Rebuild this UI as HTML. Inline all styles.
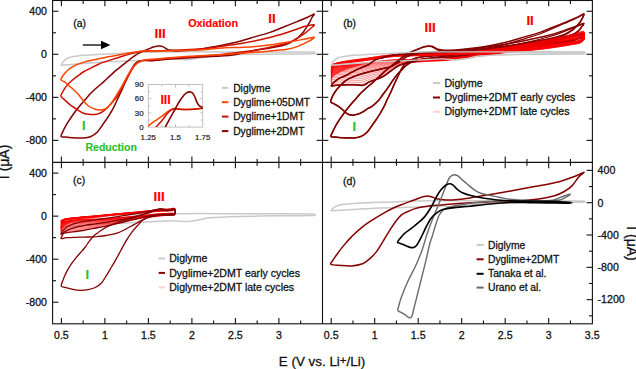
<!DOCTYPE html>
<html><head><meta charset="utf-8"><title>CV figure</title>
<style>html,body{margin:0;padding:0;background:#fff;width:636px;height:369px;overflow:hidden}
body{position:relative;font-family:"Liberation Sans",sans-serif}</style></head>
<body>
<svg width="636" height="369" viewBox="0 0 636 369" style="position:absolute;left:0;top:0">
<rect width="636" height="369" fill="#fff"/>
<path d="M61.3 65.0 C61.3 64.5 62.2 62.9 63.2 61.8 C64.2 60.7 65.4 59.4 67.1 58.5 C68.8 57.6 70.8 57.1 73.6 56.6 C76.4 56.1 80.1 55.7 84.0 55.3 C87.9 54.9 92.7 54.6 97.0 54.4 C101.3 54.2 104.8 54.1 110.0 53.9 C115.2 53.7 122.2 53.3 128.0 53.0 C133.8 52.7 139.7 52.5 145.0 52.3 C150.3 52.1 150.8 52.0 160.0 51.9 C169.2 51.8 186.7 51.8 200.0 51.8 C213.3 51.8 226.7 52.0 240.0 52.0 C253.3 52.0 268.1 52.0 280.0 52.0 C291.9 52.0 305.8 52.0 311.5 52.1 C317.2 52.2 314.3 52.6 314.3 52.9 C314.3 53.2 317.2 53.6 311.5 53.8 C305.8 54.0 291.9 53.9 280.0 54.0 C268.1 54.1 251.6 54.3 240.0 54.6 C228.4 54.9 217.4 55.4 210.3 56.0 C203.2 56.6 201.9 57.7 197.7 58.3 C193.5 58.9 189.4 59.7 185.2 59.8 C181.0 59.9 176.8 58.9 172.6 58.9 C168.4 58.9 165.9 59.2 160.0 59.5 C154.1 59.8 145.4 60.2 137.1 60.6 C128.8 61.0 116.7 61.3 110.0 61.6 C103.3 61.9 101.3 62.1 97.0 62.4 C92.7 62.7 88.3 63.1 84.0 63.4 C79.7 63.7 74.5 64.1 71.0 64.4 C67.5 64.7 64.6 65.0 63.0 65.1 C61.4 65.2 61.3 65.5 61.3 65.0Z" fill="none" stroke="#c9c9c9" stroke-width="1.50" stroke-linejoin="round" stroke-linecap="round"/>
<path d="M61.0 136.5 C60.6 135.6 62.2 133.2 62.9 131.6 C63.6 130.0 64.5 128.2 65.3 126.7 C66.1 125.2 66.8 124.0 67.8 122.4 C68.8 120.8 70.0 119.0 71.4 117.0 C72.8 115.0 74.7 112.4 76.3 110.2 C77.9 108.0 79.6 106.0 81.2 104.1 C82.8 102.2 84.5 100.5 86.0 98.7 C87.5 97.0 88.7 95.5 90.5 93.6 C92.3 91.7 94.9 89.4 97.0 87.5 C99.1 85.6 100.8 84.3 103.0 82.4 C105.2 80.5 107.9 77.8 110.0 75.9 C112.1 74.0 113.6 72.5 115.4 70.9 C117.2 69.4 119.0 68.0 120.8 66.6 C122.6 65.1 124.5 63.7 126.3 62.2 C128.1 60.8 129.9 59.2 131.7 57.9 C133.5 56.5 135.3 55.2 137.1 54.1 C138.9 53.0 140.7 52.2 142.5 51.4 C144.3 50.6 146.2 49.9 148.0 49.2 C149.8 48.5 151.6 47.5 153.4 47.0 C155.2 46.5 157.4 46.0 158.8 45.9 C160.2 45.8 161.0 46.1 162.0 46.4 C163.0 46.7 164.0 47.3 165.0 47.9 C166.0 48.4 166.5 49.2 168.0 49.7 C169.5 50.2 171.2 50.7 174.0 50.8 C176.8 51.0 180.7 50.9 185.0 50.6 C189.3 50.3 195.2 49.9 200.0 49.2 C204.8 48.6 209.1 47.6 214.0 46.7 C218.9 45.8 224.9 44.7 229.2 43.8 C233.5 42.9 235.8 42.4 240.0 41.2 C244.2 40.1 249.5 38.4 254.5 36.9 C259.5 35.4 265.1 34.0 270.0 32.4 C274.9 30.8 279.1 28.8 283.6 27.0 C288.1 25.2 293.7 23.0 297.1 21.6 C300.5 20.2 301.9 19.7 303.9 18.8 C305.9 17.9 307.3 17.3 309.0 16.5 C310.7 15.7 313.7 13.9 314.2 14.1 C314.7 14.3 312.8 16.0 312.0 17.5 C311.2 19.0 310.3 21.1 309.3 22.9 C308.3 24.7 307.0 26.6 305.9 28.3 C304.8 30.0 304.0 31.4 302.5 33.1 C301.0 34.8 299.1 36.9 297.1 38.5 C295.1 40.1 292.6 41.5 290.3 42.6 C288.1 43.7 287.0 44.4 283.6 45.3 C280.2 46.2 274.9 47.1 270.0 48.0 C265.1 48.9 260.7 49.2 254.5 50.4 C248.3 51.5 241.9 53.8 232.8 54.9 C223.7 56.0 210.5 56.4 200.0 57.1 C189.5 57.8 176.7 58.6 170.0 59.1 C163.3 59.6 163.3 59.6 160.0 59.9 C156.7 60.2 152.7 60.7 150.0 60.8 C147.3 60.9 145.7 60.3 144.0 60.4 C142.3 60.4 141.2 60.5 139.8 60.9 C138.4 61.4 136.9 61.7 135.5 63.2 C134.1 64.7 132.5 67.3 131.2 69.7 C129.9 72.1 128.7 75.0 127.5 77.5 C126.3 80.0 125.2 82.4 124.0 85.0 C122.8 87.6 121.7 90.5 120.5 93.0 C119.3 95.5 118.0 98.1 117.0 100.3 C116.0 102.5 115.2 104.3 114.2 106.3 C113.2 108.3 112.0 110.5 110.8 112.5 C109.6 114.5 108.6 116.2 107.3 118.2 C106.0 120.2 104.3 122.3 102.8 124.5 C101.2 126.7 99.2 129.7 98.0 131.2 C96.8 132.7 97.0 132.5 95.8 133.4 C94.6 134.3 92.5 135.8 90.9 136.5 C89.3 137.2 87.8 137.5 86.0 137.7 C84.2 137.9 82.2 137.9 80.0 137.9 C77.8 137.9 75.0 137.8 72.6 137.7 C70.1 137.6 67.2 137.3 65.3 137.1 C63.4 136.9 61.4 137.4 61.0 136.5Z" fill="none" stroke="#850000" stroke-width="1.50" stroke-linejoin="round" stroke-linecap="round"/>
<path d="M60.9 96.2 C60.5 94.6 62.4 92.5 63.2 91.0 C64.0 89.5 64.5 88.5 65.8 86.9 C67.1 85.3 69.0 83.1 71.0 81.3 C73.0 79.5 75.3 77.7 77.5 76.1 C79.7 74.5 81.8 72.8 84.0 71.5 C86.2 70.2 88.3 69.4 90.5 68.3 C92.7 67.2 94.9 66.0 97.0 65.0 C99.1 64.0 100.8 63.2 103.0 62.4 C105.2 61.6 107.0 61.0 110.0 60.1 C113.0 59.2 117.2 57.9 120.8 56.8 C124.4 55.7 128.4 54.5 131.7 53.6 C135.0 52.7 137.3 51.9 140.4 51.5 C143.5 51.1 146.7 51.2 150.0 51.1 C153.3 51.0 151.7 51.1 160.0 50.7 C168.3 50.3 189.7 49.6 200.0 48.9 C210.3 48.2 214.7 47.3 222.0 46.3 C229.3 45.3 236.5 44.3 243.7 43.0 C250.9 41.7 258.2 40.4 265.4 38.6 C272.6 36.9 281.3 34.3 287.1 32.5 C292.9 30.7 296.8 29.1 300.0 28.0 C303.2 26.9 304.2 26.5 306.6 26.0 C309.0 25.5 313.6 24.4 314.2 24.9 C314.8 25.4 311.6 27.6 310.0 29.0 C308.4 30.4 306.8 31.9 304.4 33.6 C302.0 35.3 298.7 37.4 295.8 39.0 C292.9 40.6 292.2 41.5 287.1 43.0 C282.0 44.5 272.6 46.7 265.4 48.2 C258.2 49.7 250.9 50.8 243.7 51.8 C236.5 52.8 229.3 53.6 222.0 54.4 C214.7 55.2 208.7 55.6 200.0 56.3 C191.3 56.9 176.7 57.8 170.0 58.3 C163.3 58.8 163.7 58.9 160.0 59.2 C156.3 59.5 150.8 60.0 148.0 60.2 C145.2 60.4 144.4 60.2 143.0 60.4 C141.6 60.6 140.6 60.9 139.5 61.4 C138.4 61.9 137.5 62.3 136.3 63.5 C135.1 64.7 133.8 66.4 132.5 68.5 C131.2 70.6 129.7 73.5 128.3 76.0 C126.9 78.5 125.5 81.2 124.2 83.6 C122.9 86.0 121.7 88.3 120.5 90.5 C119.3 92.7 118.0 95.2 116.8 97.0 C115.5 98.8 114.2 100.1 113.0 101.5 C111.8 102.9 110.7 104.1 109.6 105.3 C108.5 106.5 107.3 107.8 106.2 108.8 C105.1 109.8 104.2 110.8 102.8 111.6 C101.4 112.4 99.4 113.4 98.0 113.9 C96.6 114.4 96.2 114.4 94.6 114.5 C93.0 114.6 90.5 114.6 88.5 114.3 C86.5 114.0 84.4 113.6 82.4 112.7 C80.4 111.8 78.3 110.3 76.3 109.0 C74.3 107.7 72.0 106.2 70.2 104.8 C68.4 103.4 66.8 101.9 65.3 100.5 C63.8 99.1 61.2 97.8 60.9 96.2Z" fill="none" stroke="#cc1000" stroke-width="1.50" stroke-linejoin="round" stroke-linecap="round"/>
<path d="M60.9 79.6 C60.7 78.5 62.4 76.6 63.2 75.4 C64.0 74.2 64.5 73.5 65.8 72.2 C67.1 70.9 69.0 68.9 71.0 67.6 C73.0 66.3 75.3 65.3 77.5 64.4 C79.7 63.5 81.8 62.8 84.0 62.1 C86.2 61.5 88.3 61.0 90.5 60.5 C92.7 60.0 94.9 59.6 97.0 59.2 C99.1 58.8 100.8 58.3 103.0 57.9 C105.2 57.5 107.0 57.1 110.0 56.6 C113.0 56.1 117.2 55.3 120.8 54.6 C124.4 53.9 128.1 53.1 131.7 52.5 C135.3 51.9 139.8 51.3 142.5 51.0 C145.2 50.7 145.1 50.8 148.0 50.8 C150.9 50.8 151.3 51.2 160.0 51.1 C168.7 51.0 189.7 50.6 200.0 50.1 C210.3 49.6 214.7 48.4 222.0 47.9 C229.3 47.4 236.5 47.7 243.7 47.3 C250.9 46.9 258.2 46.4 265.4 45.6 C272.6 44.8 280.6 43.4 287.1 42.3 C293.6 41.2 299.9 40.0 304.4 39.2 C308.9 38.4 313.5 37.0 314.2 37.3 C314.9 37.6 311.5 39.7 308.8 41.2 C306.1 42.7 301.5 45.0 297.9 46.4 C294.3 47.8 292.5 48.5 287.1 49.3 C281.7 50.1 272.6 50.8 265.4 51.4 C258.2 52.0 250.9 52.5 243.7 53.0 C236.5 53.6 229.3 54.1 222.0 54.6 C214.7 55.1 208.7 55.3 200.0 55.8 C191.3 56.3 176.7 57.2 170.0 57.7 C163.3 58.2 163.7 58.4 160.0 58.7 C156.3 59.0 150.7 59.4 148.0 59.6 C145.3 59.8 145.3 59.7 144.0 60.0 C142.7 60.4 141.6 60.9 140.2 61.6 C138.8 62.3 137.3 63.1 135.8 64.5 C134.3 65.9 132.8 67.6 131.3 69.7 C129.8 71.8 128.3 74.5 126.8 77.1 C125.3 79.7 123.9 82.7 122.4 85.3 C120.9 87.9 119.4 90.3 117.9 92.8 C116.4 95.3 114.9 98.0 113.4 100.2 C111.9 102.4 110.4 104.7 108.9 106.2 C107.4 107.7 106.0 108.6 104.5 109.2 C103.0 109.8 101.7 110.0 100.0 110.0 C98.3 110.0 96.5 109.7 94.6 109.0 C92.7 108.3 90.3 107.3 88.5 106.0 C86.7 104.7 84.9 102.6 83.6 101.1 C82.3 99.6 81.3 98.2 80.5 97.2 C79.7 96.2 80.0 96.2 78.8 94.9 C77.6 93.7 75.3 91.3 73.6 89.7 C71.9 88.1 69.9 86.5 68.4 85.2 C66.9 83.9 65.8 82.8 64.5 81.9 C63.2 81.0 61.1 80.7 60.9 79.6Z" fill="none" stroke="#ff4400" stroke-width="1.50" stroke-linejoin="round" stroke-linecap="round"/>
<g stroke="#b4b4b4" stroke-width="0.8" fill="none">
<rect x="148.3" y="84.6" width="54.4" height="42.5" fill="#fff"/>
<line x1="148.3" y1="91.6" x2="150.3" y2="91.6"/>
<line x1="200.7" y1="91.6" x2="202.7" y2="91.6"/>
<line x1="148.3" y1="98.7" x2="151.3" y2="98.7"/>
<line x1="199.7" y1="98.7" x2="202.7" y2="98.7"/>
<line x1="148.3" y1="105.8" x2="150.3" y2="105.8"/>
<line x1="200.7" y1="105.8" x2="202.7" y2="105.8"/>
<line x1="148.3" y1="112.9" x2="151.3" y2="112.9"/>
<line x1="199.7" y1="112.9" x2="202.7" y2="112.9"/>
<line x1="148.3" y1="120.0" x2="150.3" y2="120.0"/>
<line x1="200.7" y1="120.0" x2="202.7" y2="120.0"/>
<line x1="161.9" y1="84.6" x2="161.9" y2="86.6"/>
<line x1="161.9" y1="127.1" x2="161.9" y2="125.1"/>
<line x1="175.5" y1="84.6" x2="175.5" y2="87.6"/>
<line x1="175.5" y1="127.1" x2="175.5" y2="124.1"/>
<line x1="189.1" y1="84.6" x2="189.1" y2="86.6"/>
<line x1="189.1" y1="127.1" x2="189.1" y2="125.1"/>
</g>
<clipPath id="ci"><rect x="148.3" y="84.6" width="54.4" height="42.5"/></clipPath>
<g clip-path="url(#ci)">
<path d="M146.0 127.5 C146.4 127.2 146.9 126.8 148.3 125.8 C149.7 124.8 152.3 122.8 154.6 121.2 C156.9 119.6 159.8 117.7 162.0 116.1 C164.2 114.5 166.2 112.8 167.8 111.7 C169.4 110.6 170.3 110.0 171.5 109.5 C172.7 109.0 173.0 108.6 175.1 108.6 C177.2 108.6 181.2 109.3 183.9 109.4 C186.6 109.5 189.1 109.4 191.3 109.3 C193.5 109.2 194.9 109.0 197.0 108.7 C199.1 108.5 202.8 108.0 204.0 107.8" fill="none" stroke="#ff4400" stroke-width="1.50" stroke-linejoin="round" stroke-linecap="round"/>
<path d="M154.5 129.5 C154.8 129.1 154.8 128.6 156.1 127.1 C157.3 125.6 160.1 122.8 162.0 120.5 C163.9 118.2 166.1 114.9 167.8 113.1 C169.5 111.2 171.0 110.1 172.2 109.4 C173.4 108.7 173.1 108.8 175.1 108.8 C177.1 108.8 181.2 109.5 183.9 109.6 C186.6 109.7 189.1 109.5 191.3 109.4 C193.5 109.3 194.9 109.1 197.0 108.9 C199.1 108.7 202.8 108.3 204.0 108.2" fill="none" stroke="#cc1000" stroke-width="1.50" stroke-linejoin="round" stroke-linecap="round"/>
<path d="M163.8 129.5 C164.0 129.1 164.3 128.7 165.2 127.1 C166.1 125.5 167.9 122.3 169.3 119.7 C170.7 117.1 172.2 114.4 173.7 111.7 C175.2 109.0 176.6 106.0 178.1 103.6 C179.6 101.1 181.2 98.7 182.5 97.0 C183.8 95.3 184.9 94.0 186.1 93.2 C187.3 92.4 188.7 91.9 189.8 91.9 C190.9 91.9 191.8 92.4 192.7 93.2 C193.5 94.0 194.2 95.4 194.9 97.0 C195.6 98.6 196.4 101.1 197.1 102.6 C197.8 104.1 198.5 105.0 199.3 105.8 C200.1 106.6 201.2 106.9 202.0 107.2 C202.8 107.5 203.7 107.5 204.0 107.6" fill="none" stroke="#850000" stroke-width="1.60" stroke-linejoin="round" stroke-linecap="round"/>
</g>
<g font-family="Liberation Sans, sans-serif" font-size="7.9" fill="#222" stroke="#222" stroke-width="0.2">
<text x="143.6" y="87.3" text-anchor="end">90</text>
<text x="143.6" y="101.4" text-anchor="end">60</text>
<text x="143.6" y="115.6" text-anchor="end">30</text>
<text x="143.6" y="129.8" text-anchor="end">0</text>
<text x="148.3" y="139.7" text-anchor="middle">1.25</text>
<text x="175.5" y="139.7" text-anchor="middle">1.5</text>
<text x="202.7" y="139.7" text-anchor="middle">1.75</text>
</g>
<path d="M331.6 64.9 C333.0 62.7 336.9 64.8 340.0 64.7 C343.1 64.7 346.3 64.7 350.0 64.6 C353.7 64.5 361.0 63.7 362.0 64.0 C363.0 64.3 358.3 65.7 356.0 66.5 C353.7 67.3 350.7 68.0 348.0 69.0 C345.3 70.0 342.3 71.3 340.0 72.5 C337.7 73.7 335.4 75.1 334.0 76.0 C332.6 76.9 332.0 79.8 331.6 78.0 C331.2 76.2 330.2 67.1 331.6 64.9Z" fill="#ff0000" fill-opacity="0.7" stroke="none"/>
<path d="M331.4 65.0 C330.9 64.8 331.7 64.9 332.3 64.6 C332.9 64.4 332.7 64.2 334.8 63.6 C336.9 63.0 339.8 62.1 345.0 61.2 C350.2 60.3 358.5 59.2 366.0 58.2 C373.5 57.2 383.0 55.5 390.0 54.9 C397.0 54.2 401.3 54.4 408.0 54.3 C414.7 54.1 423.0 54.2 430.0 54.0 C437.0 53.8 443.3 53.6 450.0 53.2 C456.7 52.8 461.7 52.6 470.0 51.8 C478.3 51.0 490.0 49.6 500.0 48.2 C510.0 46.8 522.5 44.5 530.0 43.2 C537.5 41.9 540.0 41.2 545.0 40.2 C550.0 39.2 555.5 38.2 560.0 37.2 C564.5 36.2 568.0 35.4 572.0 34.4 C576.0 33.4 582.6 30.6 584.0 31.5 C585.4 32.4 582.5 38.0 580.5 39.6 C578.5 41.2 575.4 40.8 572.0 41.4 C568.6 42.0 564.5 42.6 560.0 43.2 C555.5 43.8 550.0 44.3 545.0 45.0 C540.0 45.7 537.5 46.3 530.0 47.2 C522.5 48.1 510.0 49.2 500.0 50.6 C490.0 52.0 479.2 54.5 470.0 55.8 C460.8 57.1 451.7 57.8 445.0 58.4 C438.3 59.0 436.2 59.1 430.0 59.3 C423.8 59.5 413.0 59.5 408.0 59.5 C403.0 59.5 402.2 59.6 400.0 59.6 C397.8 59.6 396.7 59.7 395.0 59.8 C393.3 59.9 391.7 60.0 390.0 60.1 C388.3 60.2 386.7 60.4 385.0 60.5 C383.3 60.6 381.7 60.8 380.0 61.0 C378.3 61.2 377.0 61.3 375.0 61.6 C373.0 61.9 370.2 62.3 368.0 62.6 C365.8 62.9 364.0 63.2 362.0 63.5 C360.0 63.8 358.8 64.0 356.0 64.2 C353.2 64.5 348.5 64.8 345.0 65.0 C341.5 65.2 337.3 65.6 335.0 65.6 C332.7 65.6 331.8 65.2 331.4 65.0Z" fill="none" stroke="#ff0000" stroke-width="1.00" stroke-linejoin="round" stroke-linecap="round" stroke-opacity="0.42"/>
<path d="M331.4 65.1 C330.9 64.9 331.7 64.9 332.3 64.7 C332.9 64.4 332.7 64.2 334.8 63.6 C336.9 63.1 339.8 62.2 345.0 61.3 C350.2 60.4 358.5 59.4 366.0 58.3 C373.5 57.3 383.0 55.7 390.0 55.0 C397.0 54.4 401.3 54.5 408.0 54.4 C414.7 54.2 423.0 54.3 430.0 54.1 C437.0 53.9 443.3 53.6 450.0 53.3 C456.7 52.9 461.7 52.7 470.0 51.9 C478.3 51.1 490.0 49.8 500.0 48.4 C510.0 46.9 522.5 44.7 530.0 43.4 C537.5 42.1 540.0 41.4 545.0 40.4 C550.0 39.4 555.5 38.4 560.0 37.5 C564.5 36.5 568.0 35.6 572.0 34.7 C576.0 33.8 582.6 31.0 584.0 31.9 C585.4 32.7 582.5 38.2 580.5 39.8 C578.5 41.4 575.4 41.0 572.0 41.6 C568.6 42.2 564.5 42.8 560.0 43.4 C555.5 44.0 550.0 44.5 545.0 45.2 C540.0 45.9 537.5 46.4 530.0 47.4 C522.5 48.3 510.0 49.3 500.0 50.7 C490.0 52.2 479.2 54.6 470.0 55.9 C460.8 57.2 451.7 57.9 445.0 58.5 C438.3 59.1 436.2 59.1 430.0 59.3 C423.8 59.5 413.0 59.5 408.0 59.5 C403.0 59.6 402.2 59.6 400.0 59.6 C397.8 59.7 396.7 59.7 395.0 59.8 C393.3 59.9 391.7 60.0 390.0 60.1 C388.3 60.3 386.7 60.4 385.0 60.5 C383.3 60.7 381.7 60.9 380.0 61.0 C378.3 61.2 377.0 61.4 375.0 61.6 C373.0 61.9 370.2 62.3 368.0 62.7 C365.8 63.0 364.0 63.3 362.0 63.6 C360.0 63.8 358.8 64.0 356.0 64.3 C353.2 64.5 348.5 64.8 345.0 65.1 C341.5 65.3 337.3 65.6 335.0 65.7 C332.7 65.7 331.8 65.3 331.4 65.1Z" fill="none" stroke="#ff0000" stroke-width="1.00" stroke-linejoin="round" stroke-linecap="round" stroke-opacity="0.42"/>
<path d="M331.4 65.3 C330.9 65.2 331.7 65.0 332.3 64.8 C332.9 64.5 332.7 64.2 334.8 63.7 C336.9 63.1 339.8 62.3 345.0 61.4 C350.2 60.5 358.5 59.5 366.0 58.5 C373.5 57.4 383.0 55.8 390.0 55.1 C397.0 54.5 401.3 54.6 408.0 54.5 C414.7 54.3 423.0 54.4 430.0 54.2 C437.0 54.0 443.3 53.7 450.0 53.4 C456.7 53.0 461.7 52.9 470.0 52.1 C478.3 51.2 490.0 49.9 500.0 48.5 C510.0 47.1 522.5 45.0 530.0 43.6 C537.5 42.3 540.0 41.6 545.0 40.7 C550.0 39.7 555.5 38.7 560.0 37.7 C564.5 36.8 568.0 35.9 572.0 35.0 C576.0 34.1 582.6 31.4 584.0 32.2 C585.4 33.1 582.5 38.4 580.5 39.9 C578.5 41.5 575.4 41.1 572.0 41.7 C568.6 42.3 564.5 42.9 560.0 43.6 C555.5 44.2 550.0 44.7 545.0 45.4 C540.0 46.1 537.5 46.6 530.0 47.5 C522.5 48.4 510.0 49.5 500.0 50.9 C490.0 52.3 479.2 54.7 470.0 56.0 C460.8 57.3 451.7 58.1 445.0 58.6 C438.3 59.2 436.2 59.2 430.0 59.3 C423.8 59.5 413.0 59.5 408.0 59.5 C403.0 59.6 402.2 59.6 400.0 59.7 C397.8 59.7 396.7 59.8 395.0 59.9 C393.3 60.0 391.7 60.1 390.0 60.2 C388.3 60.4 386.7 60.5 385.0 60.7 C383.3 60.8 381.7 61.0 380.0 61.2 C378.3 61.4 377.0 61.5 375.0 61.8 C373.0 62.1 370.2 62.5 368.0 62.8 C365.8 63.1 364.0 63.5 362.0 63.7 C360.0 64.0 358.8 64.2 356.0 64.4 C353.2 64.7 348.5 65.0 345.0 65.2 C341.5 65.5 337.3 65.8 335.0 65.8 C332.7 65.8 331.8 65.5 331.4 65.3Z" fill="none" stroke="#ff0000" stroke-width="1.00" stroke-linejoin="round" stroke-linecap="round" stroke-opacity="0.42"/>
<path d="M331.4 65.7 C330.9 65.5 331.7 65.2 332.3 64.9 C332.9 64.6 332.7 64.3 334.8 63.7 C336.9 63.2 339.8 62.4 345.0 61.5 C350.2 60.7 358.5 59.6 366.0 58.6 C373.5 57.5 383.0 55.9 390.0 55.2 C397.0 54.6 401.3 54.7 408.0 54.6 C414.7 54.4 423.0 54.4 430.0 54.3 C437.0 54.1 443.3 53.8 450.0 53.5 C456.7 53.1 461.7 53.0 470.0 52.2 C478.3 51.4 490.0 50.1 500.0 48.7 C510.0 47.3 522.5 45.2 530.0 43.9 C537.5 42.6 540.0 41.9 545.0 40.9 C550.0 39.9 555.5 38.9 560.0 38.0 C564.5 37.1 568.0 36.2 572.0 35.3 C576.0 34.4 582.6 31.8 584.0 32.6 C585.4 33.4 582.5 38.6 580.5 40.1 C578.5 41.7 575.4 41.3 572.0 41.9 C568.6 42.5 564.5 43.1 560.0 43.7 C555.5 44.4 550.0 44.9 545.0 45.6 C540.0 46.3 537.5 46.8 530.0 47.7 C522.5 48.6 510.0 49.6 500.0 51.0 C490.0 52.4 479.2 54.8 470.0 56.1 C460.8 57.3 451.7 58.2 445.0 58.7 C438.3 59.3 436.2 59.2 430.0 59.3 C423.8 59.5 413.0 59.5 408.0 59.6 C403.0 59.7 402.2 59.7 400.0 59.7 C397.8 59.8 396.7 59.9 395.0 60.0 C393.3 60.1 391.7 60.3 390.0 60.4 C388.3 60.5 386.7 60.7 385.0 60.9 C383.3 61.0 381.7 61.2 380.0 61.4 C378.3 61.6 377.0 61.8 375.0 62.0 C373.0 62.3 370.2 62.8 368.0 63.1 C365.8 63.4 364.0 63.8 362.0 64.0 C360.0 64.3 358.8 64.5 356.0 64.7 C353.2 65.0 348.5 65.3 345.0 65.5 C341.5 65.7 337.3 66.1 335.0 66.1 C332.7 66.1 331.8 65.9 331.4 65.7Z" fill="none" stroke="#ff0000" stroke-width="1.00" stroke-linejoin="round" stroke-linecap="round" stroke-opacity="0.42"/>
<path d="M331.4 66.2 C330.9 65.9 331.7 65.5 332.3 65.1 C332.9 64.7 332.7 64.3 334.8 63.8 C336.9 63.2 339.8 62.5 345.0 61.6 C350.2 60.8 358.5 59.8 366.0 58.7 C373.5 57.7 383.0 56.0 390.0 55.3 C397.0 54.7 401.3 54.8 408.0 54.7 C414.7 54.5 423.0 54.5 430.0 54.3 C437.0 54.2 443.3 53.9 450.0 53.5 C456.7 53.2 461.7 53.1 470.0 52.3 C478.3 51.5 490.0 50.2 500.0 48.8 C510.0 47.5 522.5 45.4 530.0 44.1 C537.5 42.8 540.0 42.1 545.0 41.1 C550.0 40.2 555.5 39.2 560.0 38.3 C564.5 37.3 568.0 36.5 572.0 35.6 C576.0 34.7 582.6 32.2 584.0 33.0 C585.4 33.8 582.5 38.8 580.5 40.3 C578.5 41.8 575.4 41.5 572.0 42.1 C568.6 42.7 564.5 43.3 560.0 43.9 C555.5 44.5 550.0 45.1 545.0 45.8 C540.0 46.5 537.5 47.0 530.0 47.9 C522.5 48.8 510.0 49.8 500.0 51.1 C490.0 52.5 479.2 54.9 470.0 56.1 C460.8 57.4 451.7 58.3 445.0 58.8 C438.3 59.4 436.2 59.2 430.0 59.4 C423.8 59.5 413.0 59.6 408.0 59.7 C403.0 59.7 402.2 59.8 400.0 59.9 C397.8 59.9 396.7 60.1 395.0 60.2 C393.3 60.3 391.7 60.5 390.0 60.6 C388.3 60.8 386.7 61.0 385.0 61.1 C383.3 61.3 381.7 61.5 380.0 61.7 C378.3 61.9 377.0 62.1 375.0 62.4 C373.0 62.7 370.2 63.1 368.0 63.5 C365.8 63.8 364.0 64.2 362.0 64.4 C360.0 64.7 358.8 64.9 356.0 65.1 C353.2 65.4 348.5 65.7 345.0 65.9 C341.5 66.1 337.3 66.4 335.0 66.5 C332.7 66.5 331.8 66.4 331.4 66.2Z" fill="none" stroke="#ff0000" stroke-width="1.00" stroke-linejoin="round" stroke-linecap="round" stroke-opacity="0.42"/>
<path d="M331.4 66.7 C330.9 66.4 331.7 65.8 332.3 65.3 C332.9 64.8 332.7 64.4 334.8 63.8 C336.9 63.2 339.8 62.6 345.0 61.7 C350.2 60.9 358.5 59.9 366.0 58.8 C373.5 57.8 383.0 56.1 390.0 55.5 C397.0 54.8 401.3 54.9 408.0 54.7 C414.7 54.6 423.0 54.6 430.0 54.4 C437.0 54.2 443.3 54.0 450.0 53.6 C456.7 53.3 461.7 53.2 470.0 52.4 C478.3 51.7 490.0 50.3 500.0 49.0 C510.0 47.6 522.5 45.6 530.0 44.3 C537.5 43.0 540.0 42.3 545.0 41.4 C550.0 40.4 555.5 39.4 560.0 38.5 C564.5 37.6 568.0 36.8 572.0 35.9 C576.0 35.1 582.6 32.6 584.0 33.4 C585.4 34.1 582.5 39.0 580.5 40.4 C578.5 41.9 575.4 41.6 572.0 42.2 C568.6 42.9 564.5 43.5 560.0 44.1 C555.5 44.7 550.0 45.3 545.0 46.0 C540.0 46.7 537.5 47.2 530.0 48.0 C522.5 48.9 510.0 49.9 500.0 51.3 C490.0 52.6 479.2 54.9 470.0 56.2 C460.8 57.5 451.7 58.4 445.0 58.9 C438.3 59.5 436.2 59.3 430.0 59.4 C423.8 59.6 413.0 59.6 408.0 59.7 C403.0 59.8 402.2 59.9 400.0 60.0 C397.8 60.1 396.7 60.2 395.0 60.4 C393.3 60.6 391.7 60.7 390.0 60.9 C388.3 61.1 386.7 61.3 385.0 61.5 C383.3 61.7 381.7 61.9 380.0 62.1 C378.3 62.4 377.0 62.5 375.0 62.8 C373.0 63.1 370.2 63.6 368.0 63.9 C365.8 64.3 364.0 64.7 362.0 65.0 C360.0 65.2 358.8 65.4 356.0 65.6 C353.2 65.9 348.5 66.2 345.0 66.4 C341.5 66.6 337.3 66.9 335.0 66.9 C332.7 67.0 331.8 67.0 331.4 66.7Z" fill="none" stroke="#ff0000" stroke-width="1.00" stroke-linejoin="round" stroke-linecap="round" stroke-opacity="0.42"/>
<path d="M331.4 67.4 C330.9 67.1 331.7 66.2 332.3 65.6 C332.9 65.0 332.7 64.5 334.8 63.9 C336.9 63.2 339.8 62.6 345.0 61.8 C350.2 61.0 358.5 60.0 366.0 59.0 C373.5 57.9 383.0 56.2 390.0 55.6 C397.0 54.9 401.3 55.0 408.0 54.8 C414.7 54.7 423.0 54.7 430.0 54.5 C437.0 54.3 443.3 54.0 450.0 53.7 C456.7 53.4 461.7 53.3 470.0 52.6 C478.3 51.8 490.0 50.5 500.0 49.1 C510.0 47.8 522.5 45.8 530.0 44.5 C537.5 43.3 540.0 42.5 545.0 41.6 C550.0 40.6 555.5 39.7 560.0 38.8 C564.5 37.9 568.0 37.1 572.0 36.2 C576.0 35.4 582.6 33.0 584.0 33.7 C585.4 34.5 582.5 39.2 580.5 40.6 C578.5 42.1 575.4 41.8 572.0 42.4 C568.6 43.0 564.5 43.6 560.0 44.3 C555.5 44.9 550.0 45.5 545.0 46.2 C540.0 46.9 537.5 47.3 530.0 48.2 C522.5 49.1 510.0 50.1 500.0 51.4 C490.0 52.8 479.2 55.0 470.0 56.3 C460.8 57.6 451.7 58.5 445.0 59.0 C438.3 59.6 436.2 59.4 430.0 59.5 C423.8 59.6 413.0 59.7 408.0 59.8 C403.0 60.0 402.2 60.1 400.0 60.2 C397.8 60.3 396.7 60.5 395.0 60.7 C393.3 60.9 391.7 61.1 390.0 61.3 C388.3 61.5 386.7 61.7 385.0 61.9 C383.3 62.2 381.7 62.4 380.0 62.6 C378.3 62.9 377.0 63.1 375.0 63.4 C373.0 63.7 370.2 64.2 368.0 64.5 C365.8 64.9 364.0 65.3 362.0 65.6 C360.0 65.9 358.8 66.0 356.0 66.3 C353.2 66.5 348.5 66.8 345.0 67.0 C341.5 67.2 337.3 67.5 335.0 67.5 C332.7 67.6 331.8 67.7 331.4 67.4Z" fill="none" stroke="#ff0000" stroke-width="1.00" stroke-linejoin="round" stroke-linecap="round" stroke-opacity="0.42"/>
<path d="M331.4 68.1 C330.9 67.8 331.7 66.6 332.3 65.9 C332.9 65.2 332.7 64.6 334.8 63.9 C336.9 63.2 339.8 62.7 345.0 61.9 C350.2 61.1 358.5 60.1 366.0 59.1 C373.5 58.0 383.0 56.4 390.0 55.7 C397.0 55.0 401.3 55.1 408.0 54.9 C414.7 54.7 423.0 54.8 430.0 54.6 C437.0 54.4 443.3 54.1 450.0 53.8 C456.7 53.5 461.7 53.4 470.0 52.7 C478.3 51.9 490.0 50.6 500.0 49.3 C510.0 48.0 522.5 46.0 530.0 44.7 C537.5 43.5 540.0 42.8 545.0 41.8 C550.0 40.9 555.5 39.9 560.0 39.0 C564.5 38.2 568.0 37.4 572.0 36.5 C576.0 35.7 582.6 33.4 584.0 34.1 C585.4 34.8 582.5 39.4 580.5 40.8 C578.5 42.2 575.4 42.0 572.0 42.6 C568.6 43.2 564.5 43.8 560.0 44.5 C555.5 45.1 550.0 45.7 545.0 46.4 C540.0 47.1 537.5 47.5 530.0 48.4 C522.5 49.2 510.0 50.2 500.0 51.6 C490.0 52.9 479.2 55.1 470.0 56.4 C460.8 57.7 451.7 58.6 445.0 59.1 C438.3 59.7 436.2 59.4 430.0 59.6 C423.8 59.7 413.0 59.8 408.0 60.0 C403.0 60.1 402.2 60.2 400.0 60.4 C397.8 60.6 396.7 60.8 395.0 61.0 C393.3 61.2 391.7 61.5 390.0 61.7 C388.3 62.0 386.7 62.2 385.0 62.5 C383.3 62.7 381.7 63.0 380.0 63.2 C378.3 63.5 377.0 63.7 375.0 64.0 C373.0 64.4 370.2 64.8 368.0 65.2 C365.8 65.6 364.0 66.1 362.0 66.4 C360.0 66.6 358.8 66.8 356.0 67.0 C353.2 67.2 348.5 67.5 345.0 67.7 C341.5 67.9 337.3 68.2 335.0 68.2 C332.7 68.3 331.8 68.5 331.4 68.1Z" fill="none" stroke="#ff0000" stroke-width="1.00" stroke-linejoin="round" stroke-linecap="round" stroke-opacity="0.42"/>
<path d="M331.4 69.0 C330.9 68.5 331.7 67.1 332.3 66.2 C332.9 65.4 332.7 64.6 334.8 63.9 C336.9 63.2 339.8 62.8 345.0 62.0 C350.2 61.3 358.5 60.3 366.0 59.2 C373.5 58.2 383.0 56.5 390.0 55.8 C397.0 55.1 401.3 55.2 408.0 55.0 C414.7 54.8 423.0 54.9 430.0 54.7 C437.0 54.5 443.3 54.2 450.0 53.9 C456.7 53.6 461.7 53.5 470.0 52.8 C478.3 52.1 490.0 50.8 500.0 49.5 C510.0 48.2 522.5 46.2 530.0 45.0 C537.5 43.7 540.0 43.0 545.0 42.1 C550.0 41.1 555.5 40.2 560.0 39.3 C564.5 38.4 568.0 37.6 572.0 36.8 C576.0 36.0 582.6 33.8 584.0 34.5 C585.4 35.2 582.5 39.6 580.5 40.9 C578.5 42.3 575.4 42.1 572.0 42.7 C568.6 43.4 564.5 44.0 560.0 44.6 C555.5 45.3 550.0 45.9 545.0 46.6 C540.0 47.3 537.5 47.7 530.0 48.5 C522.5 49.4 510.0 50.4 500.0 51.7 C490.0 53.0 479.2 55.2 470.0 56.5 C460.8 57.7 451.7 58.7 445.0 59.2 C438.3 59.8 436.2 59.5 430.0 59.6 C423.8 59.8 413.0 60.0 408.0 60.1 C403.0 60.3 402.2 60.4 400.0 60.6 C397.8 60.8 396.7 61.1 395.0 61.3 C393.3 61.6 391.7 61.9 390.0 62.2 C388.3 62.5 386.7 62.8 385.0 63.1 C383.3 63.4 381.7 63.6 380.0 63.9 C378.3 64.2 377.0 64.4 375.0 64.8 C373.0 65.1 370.2 65.6 368.0 66.0 C365.8 66.4 364.0 66.9 362.0 67.2 C360.0 67.5 358.8 67.6 356.0 67.9 C353.2 68.1 348.5 68.3 345.0 68.5 C341.5 68.7 337.3 69.0 335.0 69.0 C332.7 69.1 331.8 69.5 331.4 69.0Z" fill="none" stroke="#ff0000" stroke-width="1.00" stroke-linejoin="round" stroke-linecap="round" stroke-opacity="0.42"/>
<path d="M331.4 70.0 C330.9 69.4 331.7 67.6 332.3 66.6 C332.9 65.6 332.7 64.7 334.8 64.0 C336.9 63.2 339.8 62.9 345.0 62.1 C350.2 61.4 358.5 60.4 366.0 59.3 C373.5 58.3 383.0 56.6 390.0 55.9 C397.0 55.2 401.3 55.3 408.0 55.1 C414.7 54.9 423.0 54.9 430.0 54.8 C437.0 54.6 443.3 54.3 450.0 54.0 C456.7 53.7 461.7 53.7 470.0 52.9 C478.3 52.2 490.0 50.9 500.0 49.6 C510.0 48.3 522.5 46.4 530.0 45.2 C537.5 44.0 540.0 43.2 545.0 42.3 C550.0 41.3 555.5 40.4 560.0 39.6 C564.5 38.7 568.0 37.9 572.0 37.1 C576.0 36.4 582.6 34.2 584.0 34.9 C585.4 35.5 582.5 39.8 580.5 41.1 C578.5 42.5 575.4 42.3 572.0 42.9 C568.6 43.5 564.5 44.2 560.0 44.8 C555.5 45.5 550.0 46.1 545.0 46.8 C540.0 47.5 537.5 47.9 530.0 48.7 C522.5 49.6 510.0 50.5 500.0 51.8 C490.0 53.1 479.2 55.3 470.0 56.6 C460.8 57.8 451.7 58.8 445.0 59.3 C438.3 59.9 436.2 59.6 430.0 59.7 C423.8 59.9 413.0 60.1 408.0 60.3 C403.0 60.5 402.2 60.7 400.0 60.9 C397.8 61.2 396.7 61.4 395.0 61.8 C393.3 62.1 391.7 62.4 390.0 62.8 C388.3 63.1 386.7 63.4 385.0 63.8 C383.3 64.1 381.7 64.4 380.0 64.7 C378.3 65.0 377.0 65.2 375.0 65.6 C373.0 66.0 370.2 66.5 368.0 67.0 C365.8 67.4 364.0 67.9 362.0 68.2 C360.0 68.5 358.8 68.6 356.0 68.8 C353.2 69.0 348.5 69.3 345.0 69.4 C341.5 69.6 337.3 69.9 335.0 70.0 C332.7 70.0 331.8 70.5 331.4 70.0Z" fill="none" stroke="#ff0000" stroke-width="1.00" stroke-linejoin="round" stroke-linecap="round" stroke-opacity="0.42"/>
<path d="M331.4 71.0 C330.9 70.3 331.7 68.2 332.3 67.0 C332.9 65.9 332.7 64.8 334.8 64.0 C336.9 63.2 339.8 63.0 345.0 62.3 C350.2 61.5 358.5 60.5 366.0 59.5 C373.5 58.4 383.0 56.7 390.0 56.0 C397.0 55.3 401.3 55.4 408.0 55.2 C414.7 55.0 423.0 55.0 430.0 54.8 C437.0 54.7 443.3 54.3 450.0 54.0 C456.7 53.7 461.7 53.8 470.0 53.1 C478.3 52.4 490.0 51.1 500.0 49.8 C510.0 48.5 522.5 46.6 530.0 45.4 C537.5 44.2 540.0 43.4 545.0 42.5 C550.0 41.6 555.5 40.7 560.0 39.8 C564.5 39.0 568.0 38.2 572.0 37.5 C576.0 36.7 582.6 34.6 584.0 35.2 C585.4 35.9 582.5 40.0 580.5 41.3 C578.5 42.6 575.4 42.5 572.0 43.1 C568.6 43.7 564.5 44.3 560.0 45.0 C555.5 45.6 550.0 46.4 545.0 47.0 C540.0 47.6 537.5 48.1 530.0 48.9 C522.5 49.7 510.0 50.7 500.0 52.0 C490.0 53.3 479.2 55.4 470.0 56.6 C460.8 57.9 451.7 58.9 445.0 59.5 C438.3 60.0 436.2 59.7 430.0 59.8 C423.8 60.0 413.0 60.2 408.0 60.5 C403.0 60.7 402.2 60.9 400.0 61.2 C397.8 61.5 396.7 61.8 395.0 62.2 C393.3 62.6 391.7 63.0 390.0 63.4 C388.3 63.8 386.7 64.2 385.0 64.5 C383.3 64.9 381.7 65.2 380.0 65.6 C378.3 65.9 377.0 66.2 375.0 66.6 C373.0 67.0 370.2 67.5 368.0 68.0 C365.8 68.4 364.0 69.0 362.0 69.3 C360.0 69.6 358.8 69.7 356.0 69.9 C353.2 70.1 348.5 70.3 345.0 70.5 C341.5 70.7 337.3 70.9 335.0 71.0 C332.7 71.1 331.8 71.6 331.4 71.0Z" fill="none" stroke="#ff0000" stroke-width="1.00" stroke-linejoin="round" stroke-linecap="round" stroke-opacity="0.42"/>
<path d="M331.4 72.1 C330.9 71.3 331.7 68.8 332.3 67.5 C332.9 66.1 332.7 64.9 334.8 64.1 C336.9 63.2 339.8 63.1 345.0 62.4 C350.2 61.6 358.5 60.6 366.0 59.6 C373.5 58.5 383.0 56.8 390.0 56.1 C397.0 55.4 401.3 55.5 408.0 55.3 C414.7 55.1 423.0 55.1 430.0 54.9 C437.0 54.7 443.3 54.4 450.0 54.1 C456.7 53.8 461.7 53.9 470.0 53.2 C478.3 52.5 490.0 51.2 500.0 49.9 C510.0 48.7 522.5 46.8 530.0 45.6 C537.5 44.4 540.0 43.7 545.0 42.7 C550.0 41.8 555.5 40.9 560.0 40.1 C564.5 39.3 568.0 38.5 572.0 37.8 C576.0 37.0 582.6 35.0 584.0 35.6 C585.4 36.2 582.5 40.2 580.5 41.5 C578.5 42.7 575.4 42.6 572.0 43.3 C568.6 43.9 564.5 44.5 560.0 45.2 C555.5 45.8 550.0 46.6 545.0 47.2 C540.0 47.8 537.5 48.2 530.0 49.1 C522.5 49.9 510.0 50.8 500.0 52.1 C490.0 53.4 479.2 55.5 470.0 56.7 C460.8 58.0 451.7 59.0 445.0 59.6 C438.3 60.1 436.2 59.8 430.0 59.9 C423.8 60.1 413.0 60.4 408.0 60.7 C403.0 60.9 402.2 61.2 400.0 61.6 C397.8 61.9 396.7 62.3 395.0 62.7 C393.3 63.1 391.7 63.6 390.0 64.1 C388.3 64.5 386.7 65.0 385.0 65.4 C383.3 65.8 381.7 66.2 380.0 66.5 C378.3 66.9 377.0 67.2 375.0 67.6 C373.0 68.0 370.2 68.6 368.0 69.1 C365.8 69.6 364.0 70.2 362.0 70.5 C360.0 70.9 358.8 70.9 356.0 71.1 C353.2 71.3 348.5 71.5 345.0 71.6 C341.5 71.8 337.3 72.0 335.0 72.1 C332.7 72.2 331.8 72.9 331.4 72.1Z" fill="none" stroke="#ff0000" stroke-width="1.00" stroke-linejoin="round" stroke-linecap="round" stroke-opacity="0.42"/>
<path d="M331.4 73.3 C330.9 72.4 331.7 69.5 332.3 68.0 C332.9 66.4 332.7 65.0 334.8 64.1 C336.9 63.2 339.8 63.2 345.0 62.5 C350.2 61.7 358.5 60.8 366.0 59.7 C373.5 58.7 383.0 56.9 390.0 56.2 C397.0 55.5 401.3 55.6 408.0 55.4 C414.7 55.2 423.0 55.2 430.0 55.0 C437.0 54.8 443.3 54.5 450.0 54.2 C456.7 53.9 461.7 54.0 470.0 53.3 C478.3 52.6 490.0 51.3 500.0 50.1 C510.0 48.9 522.5 47.0 530.0 45.9 C537.5 44.7 540.0 43.9 545.0 43.0 C550.0 42.1 555.5 41.2 560.0 40.4 C564.5 39.5 568.0 38.8 572.0 38.1 C576.0 37.3 582.6 35.4 584.0 36.0 C585.4 36.6 582.5 40.4 580.5 41.6 C578.5 42.9 575.4 42.8 572.0 43.4 C568.6 44.0 564.5 44.7 560.0 45.3 C555.5 46.0 550.0 46.8 545.0 47.4 C540.0 48.0 537.5 48.4 530.0 49.2 C522.5 50.0 510.0 51.0 500.0 52.2 C490.0 53.5 479.2 55.6 470.0 56.8 C460.8 58.0 451.7 59.1 445.0 59.7 C438.3 60.2 436.2 59.9 430.0 60.1 C423.8 60.3 413.0 60.6 408.0 60.9 C403.0 61.2 402.2 61.6 400.0 62.0 C397.8 62.3 396.7 62.8 395.0 63.3 C393.3 63.8 391.7 64.3 390.0 64.8 C388.3 65.3 386.7 65.8 385.0 66.3 C383.3 66.7 381.7 67.2 380.0 67.6 C378.3 68.0 377.0 68.3 375.0 68.7 C373.0 69.2 370.2 69.8 368.0 70.3 C365.8 70.9 364.0 71.5 362.0 71.9 C360.0 72.2 358.8 72.2 356.0 72.4 C353.2 72.6 348.5 72.7 345.0 72.9 C341.5 73.1 337.3 73.3 335.0 73.3 C332.7 73.4 331.8 74.2 331.4 73.3Z" fill="none" stroke="#ff0000" stroke-width="1.00" stroke-linejoin="round" stroke-linecap="round" stroke-opacity="0.42"/>
<path d="M331.4 74.6 C330.9 73.6 331.7 70.2 332.3 68.5 C332.9 66.7 332.7 65.1 334.8 64.1 C336.9 63.2 339.8 63.3 345.0 62.6 C350.2 61.9 358.5 60.9 366.0 59.8 C373.5 58.8 383.0 57.1 390.0 56.3 C397.0 55.6 401.3 55.7 408.0 55.5 C414.7 55.3 423.0 55.3 430.0 55.1 C437.0 54.9 443.3 54.6 450.0 54.3 C456.7 54.0 461.7 54.1 470.0 53.4 C478.3 52.8 490.0 51.5 500.0 50.3 C510.0 49.0 522.5 47.2 530.0 46.1 C537.5 44.9 540.0 44.1 545.0 43.2 C550.0 42.3 555.5 41.4 560.0 40.6 C564.5 39.8 568.0 39.1 572.0 38.4 C576.0 37.7 582.6 35.8 584.0 36.4 C585.4 36.9 582.5 40.6 580.5 41.8 C578.5 43.0 575.4 43.0 572.0 43.6 C568.6 44.2 564.5 44.9 560.0 45.5 C555.5 46.2 550.0 47.0 545.0 47.6 C540.0 48.2 537.5 48.6 530.0 49.4 C522.5 50.2 510.0 51.1 500.0 52.4 C490.0 53.6 479.2 55.7 470.0 56.9 C460.8 58.1 451.7 59.2 445.0 59.8 C438.3 60.3 436.2 60.0 430.0 60.2 C423.8 60.4 413.0 60.8 408.0 61.1 C403.0 61.5 402.2 61.9 400.0 62.4 C397.8 62.8 396.7 63.3 395.0 63.9 C393.3 64.4 391.7 65.1 390.0 65.7 C388.3 66.2 386.7 66.8 385.0 67.3 C383.3 67.8 381.7 68.3 380.0 68.7 C378.3 69.2 377.0 69.5 375.0 70.0 C373.0 70.5 370.2 71.1 368.0 71.7 C365.8 72.2 364.0 73.0 362.0 73.3 C360.0 73.7 358.8 73.7 356.0 73.8 C353.2 74.0 348.5 74.1 345.0 74.3 C341.5 74.4 337.3 74.6 335.0 74.7 C332.7 74.7 331.8 75.6 331.4 74.6Z" fill="none" stroke="#ff0000" stroke-width="1.00" stroke-linejoin="round" stroke-linecap="round" stroke-opacity="0.42"/>
<path d="M331.4 76.0 C330.9 74.8 331.7 71.0 332.3 69.0 C332.9 67.1 332.7 65.2 334.8 64.2 C336.9 63.1 339.8 63.4 345.0 62.7 C350.2 62.0 358.5 61.0 366.0 60.0 C373.5 58.9 383.0 57.2 390.0 56.4 C397.0 55.7 401.3 55.8 408.0 55.6 C414.7 55.3 423.0 55.4 430.0 55.2 C437.0 55.0 443.3 54.6 450.0 54.4 C456.7 54.1 461.7 54.2 470.0 53.6 C478.3 52.9 490.0 51.6 500.0 50.4 C510.0 49.2 522.5 47.5 530.0 46.3 C537.5 45.1 540.0 44.3 545.0 43.4 C550.0 42.5 555.5 41.7 560.0 40.9 C564.5 40.1 568.0 39.4 572.0 38.7 C576.0 38.0 582.6 36.2 584.0 36.7 C585.4 37.3 582.5 40.8 580.5 42.0 C578.5 43.1 575.4 43.1 572.0 43.8 C568.6 44.4 564.5 45.0 560.0 45.7 C555.5 46.4 550.0 47.2 545.0 47.8 C540.0 48.4 537.5 48.8 530.0 49.6 C522.5 50.3 510.0 51.3 500.0 52.5 C490.0 53.8 479.2 55.8 470.0 57.0 C460.8 58.2 451.7 59.3 445.0 59.9 C438.3 60.4 436.2 60.1 430.0 60.3 C423.8 60.6 413.0 61.0 408.0 61.4 C403.0 61.8 402.2 62.3 400.0 62.8 C397.8 63.3 396.7 63.9 395.0 64.5 C393.3 65.1 391.7 65.9 390.0 66.6 C388.3 67.2 386.7 67.8 385.0 68.4 C383.3 68.9 381.7 69.5 380.0 70.0 C378.3 70.4 377.0 70.8 375.0 71.3 C373.0 71.8 370.2 72.5 368.0 73.1 C365.8 73.7 364.0 74.5 362.0 74.9 C360.0 75.3 358.8 75.2 356.0 75.4 C353.2 75.5 348.5 75.6 345.0 75.8 C341.5 75.9 337.3 76.1 335.0 76.1 C332.7 76.2 331.8 77.1 331.4 76.0Z" fill="none" stroke="#ff0000" stroke-width="1.00" stroke-linejoin="round" stroke-linecap="round" stroke-opacity="0.42"/>
<path d="M331.4 77.4 C330.9 76.1 331.7 71.8 332.3 69.6 C332.9 67.4 332.7 65.4 334.8 64.2 C336.9 63.1 339.8 63.5 345.0 62.8 C350.2 62.1 358.5 61.1 366.0 60.1 C373.5 59.1 383.0 57.3 390.0 56.6 C397.0 55.8 401.3 55.9 408.0 55.6 C414.7 55.4 423.0 55.5 430.0 55.3 C437.0 55.1 443.3 54.7 450.0 54.5 C456.7 54.2 461.7 54.3 470.0 53.7 C478.3 53.0 490.0 51.8 500.0 50.6 C510.0 49.4 522.5 47.7 530.0 46.5 C537.5 45.4 540.0 44.6 545.0 43.7 C550.0 42.8 555.5 41.9 560.0 41.1 C564.5 40.4 568.0 39.7 572.0 39.0 C576.0 38.3 582.6 36.6 584.0 37.1 C585.4 37.6 582.5 41.0 580.5 42.1 C578.5 43.3 575.4 43.3 572.0 43.9 C568.6 44.6 564.5 45.2 560.0 45.9 C555.5 46.6 550.0 47.4 545.0 48.0 C540.0 48.6 537.5 49.0 530.0 49.7 C522.5 50.5 510.0 51.4 500.0 52.7 C490.0 53.9 479.2 55.8 470.0 57.1 C460.8 58.3 451.7 59.4 445.0 60.0 C438.3 60.5 436.2 60.2 430.0 60.5 C423.8 60.8 413.0 61.2 408.0 61.7 C403.0 62.1 402.2 62.7 400.0 63.3 C397.8 63.9 396.7 64.5 395.0 65.2 C393.3 65.9 391.7 66.8 390.0 67.5 C388.3 68.2 386.7 68.9 385.0 69.5 C383.3 70.2 381.7 70.7 380.0 71.3 C378.3 71.8 377.0 72.2 375.0 72.8 C373.0 73.3 370.2 74.1 368.0 74.7 C365.8 75.3 364.0 76.2 362.0 76.6 C360.0 77.0 358.8 76.9 356.0 77.0 C353.2 77.2 348.5 77.2 345.0 77.3 C341.5 77.4 337.3 77.7 335.0 77.7 C332.7 77.7 331.8 78.8 331.4 77.4Z" fill="none" stroke="#ff0000" stroke-width="1.00" stroke-linejoin="round" stroke-linecap="round" stroke-opacity="0.42"/>
<path d="M331.4 78.9 C330.9 77.4 331.7 72.7 332.3 70.2 C332.9 67.8 332.7 65.5 334.8 64.3 C336.9 63.1 339.8 63.6 345.0 62.9 C350.2 62.2 358.5 61.3 366.0 60.2 C373.5 59.2 383.0 57.4 390.0 56.7 C397.0 55.9 401.3 56.0 408.0 55.7 C414.7 55.5 423.0 55.5 430.0 55.3 C437.0 55.2 443.3 54.8 450.0 54.5 C456.7 54.3 461.7 54.5 470.0 53.8 C478.3 53.2 490.0 51.9 500.0 50.7 C510.0 49.5 522.5 47.9 530.0 46.7 C537.5 45.6 540.0 44.8 545.0 43.9 C550.0 43.0 555.5 42.2 560.0 41.4 C564.5 40.6 568.0 39.9 572.0 39.3 C576.0 38.6 582.6 37.0 584.0 37.5 C585.4 38.0 582.5 41.2 580.5 42.3 C578.5 43.4 575.4 43.5 572.0 44.1 C568.6 44.7 564.5 45.4 560.0 46.1 C555.5 46.7 550.0 47.6 545.0 48.2 C540.0 48.8 537.5 49.1 530.0 49.9 C522.5 50.7 510.0 51.6 500.0 52.8 C490.0 54.0 479.2 55.9 470.0 57.1 C460.8 58.4 451.7 59.5 445.0 60.1 C438.3 60.7 436.2 60.3 430.0 60.6 C423.8 61.0 413.0 61.5 408.0 62.0 C403.0 62.5 402.2 63.1 400.0 63.8 C397.8 64.4 396.7 65.2 395.0 66.0 C393.3 66.8 391.7 67.7 390.0 68.5 C388.3 69.3 386.7 70.1 385.0 70.8 C383.3 71.5 381.7 72.1 380.0 72.7 C378.3 73.3 377.0 73.7 375.0 74.3 C373.0 74.9 370.2 75.7 368.0 76.4 C365.8 77.0 364.0 78.0 362.0 78.4 C360.0 78.8 358.8 78.7 356.0 78.8 C353.2 78.9 348.5 78.9 345.0 79.0 C341.5 79.1 337.3 79.4 335.0 79.4 C332.7 79.3 331.8 80.5 331.4 78.9Z" fill="none" stroke="#ff0000" stroke-width="1.00" stroke-linejoin="round" stroke-linecap="round" stroke-opacity="0.42"/>
<path d="M331.4 80.6 C330.9 78.8 331.7 73.6 332.3 70.9 C332.9 68.2 332.7 65.6 334.8 64.3 C336.9 63.0 339.8 63.7 345.0 63.0 C350.2 62.3 358.5 61.4 366.0 60.3 C373.5 59.3 383.0 57.5 390.0 56.8 C397.0 56.0 401.3 56.0 408.0 55.8 C414.7 55.6 423.0 55.6 430.0 55.4 C437.0 55.2 443.3 54.9 450.0 54.6 C456.7 54.4 461.7 54.6 470.0 53.9 C478.3 53.3 490.0 52.0 500.0 50.9 C510.0 49.7 522.5 48.1 530.0 47.0 C537.5 45.8 540.0 45.0 545.0 44.1 C550.0 43.3 555.5 42.4 560.0 41.7 C564.5 40.9 568.0 40.2 572.0 39.6 C576.0 39.0 582.6 37.4 584.0 37.9 C585.4 38.3 582.5 41.4 580.5 42.5 C578.5 43.5 575.4 43.6 572.0 44.3 C568.6 44.9 564.5 45.6 560.0 46.2 C555.5 46.9 550.0 47.8 545.0 48.4 C540.0 49.0 537.5 49.3 530.0 50.1 C522.5 50.8 510.0 51.7 500.0 52.9 C490.0 54.1 479.2 56.0 470.0 57.2 C460.8 58.4 451.7 59.6 445.0 60.2 C438.3 60.8 436.2 60.5 430.0 60.8 C423.8 61.2 413.0 61.7 408.0 62.3 C403.0 62.9 402.2 63.6 400.0 64.3 C397.8 65.1 396.7 65.9 395.0 66.8 C393.3 67.6 391.7 68.7 390.0 69.6 C388.3 70.5 386.7 71.3 385.0 72.1 C383.3 72.9 381.7 73.6 380.0 74.2 C378.3 74.8 377.0 75.3 375.0 75.9 C373.0 76.6 370.2 77.4 368.0 78.1 C365.8 78.9 364.0 79.9 362.0 80.3 C360.0 80.7 358.8 80.6 356.0 80.7 C353.2 80.8 348.5 80.8 345.0 80.9 C341.5 80.9 337.3 81.2 335.0 81.1 C332.7 81.1 331.8 82.3 331.4 80.6Z" fill="none" stroke="#ff0000" stroke-width="1.00" stroke-linejoin="round" stroke-linecap="round" stroke-opacity="0.42"/>
<path d="M331.4 82.2 C330.9 80.3 331.7 74.5 332.3 71.5 C332.9 68.6 332.7 65.8 334.8 64.4 C336.9 63.0 339.8 63.7 345.0 63.1 C350.2 62.4 358.5 61.5 366.0 60.5 C373.5 59.4 383.0 57.7 390.0 56.9 C397.0 56.1 401.3 56.1 408.0 55.9 C414.7 55.7 423.0 55.7 430.0 55.5 C437.0 55.3 443.3 55.0 450.0 54.7 C456.7 54.5 461.7 54.7 470.0 54.1 C478.3 53.5 490.0 52.2 500.0 51.0 C510.0 49.9 522.5 48.3 530.0 47.2 C537.5 46.1 540.0 45.2 545.0 44.4 C550.0 43.5 555.5 42.7 560.0 41.9 C564.5 41.2 568.0 40.5 572.0 39.9 C576.0 39.3 582.6 37.8 584.0 38.2 C585.4 38.7 582.5 41.6 580.5 42.6 C578.5 43.7 575.4 43.8 572.0 44.4 C568.6 45.1 564.5 45.7 560.0 46.4 C555.5 47.1 550.0 48.0 545.0 48.6 C540.0 49.2 537.5 49.5 530.0 50.2 C522.5 51.0 510.0 51.9 500.0 53.1 C490.0 54.2 479.2 56.1 470.0 57.3 C460.8 58.5 451.7 59.7 445.0 60.3 C438.3 60.9 436.2 60.6 430.0 61.0 C423.8 61.4 413.0 62.0 408.0 62.6 C403.0 63.3 402.2 64.1 400.0 64.9 C397.8 65.7 396.7 66.6 395.0 67.6 C393.3 68.6 391.7 69.8 390.0 70.8 C388.3 71.8 386.7 72.7 385.0 73.5 C383.3 74.4 381.7 75.1 380.0 75.8 C378.3 76.5 377.0 77.0 375.0 77.7 C373.0 78.4 370.2 79.2 368.0 80.0 C365.8 80.8 364.0 81.9 362.0 82.3 C360.0 82.8 358.8 82.6 356.0 82.7 C353.2 82.8 348.5 82.7 345.0 82.8 C341.5 82.8 337.3 83.1 335.0 83.0 C332.7 82.9 331.8 84.2 331.4 82.2Z" fill="none" stroke="#ff0000" stroke-width="1.00" stroke-linejoin="round" stroke-linecap="round" stroke-opacity="0.42"/>
<path d="M331.4 84.0 C330.9 81.9 331.7 75.5 332.3 72.2 C332.9 69.0 332.7 65.9 334.8 64.4 C336.9 62.9 339.8 63.8 345.0 63.2 C350.2 62.6 358.5 61.6 366.0 60.6 C373.5 59.6 383.0 57.8 390.0 57.0 C397.0 56.2 401.3 56.2 408.0 56.0 C414.7 55.8 423.0 55.8 430.0 55.6 C437.0 55.4 443.3 55.0 450.0 54.8 C456.7 54.6 461.7 54.8 470.0 54.2 C478.3 53.6 490.0 52.3 500.0 51.2 C510.0 50.1 522.5 48.5 530.0 47.4 C537.5 46.3 540.0 45.5 545.0 44.6 C550.0 43.7 555.5 42.9 560.0 42.2 C564.5 41.5 568.0 40.8 572.0 40.2 C576.0 39.6 582.6 38.2 584.0 38.6 C585.4 39.0 582.5 41.8 580.5 42.8 C578.5 43.8 575.4 44.0 572.0 44.6 C568.6 45.2 564.5 45.9 560.0 46.6 C555.5 47.3 550.0 48.2 545.0 48.8 C540.0 49.4 537.5 49.7 530.0 50.4 C522.5 51.1 510.0 52.0 500.0 53.2 C490.0 54.4 479.2 56.2 470.0 57.4 C460.8 58.6 451.7 59.8 445.0 60.4 C438.3 61.0 436.2 60.8 430.0 61.2 C423.8 61.6 413.0 62.3 408.0 63.0 C403.0 63.7 402.2 64.6 400.0 65.5 C397.8 66.4 396.7 67.4 395.0 68.5 C393.3 69.6 391.7 70.9 390.0 72.0 C388.3 73.1 386.7 74.1 385.0 75.0 C383.3 75.9 381.7 76.8 380.0 77.5 C378.3 78.2 377.0 78.8 375.0 79.5 C373.0 80.2 370.2 81.2 368.0 82.0 C365.8 82.8 364.0 84.0 362.0 84.5 C360.0 85.0 358.8 84.8 356.0 84.8 C353.2 84.8 348.5 84.8 345.0 84.8 C341.5 84.8 337.3 85.1 335.0 85.0 C332.7 84.9 331.8 86.1 331.4 84.0Z" fill="none" stroke="#ff0000" stroke-width="1.00" stroke-linejoin="round" stroke-linecap="round" stroke-opacity="0.42"/>
<path d="M331.2 65.0 C331.2 64.5 332.1 62.9 333.1 61.8 C334.1 60.7 335.3 59.4 337.0 58.5 C338.7 57.6 340.7 57.1 343.5 56.6 C346.3 56.1 350.0 55.7 353.9 55.3 C357.8 54.9 362.6 54.6 366.9 54.4 C371.2 54.2 374.7 54.1 379.9 53.9 C385.1 53.7 392.1 53.3 397.9 53.0 C403.7 52.7 409.6 52.5 414.9 52.3 C420.2 52.1 420.7 52.0 429.9 51.9 C439.1 51.8 456.6 51.8 469.9 51.8 C483.2 51.8 496.6 52.0 509.9 52.0 C523.2 52.0 538.0 52.0 549.9 52.0 C561.8 52.0 575.7 52.0 581.4 52.1 C587.1 52.2 584.2 52.6 584.2 52.9 C584.2 53.2 587.1 53.6 581.4 53.8 C575.7 54.0 561.8 53.9 549.9 54.0 C538.0 54.1 521.5 54.3 509.9 54.6 C498.3 54.9 487.2 55.4 480.2 56.0 C473.1 56.6 471.8 57.7 467.6 58.3 C463.4 58.9 459.3 59.7 455.1 59.8 C450.9 59.9 446.7 58.9 442.5 58.9 C438.3 58.9 435.8 59.2 429.9 59.5 C424.0 59.8 415.3 60.2 407.0 60.6 C398.7 61.0 386.6 61.3 379.9 61.6 C373.2 61.9 371.2 62.1 366.9 62.4 C362.6 62.7 358.2 63.1 353.9 63.4 C349.6 63.7 344.4 64.1 340.9 64.4 C337.4 64.7 334.5 65.0 332.9 65.1 C331.3 65.2 331.2 65.5 331.2 65.0Z" fill="none" stroke="#c9c9c9" stroke-width="1.50" stroke-linejoin="round" stroke-linecap="round"/>
<path d="M331.2 86.0 C331.0 85.6 332.5 83.8 333.5 82.8 C334.5 81.8 336.0 80.6 337.1 79.8 C338.2 79.0 338.8 78.5 340.0 77.9 C341.2 77.3 342.6 77.0 344.3 76.2 C346.0 75.4 348.4 74.1 350.4 73.0 C352.4 71.9 354.5 70.8 356.5 69.8 C358.5 68.8 360.6 68.0 362.6 67.1 C364.6 66.2 366.7 65.8 368.7 64.6 C370.7 63.4 372.9 61.2 374.8 60.2 C376.7 59.2 377.5 59.0 380.0 58.3 C382.5 57.6 386.6 56.4 389.8 55.8 C393.1 55.1 395.3 54.7 399.5 54.4 C403.7 54.1 409.9 53.9 415.0 53.8 C420.1 53.7 425.0 53.9 430.0 53.9 C435.0 53.9 438.3 54.0 445.0 53.7 C451.7 53.5 462.5 52.9 470.0 52.3 C477.5 51.7 483.3 50.9 490.0 50.2 C496.7 49.4 503.3 48.6 510.0 47.7 C516.7 46.7 523.7 45.5 530.0 44.4 C536.3 43.3 542.7 42.1 548.0 41.1 C553.3 40.1 558.0 39.3 562.0 38.5 C566.0 37.8 568.3 37.4 571.9 36.6 C575.5 35.8 582.3 33.6 583.8 33.7 C585.3 33.8 582.5 36.1 581.0 37.2 C579.5 38.2 578.5 39.0 575.0 40.0 C571.5 40.9 564.5 42.3 560.0 43.1 C555.5 43.9 553.0 44.2 548.0 45.0 C543.0 45.8 536.3 46.9 530.0 47.9 C523.7 49.0 516.7 50.1 510.0 51.2 C503.3 52.2 496.7 53.3 490.0 54.2 C483.3 55.0 476.7 55.7 470.0 56.4 C463.3 57.0 456.7 57.6 450.0 58.1 C443.3 58.7 436.7 59.0 430.0 59.7 C423.3 60.4 415.0 61.6 410.0 62.5 C405.0 63.4 402.6 64.0 400.0 65.0 C397.4 66.0 396.8 66.7 394.2 68.5 C391.6 70.3 386.9 74.0 384.5 75.6 C382.1 77.2 381.3 77.3 379.7 78.0 C378.1 78.7 376.2 79.4 374.8 79.9 C373.4 80.4 372.2 80.6 371.1 81.1 C370.0 81.5 368.9 82.1 368.0 82.6 C367.1 83.1 366.6 83.8 365.6 84.3 C364.6 84.8 363.7 85.3 362.2 85.4 C360.7 85.5 359.4 84.9 356.5 84.8 C353.6 84.7 348.7 84.7 345.1 84.8 C341.5 84.9 337.1 85.2 334.8 85.4 C332.5 85.6 331.4 86.4 331.2 86.0Z" fill="none" stroke="#850000" stroke-width="1.30" stroke-linejoin="round" stroke-linecap="round"/>
<path d="M330.8 101.9 C330.3 100.8 331.5 98.7 332.0 97.4 C332.5 96.1 333.0 95.2 333.7 94.0 C334.4 92.8 335.1 91.8 336.0 90.5 C336.9 89.2 338.3 87.7 339.4 86.5 C340.5 85.3 341.7 84.1 342.8 83.1 C343.9 82.1 344.7 81.3 346.2 80.3 C347.7 79.3 348.9 78.5 352.0 77.3 C355.1 76.0 360.3 74.1 365.0 72.8 C369.7 71.5 375.8 70.2 380.0 69.2 C384.2 68.2 387.3 67.9 390.0 67.0 C392.7 66.1 394.1 64.9 396.0 63.8 C397.9 62.7 399.6 61.6 401.5 60.4 C403.4 59.2 405.2 57.4 407.3 56.4 C409.4 55.4 411.2 54.8 414.2 54.2 C417.1 53.6 419.9 53.3 425.0 53.1 C430.1 52.9 437.5 53.1 445.0 52.8 C452.5 52.5 462.5 52.0 470.0 51.3 C477.5 50.7 483.3 49.8 490.0 48.8 C496.7 47.9 503.3 47.1 510.0 45.9 C516.7 44.7 523.7 43.1 530.0 41.6 C536.3 40.1 543.0 38.5 548.0 37.0 C553.0 35.6 555.9 34.6 559.9 33.1 C563.9 31.7 568.7 29.6 571.9 28.4 C575.1 27.1 577.0 26.3 579.0 25.5 C581.0 24.7 583.4 23.2 583.8 23.5 C584.2 23.8 582.4 25.9 581.4 27.2 C580.4 28.6 579.4 30.3 577.8 31.6 C576.2 33.0 574.9 34.1 571.9 35.5 C568.9 36.8 563.9 38.4 559.9 39.6 C555.9 40.8 553.0 41.4 548.0 42.4 C543.0 43.5 536.3 44.9 530.0 46.1 C523.7 47.4 516.7 48.8 510.0 49.9 C503.3 51.0 496.7 52.0 490.0 52.8 C483.3 53.7 476.7 54.4 470.0 55.0 C463.3 55.7 456.7 56.3 450.0 56.9 C443.3 57.5 435.8 58.0 430.0 58.5 C424.2 59.1 418.5 59.7 415.0 60.5 C411.5 61.3 410.7 62.5 409.0 63.5 C407.3 64.5 406.1 65.5 405.0 66.5 C403.9 67.5 403.6 68.0 402.3 69.3 C401.1 70.6 399.1 72.3 397.5 74.2 C395.9 76.1 394.2 78.4 392.6 80.7 C391.0 83.0 389.3 85.7 387.7 88.0 C386.1 90.3 384.5 92.3 382.9 94.5 C381.3 96.7 379.9 99.0 378.0 101.0 C376.1 103.0 373.2 105.5 371.5 106.7 C369.8 107.9 369.4 107.6 368.0 108.4 C366.6 109.2 364.8 110.7 363.3 111.6 C361.8 112.5 360.3 113.3 358.8 113.9 C357.3 114.5 355.5 114.8 354.2 115.0 C352.9 115.2 351.9 115.2 350.8 115.0 C349.7 114.8 348.5 114.6 347.4 113.9 C346.3 113.2 345.3 112.1 344.0 111.0 C342.7 109.9 340.9 108.2 339.4 107.1 C337.9 106.0 336.2 105.1 334.8 104.2 C333.4 103.3 331.3 103.0 330.8 101.9Z" fill="none" stroke="#850000" stroke-width="1.30" stroke-linejoin="round" stroke-linecap="round"/>
<path d="M330.9 136.5 C330.5 135.6 332.1 133.2 332.8 131.6 C333.5 130.0 334.4 128.2 335.2 126.7 C336.0 125.2 336.7 124.0 337.7 122.4 C338.7 120.8 339.9 119.0 341.3 117.0 C342.7 115.0 344.6 112.4 346.2 110.2 C347.8 108.0 349.5 106.0 351.1 104.1 C352.7 102.2 354.3 100.5 355.9 98.7 C357.4 97.0 358.6 95.5 360.4 93.6 C362.2 91.7 364.8 89.4 366.9 87.5 C369.0 85.6 370.7 84.3 372.9 82.4 C375.1 80.5 377.8 77.8 379.9 75.9 C382.0 74.0 383.5 72.5 385.3 70.9 C387.1 69.4 388.9 68.0 390.7 66.6 C392.5 65.1 394.4 63.7 396.2 62.2 C398.0 60.8 399.8 59.2 401.6 57.9 C403.4 56.5 405.2 55.2 407.0 54.1 C408.8 53.0 410.6 52.2 412.4 51.4 C414.2 50.6 416.1 49.9 417.9 49.2 C419.7 48.5 421.5 47.6 423.3 47.2 C425.1 46.7 427.3 46.4 428.7 46.3 C430.1 46.2 430.9 46.5 431.9 46.8 C432.9 47.2 433.9 47.7 434.9 48.3 C435.9 48.8 436.4 49.6 437.9 50.1 C439.4 50.6 441.1 51.0 443.9 51.2 C446.7 51.4 450.6 51.5 454.9 51.3 C459.2 51.2 465.1 50.7 469.9 50.3 C474.7 49.8 479.0 49.4 483.9 48.6 C488.8 47.9 494.8 46.7 499.1 45.8 C503.4 44.9 505.7 44.4 509.9 43.2 C514.1 42.0 519.4 40.3 524.4 38.8 C529.4 37.2 535.0 35.7 539.9 34.0 C544.8 32.2 549.0 30.1 553.5 28.2 C558.0 26.3 563.6 23.8 567.0 22.3 C570.4 20.9 571.8 20.2 573.8 19.3 C575.8 18.3 577.2 17.6 578.9 16.7 C580.6 15.9 583.7 13.5 584.1 14.1 C584.5 14.6 582.2 18.4 581.4 20.0 C580.5 21.6 580.0 22.5 579.0 23.7 C578.0 25.0 576.6 26.3 575.4 27.5 C574.2 28.6 573.5 29.5 571.9 30.6 C570.3 31.8 567.9 33.4 565.9 34.5 C563.9 35.5 562.9 36.0 559.9 37.0 C556.9 38.0 553.0 39.2 548.0 40.4 C543.0 41.6 536.3 43.0 530.0 44.3 C523.7 45.5 516.7 46.8 510.0 48.0 C503.3 49.2 496.7 50.5 490.0 51.5 C483.3 52.4 476.7 53.0 470.0 53.6 C463.3 54.2 456.7 54.6 450.0 55.0 C443.3 55.4 435.3 55.8 430.0 56.3 C424.7 56.7 421.4 56.9 418.0 57.6 C414.6 58.3 411.8 59.7 409.7 60.6 C407.6 61.5 406.8 61.7 405.4 63.2 C404.0 64.7 402.4 67.3 401.1 69.7 C399.8 72.1 398.6 75.0 397.4 77.5 C396.2 80.0 395.1 82.4 393.9 85.0 C392.7 87.6 391.6 90.5 390.4 93.0 C389.2 95.5 387.9 98.1 386.9 100.3 C385.8 102.5 385.1 104.3 384.1 106.3 C383.1 108.3 381.8 110.5 380.7 112.5 C379.6 114.5 378.5 116.2 377.2 118.2 C375.9 120.2 374.2 122.3 372.7 124.5 C371.1 126.7 369.1 129.7 367.9 131.2 C366.7 132.7 366.9 132.5 365.7 133.4 C364.5 134.3 362.4 135.8 360.8 136.5 C359.2 137.2 357.7 137.5 355.9 137.7 C354.1 137.9 352.1 137.9 349.9 137.9 C347.7 137.9 344.9 137.8 342.5 137.7 C340.1 137.6 337.1 137.3 335.2 137.1 C333.3 136.9 331.3 137.4 330.9 136.5Z" fill="none" stroke="#850000" stroke-width="1.30" stroke-linejoin="round" stroke-linecap="round"/>
<path d="M331.2 86.0 C331.0 85.6 332.5 83.8 333.5 82.8 C334.5 81.8 336.0 80.6 337.1 79.8 C338.2 79.0 338.8 78.5 340.0 77.9 C341.2 77.3 342.6 77.0 344.3 76.2 C346.0 75.4 348.4 74.1 350.4 73.0 C352.4 71.9 354.5 70.8 356.5 69.8 C358.5 68.8 360.6 68.0 362.6 67.1 C364.6 66.2 366.7 65.8 368.7 64.6 C370.7 63.4 372.9 61.2 374.8 60.2 C376.7 59.2 377.5 59.0 380.0 58.3 C382.5 57.6 386.6 56.4 389.8 55.8 C393.1 55.1 395.3 54.7 399.5 54.4 C403.7 54.1 409.9 54.0 415.0 53.8 C420.1 53.6 425.0 53.6 430.0 53.4 C435.0 53.2 438.3 53.1 445.0 52.6 C451.7 52.1 462.5 51.2 470.0 50.4 C477.5 49.6 483.3 48.8 490.0 48.0 C496.7 47.2 503.3 46.4 510.0 45.5 C516.7 44.6 523.7 43.5 530.0 42.5 C536.3 41.5 542.7 40.4 548.0 39.6 C553.3 38.8 558.0 38.1 562.0 37.5 C566.0 36.9 568.3 36.6 571.9 36.0 C575.5 35.4 582.3 33.5 583.8 33.7 C585.3 33.9 582.5 36.0 581.0 37.0 C579.5 38.0 578.5 38.7 575.0 39.5 C571.5 40.3 564.5 41.3 560.0 42.0 C555.5 42.7 553.0 42.8 548.0 43.5 C543.0 44.2 536.3 45.1 530.0 46.0 C523.7 46.9 516.7 48.0 510.0 49.0 C503.3 50.0 496.7 51.1 490.0 52.0 C483.3 52.9 476.7 53.7 470.0 54.5 C463.3 55.3 456.7 56.0 450.0 56.8 C443.3 57.6 436.7 58.2 430.0 59.2 C423.3 60.2 415.0 61.5 410.0 62.5 C405.0 63.5 402.6 64.0 400.0 65.0 C397.4 66.0 396.8 66.7 394.2 68.5 C391.6 70.3 386.9 74.0 384.5 75.6 C382.1 77.2 381.3 77.3 379.7 78.0 C378.1 78.7 376.2 79.4 374.8 79.9 C373.4 80.4 372.2 80.6 371.1 81.1 C370.0 81.5 368.9 82.1 368.0 82.6 C367.1 83.1 366.6 83.8 365.6 84.3 C364.6 84.8 363.7 85.3 362.2 85.4 C360.7 85.5 359.4 84.9 356.5 84.8 C353.6 84.7 348.7 84.7 345.1 84.8 C341.5 84.9 337.1 85.2 334.8 85.4 C332.5 85.6 331.4 86.4 331.2 86.0Z" fill="none" stroke="#850000" stroke-width="1.50" stroke-linejoin="round" stroke-linecap="round"/>
<path d="M330.8 101.9 C330.3 100.8 331.5 98.7 332.0 97.4 C332.5 96.1 333.0 95.2 333.7 94.0 C334.4 92.8 335.1 91.8 336.0 90.5 C336.9 89.2 338.3 87.7 339.4 86.5 C340.5 85.3 341.7 84.1 342.8 83.1 C343.9 82.1 344.7 81.3 346.2 80.3 C347.7 79.3 348.9 78.5 352.0 77.3 C355.1 76.0 360.3 74.1 365.0 72.8 C369.7 71.5 375.8 70.2 380.0 69.2 C384.2 68.2 387.3 67.9 390.0 67.0 C392.7 66.1 394.1 64.9 396.0 63.8 C397.9 62.7 399.6 61.6 401.5 60.4 C403.4 59.2 405.2 57.4 407.3 56.4 C409.4 55.4 411.2 54.8 414.2 54.2 C417.1 53.6 419.9 53.2 425.0 52.8 C430.1 52.4 437.5 52.2 445.0 51.6 C452.5 51.0 462.5 50.1 470.0 49.3 C477.5 48.4 483.3 47.5 490.0 46.5 C496.7 45.5 503.3 44.7 510.0 43.5 C516.7 42.3 523.7 40.9 530.0 39.5 C536.3 38.1 543.0 36.7 548.0 35.4 C553.0 34.1 555.9 33.2 559.9 31.9 C563.9 30.6 568.7 28.8 571.9 27.7 C575.1 26.6 577.0 25.9 579.0 25.2 C581.0 24.5 583.4 23.2 583.8 23.5 C584.2 23.8 582.4 25.8 581.4 27.1 C580.4 28.4 579.4 30.0 577.8 31.3 C576.2 32.6 574.9 33.6 571.9 34.8 C568.9 36.0 563.9 37.4 559.9 38.4 C555.9 39.4 553.0 39.9 548.0 40.8 C543.0 41.7 536.3 42.9 530.0 44.0 C523.7 45.1 516.7 46.4 510.0 47.5 C503.3 48.6 496.7 49.6 490.0 50.5 C483.3 51.4 476.7 52.2 470.0 53.0 C463.3 53.8 456.7 54.7 450.0 55.5 C443.3 56.3 435.8 57.2 430.0 58.0 C424.2 58.8 418.5 59.6 415.0 60.5 C411.5 61.4 410.7 62.5 409.0 63.5 C407.3 64.5 406.1 65.5 405.0 66.5 C403.9 67.5 403.6 68.0 402.3 69.3 C401.1 70.6 399.1 72.3 397.5 74.2 C395.9 76.1 394.2 78.4 392.6 80.7 C391.0 83.0 389.3 85.7 387.7 88.0 C386.1 90.3 384.5 92.3 382.9 94.5 C381.3 96.7 379.9 99.0 378.0 101.0 C376.1 103.0 373.2 105.5 371.5 106.7 C369.8 107.9 369.4 107.6 368.0 108.4 C366.6 109.2 364.8 110.7 363.3 111.6 C361.8 112.5 360.3 113.3 358.8 113.9 C357.3 114.5 355.5 114.8 354.2 115.0 C352.9 115.2 351.9 115.2 350.8 115.0 C349.7 114.8 348.5 114.6 347.4 113.9 C346.3 113.2 345.3 112.1 344.0 111.0 C342.7 109.9 340.9 108.2 339.4 107.1 C337.9 106.0 336.2 105.1 334.8 104.2 C333.4 103.3 331.3 103.0 330.8 101.9Z" fill="none" stroke="#850000" stroke-width="1.50" stroke-linejoin="round" stroke-linecap="round"/>
<path d="M330.9 136.5 C330.5 135.6 332.1 133.2 332.8 131.6 C333.5 130.0 334.4 128.2 335.2 126.7 C336.0 125.2 336.7 124.0 337.7 122.4 C338.7 120.8 339.9 119.0 341.3 117.0 C342.7 115.0 344.6 112.4 346.2 110.2 C347.8 108.0 349.5 106.0 351.1 104.1 C352.7 102.2 354.3 100.5 355.9 98.7 C357.4 97.0 358.6 95.5 360.4 93.6 C362.2 91.7 364.8 89.4 366.9 87.5 C369.0 85.6 370.7 84.3 372.9 82.4 C375.1 80.5 377.8 77.8 379.9 75.9 C382.0 74.0 383.5 72.5 385.3 70.9 C387.1 69.4 388.9 68.0 390.7 66.6 C392.5 65.1 394.4 63.7 396.2 62.2 C398.0 60.8 399.8 59.2 401.6 57.9 C403.4 56.5 405.2 55.2 407.0 54.1 C408.8 53.0 410.6 52.2 412.4 51.4 C414.2 50.6 416.1 49.9 417.9 49.2 C419.7 48.5 421.5 47.5 423.3 47.0 C425.1 46.5 427.3 46.0 428.7 45.9 C430.1 45.8 430.9 46.0 431.9 46.3 C432.9 46.6 433.9 47.1 434.9 47.6 C435.9 48.1 436.4 48.9 437.9 49.3 C439.4 49.7 441.1 50.1 443.9 50.2 C446.7 50.3 450.6 50.3 454.9 50.0 C459.2 49.7 465.1 49.1 469.9 48.6 C474.7 48.1 479.0 47.5 483.9 46.7 C488.8 45.9 494.8 44.7 499.1 43.8 C503.4 42.9 505.7 42.4 509.9 41.2 C514.1 40.1 519.4 38.4 524.4 36.9 C529.4 35.4 535.0 34.0 539.9 32.4 C544.8 30.8 549.0 28.8 553.5 27.0 C558.0 25.2 563.6 23.0 567.0 21.6 C570.4 20.2 571.8 19.7 573.8 18.8 C575.8 17.9 577.2 17.3 578.9 16.5 C580.6 15.7 583.7 13.5 584.1 14.1 C584.5 14.7 582.2 18.3 581.4 19.9 C580.5 21.5 580.0 22.3 579.0 23.5 C578.0 24.7 576.6 26.0 575.4 27.1 C574.2 28.2 573.5 29.0 571.9 30.1 C570.3 31.2 567.9 32.7 565.9 33.7 C563.9 34.7 562.9 35.1 559.9 36.0 C556.9 36.9 553.0 37.9 548.0 39.0 C543.0 40.1 536.3 41.3 530.0 42.5 C523.7 43.7 516.7 44.8 510.0 46.0 C503.3 47.2 496.7 48.5 490.0 49.5 C483.3 50.5 476.7 51.2 470.0 51.9 C463.3 52.6 456.7 53.1 450.0 53.8 C443.3 54.4 435.3 55.2 430.0 55.8 C424.7 56.4 421.4 56.8 418.0 57.6 C414.6 58.4 411.8 59.7 409.7 60.6 C407.6 61.5 406.8 61.7 405.4 63.2 C404.0 64.7 402.4 67.3 401.1 69.7 C399.8 72.1 398.6 75.0 397.4 77.5 C396.2 80.0 395.1 82.4 393.9 85.0 C392.7 87.6 391.6 90.5 390.4 93.0 C389.2 95.5 387.9 98.1 386.9 100.3 C385.8 102.5 385.1 104.3 384.1 106.3 C383.1 108.3 381.8 110.5 380.7 112.5 C379.6 114.5 378.5 116.2 377.2 118.2 C375.9 120.2 374.2 122.3 372.7 124.5 C371.1 126.7 369.1 129.7 367.9 131.2 C366.7 132.7 366.9 132.5 365.7 133.4 C364.5 134.3 362.4 135.8 360.8 136.5 C359.2 137.2 357.7 137.5 355.9 137.7 C354.1 137.9 352.1 137.9 349.9 137.9 C347.7 137.9 344.9 137.8 342.5 137.7 C340.1 137.6 337.1 137.3 335.2 137.1 C333.3 136.9 331.3 137.4 330.9 136.5Z" fill="none" stroke="#850000" stroke-width="1.50" stroke-linejoin="round" stroke-linecap="round"/>
<clipPath id="cb"><rect x="418" y="0" width="175" height="162"/></clipPath>
<g clip-path="url(#cb)">
<path d="M331.4 65.0 C330.9 64.8 331.7 64.9 332.3 64.6 C332.9 64.4 332.7 64.2 334.8 63.6 C336.9 63.0 339.8 62.1 345.0 61.2 C350.2 60.3 358.5 59.2 366.0 58.2 C373.5 57.2 383.0 55.5 390.0 54.9 C397.0 54.2 401.3 54.4 408.0 54.3 C414.7 54.1 423.0 54.2 430.0 54.0 C437.0 53.8 443.3 53.6 450.0 53.2 C456.7 52.8 461.7 52.6 470.0 51.8 C478.3 51.0 490.0 49.6 500.0 48.2 C510.0 46.8 522.5 44.5 530.0 43.2 C537.5 41.9 540.0 41.2 545.0 40.2 C550.0 39.2 555.5 38.2 560.0 37.2 C564.5 36.2 568.0 35.4 572.0 34.4 C576.0 33.4 582.6 30.6 584.0 31.5 C585.4 32.4 582.5 38.0 580.5 39.6 C578.5 41.2 575.4 40.8 572.0 41.4 C568.6 42.0 564.5 42.6 560.0 43.2 C555.5 43.8 550.0 44.3 545.0 45.0 C540.0 45.7 537.5 46.3 530.0 47.2 C522.5 48.1 510.0 49.2 500.0 50.6 C490.0 52.0 479.2 54.5 470.0 55.8 C460.8 57.1 451.7 57.8 445.0 58.4 C438.3 59.0 436.2 59.1 430.0 59.3 C423.8 59.5 413.0 59.5 408.0 59.5 C403.0 59.5 402.2 59.6 400.0 59.6 C397.8 59.6 396.7 59.7 395.0 59.8 C393.3 59.9 391.7 60.0 390.0 60.1 C388.3 60.2 386.7 60.4 385.0 60.5 C383.3 60.6 381.7 60.8 380.0 61.0 C378.3 61.2 377.0 61.3 375.0 61.6 C373.0 61.9 370.2 62.3 368.0 62.6 C365.8 62.9 364.0 63.2 362.0 63.5 C360.0 63.8 358.8 64.0 356.0 64.2 C353.2 64.5 348.5 64.8 345.0 65.0 C341.5 65.2 337.3 65.6 335.0 65.6 C332.7 65.6 331.8 65.2 331.4 65.0Z" fill="none" stroke="#ff0000" stroke-width="1.00" stroke-linejoin="round" stroke-linecap="round" stroke-opacity="0.34"/>
<path d="M331.4 65.1 C330.9 64.9 331.7 64.9 332.3 64.7 C332.9 64.4 332.7 64.2 334.8 63.6 C336.9 63.1 339.8 62.2 345.0 61.3 C350.2 60.4 358.5 59.4 366.0 58.3 C373.5 57.3 383.0 55.7 390.0 55.0 C397.0 54.4 401.3 54.5 408.0 54.4 C414.7 54.2 423.0 54.3 430.0 54.1 C437.0 53.9 443.3 53.6 450.0 53.3 C456.7 52.9 461.7 52.7 470.0 51.9 C478.3 51.1 490.0 49.8 500.0 48.4 C510.0 46.9 522.5 44.7 530.0 43.4 C537.5 42.1 540.0 41.4 545.0 40.4 C550.0 39.4 555.5 38.4 560.0 37.5 C564.5 36.5 568.0 35.6 572.0 34.7 C576.0 33.8 582.6 31.0 584.0 31.9 C585.4 32.7 582.5 38.2 580.5 39.8 C578.5 41.4 575.4 41.0 572.0 41.6 C568.6 42.2 564.5 42.8 560.0 43.4 C555.5 44.0 550.0 44.5 545.0 45.2 C540.0 45.9 537.5 46.4 530.0 47.4 C522.5 48.3 510.0 49.3 500.0 50.7 C490.0 52.2 479.2 54.6 470.0 55.9 C460.8 57.2 451.7 57.9 445.0 58.5 C438.3 59.1 436.2 59.1 430.0 59.3 C423.8 59.5 413.0 59.5 408.0 59.5 C403.0 59.6 402.2 59.6 400.0 59.6 C397.8 59.7 396.7 59.7 395.0 59.8 C393.3 59.9 391.7 60.0 390.0 60.1 C388.3 60.3 386.7 60.4 385.0 60.5 C383.3 60.7 381.7 60.9 380.0 61.0 C378.3 61.2 377.0 61.4 375.0 61.6 C373.0 61.9 370.2 62.3 368.0 62.7 C365.8 63.0 364.0 63.3 362.0 63.6 C360.0 63.8 358.8 64.0 356.0 64.3 C353.2 64.5 348.5 64.8 345.0 65.1 C341.5 65.3 337.3 65.6 335.0 65.7 C332.7 65.7 331.8 65.3 331.4 65.1Z" fill="none" stroke="#ff0000" stroke-width="1.00" stroke-linejoin="round" stroke-linecap="round" stroke-opacity="0.34"/>
<path d="M331.4 65.3 C330.9 65.2 331.7 65.0 332.3 64.8 C332.9 64.5 332.7 64.2 334.8 63.7 C336.9 63.1 339.8 62.3 345.0 61.4 C350.2 60.5 358.5 59.5 366.0 58.5 C373.5 57.4 383.0 55.8 390.0 55.1 C397.0 54.5 401.3 54.6 408.0 54.5 C414.7 54.3 423.0 54.4 430.0 54.2 C437.0 54.0 443.3 53.7 450.0 53.4 C456.7 53.0 461.7 52.9 470.0 52.1 C478.3 51.2 490.0 49.9 500.0 48.5 C510.0 47.1 522.5 45.0 530.0 43.6 C537.5 42.3 540.0 41.6 545.0 40.7 C550.0 39.7 555.5 38.7 560.0 37.7 C564.5 36.8 568.0 35.9 572.0 35.0 C576.0 34.1 582.6 31.4 584.0 32.2 C585.4 33.1 582.5 38.4 580.5 39.9 C578.5 41.5 575.4 41.1 572.0 41.7 C568.6 42.3 564.5 42.9 560.0 43.6 C555.5 44.2 550.0 44.7 545.0 45.4 C540.0 46.1 537.5 46.6 530.0 47.5 C522.5 48.4 510.0 49.5 500.0 50.9 C490.0 52.3 479.2 54.7 470.0 56.0 C460.8 57.3 451.7 58.1 445.0 58.6 C438.3 59.2 436.2 59.2 430.0 59.3 C423.8 59.5 413.0 59.5 408.0 59.5 C403.0 59.6 402.2 59.6 400.0 59.7 C397.8 59.7 396.7 59.8 395.0 59.9 C393.3 60.0 391.7 60.1 390.0 60.2 C388.3 60.4 386.7 60.5 385.0 60.7 C383.3 60.8 381.7 61.0 380.0 61.2 C378.3 61.4 377.0 61.5 375.0 61.8 C373.0 62.1 370.2 62.5 368.0 62.8 C365.8 63.1 364.0 63.5 362.0 63.7 C360.0 64.0 358.8 64.2 356.0 64.4 C353.2 64.7 348.5 65.0 345.0 65.2 C341.5 65.5 337.3 65.8 335.0 65.8 C332.7 65.8 331.8 65.5 331.4 65.3Z" fill="none" stroke="#ff0000" stroke-width="1.00" stroke-linejoin="round" stroke-linecap="round" stroke-opacity="0.34"/>
<path d="M331.4 65.7 C330.9 65.5 331.7 65.2 332.3 64.9 C332.9 64.6 332.7 64.3 334.8 63.7 C336.9 63.2 339.8 62.4 345.0 61.5 C350.2 60.7 358.5 59.6 366.0 58.6 C373.5 57.5 383.0 55.9 390.0 55.2 C397.0 54.6 401.3 54.7 408.0 54.6 C414.7 54.4 423.0 54.4 430.0 54.3 C437.0 54.1 443.3 53.8 450.0 53.5 C456.7 53.1 461.7 53.0 470.0 52.2 C478.3 51.4 490.0 50.1 500.0 48.7 C510.0 47.3 522.5 45.2 530.0 43.9 C537.5 42.6 540.0 41.9 545.0 40.9 C550.0 39.9 555.5 38.9 560.0 38.0 C564.5 37.1 568.0 36.2 572.0 35.3 C576.0 34.4 582.6 31.8 584.0 32.6 C585.4 33.4 582.5 38.6 580.5 40.1 C578.5 41.7 575.4 41.3 572.0 41.9 C568.6 42.5 564.5 43.1 560.0 43.7 C555.5 44.4 550.0 44.9 545.0 45.6 C540.0 46.3 537.5 46.8 530.0 47.7 C522.5 48.6 510.0 49.6 500.0 51.0 C490.0 52.4 479.2 54.8 470.0 56.1 C460.8 57.3 451.7 58.2 445.0 58.7 C438.3 59.3 436.2 59.2 430.0 59.3 C423.8 59.5 413.0 59.5 408.0 59.6 C403.0 59.7 402.2 59.7 400.0 59.7 C397.8 59.8 396.7 59.9 395.0 60.0 C393.3 60.1 391.7 60.3 390.0 60.4 C388.3 60.5 386.7 60.7 385.0 60.9 C383.3 61.0 381.7 61.2 380.0 61.4 C378.3 61.6 377.0 61.8 375.0 62.0 C373.0 62.3 370.2 62.8 368.0 63.1 C365.8 63.4 364.0 63.8 362.0 64.0 C360.0 64.3 358.8 64.5 356.0 64.7 C353.2 65.0 348.5 65.3 345.0 65.5 C341.5 65.7 337.3 66.1 335.0 66.1 C332.7 66.1 331.8 65.9 331.4 65.7Z" fill="none" stroke="#ff0000" stroke-width="1.00" stroke-linejoin="round" stroke-linecap="round" stroke-opacity="0.34"/>
<path d="M331.4 66.2 C330.9 65.9 331.7 65.5 332.3 65.1 C332.9 64.7 332.7 64.3 334.8 63.8 C336.9 63.2 339.8 62.5 345.0 61.6 C350.2 60.8 358.5 59.8 366.0 58.7 C373.5 57.7 383.0 56.0 390.0 55.3 C397.0 54.7 401.3 54.8 408.0 54.7 C414.7 54.5 423.0 54.5 430.0 54.3 C437.0 54.2 443.3 53.9 450.0 53.5 C456.7 53.2 461.7 53.1 470.0 52.3 C478.3 51.5 490.0 50.2 500.0 48.8 C510.0 47.5 522.5 45.4 530.0 44.1 C537.5 42.8 540.0 42.1 545.0 41.1 C550.0 40.2 555.5 39.2 560.0 38.3 C564.5 37.3 568.0 36.5 572.0 35.6 C576.0 34.7 582.6 32.2 584.0 33.0 C585.4 33.8 582.5 38.8 580.5 40.3 C578.5 41.8 575.4 41.5 572.0 42.1 C568.6 42.7 564.5 43.3 560.0 43.9 C555.5 44.5 550.0 45.1 545.0 45.8 C540.0 46.5 537.5 47.0 530.0 47.9 C522.5 48.8 510.0 49.8 500.0 51.1 C490.0 52.5 479.2 54.9 470.0 56.1 C460.8 57.4 451.7 58.3 445.0 58.8 C438.3 59.4 436.2 59.2 430.0 59.4 C423.8 59.5 413.0 59.6 408.0 59.7 C403.0 59.7 402.2 59.8 400.0 59.9 C397.8 59.9 396.7 60.1 395.0 60.2 C393.3 60.3 391.7 60.5 390.0 60.6 C388.3 60.8 386.7 61.0 385.0 61.1 C383.3 61.3 381.7 61.5 380.0 61.7 C378.3 61.9 377.0 62.1 375.0 62.4 C373.0 62.7 370.2 63.1 368.0 63.5 C365.8 63.8 364.0 64.2 362.0 64.4 C360.0 64.7 358.8 64.9 356.0 65.1 C353.2 65.4 348.5 65.7 345.0 65.9 C341.5 66.1 337.3 66.4 335.0 66.5 C332.7 66.5 331.8 66.4 331.4 66.2Z" fill="none" stroke="#ff0000" stroke-width="1.00" stroke-linejoin="round" stroke-linecap="round" stroke-opacity="0.34"/>
<path d="M331.4 66.7 C330.9 66.4 331.7 65.8 332.3 65.3 C332.9 64.8 332.7 64.4 334.8 63.8 C336.9 63.2 339.8 62.6 345.0 61.7 C350.2 60.9 358.5 59.9 366.0 58.8 C373.5 57.8 383.0 56.1 390.0 55.5 C397.0 54.8 401.3 54.9 408.0 54.7 C414.7 54.6 423.0 54.6 430.0 54.4 C437.0 54.2 443.3 54.0 450.0 53.6 C456.7 53.3 461.7 53.2 470.0 52.4 C478.3 51.7 490.0 50.3 500.0 49.0 C510.0 47.6 522.5 45.6 530.0 44.3 C537.5 43.0 540.0 42.3 545.0 41.4 C550.0 40.4 555.5 39.4 560.0 38.5 C564.5 37.6 568.0 36.8 572.0 35.9 C576.0 35.1 582.6 32.6 584.0 33.4 C585.4 34.1 582.5 39.0 580.5 40.4 C578.5 41.9 575.4 41.6 572.0 42.2 C568.6 42.9 564.5 43.5 560.0 44.1 C555.5 44.7 550.0 45.3 545.0 46.0 C540.0 46.7 537.5 47.2 530.0 48.0 C522.5 48.9 510.0 49.9 500.0 51.3 C490.0 52.6 479.2 54.9 470.0 56.2 C460.8 57.5 451.7 58.4 445.0 58.9 C438.3 59.5 436.2 59.3 430.0 59.4 C423.8 59.6 413.0 59.6 408.0 59.7 C403.0 59.8 402.2 59.9 400.0 60.0 C397.8 60.1 396.7 60.2 395.0 60.4 C393.3 60.6 391.7 60.7 390.0 60.9 C388.3 61.1 386.7 61.3 385.0 61.5 C383.3 61.7 381.7 61.9 380.0 62.1 C378.3 62.4 377.0 62.5 375.0 62.8 C373.0 63.1 370.2 63.6 368.0 63.9 C365.8 64.3 364.0 64.7 362.0 65.0 C360.0 65.2 358.8 65.4 356.0 65.6 C353.2 65.9 348.5 66.2 345.0 66.4 C341.5 66.6 337.3 66.9 335.0 66.9 C332.7 67.0 331.8 67.0 331.4 66.7Z" fill="none" stroke="#ff0000" stroke-width="1.00" stroke-linejoin="round" stroke-linecap="round" stroke-opacity="0.34"/>
<path d="M331.4 67.4 C330.9 67.1 331.7 66.2 332.3 65.6 C332.9 65.0 332.7 64.5 334.8 63.9 C336.9 63.2 339.8 62.6 345.0 61.8 C350.2 61.0 358.5 60.0 366.0 59.0 C373.5 57.9 383.0 56.2 390.0 55.6 C397.0 54.9 401.3 55.0 408.0 54.8 C414.7 54.7 423.0 54.7 430.0 54.5 C437.0 54.3 443.3 54.0 450.0 53.7 C456.7 53.4 461.7 53.3 470.0 52.6 C478.3 51.8 490.0 50.5 500.0 49.1 C510.0 47.8 522.5 45.8 530.0 44.5 C537.5 43.3 540.0 42.5 545.0 41.6 C550.0 40.6 555.5 39.7 560.0 38.8 C564.5 37.9 568.0 37.1 572.0 36.2 C576.0 35.4 582.6 33.0 584.0 33.7 C585.4 34.5 582.5 39.2 580.5 40.6 C578.5 42.1 575.4 41.8 572.0 42.4 C568.6 43.0 564.5 43.6 560.0 44.3 C555.5 44.9 550.0 45.5 545.0 46.2 C540.0 46.9 537.5 47.3 530.0 48.2 C522.5 49.1 510.0 50.1 500.0 51.4 C490.0 52.8 479.2 55.0 470.0 56.3 C460.8 57.6 451.7 58.5 445.0 59.0 C438.3 59.6 436.2 59.4 430.0 59.5 C423.8 59.6 413.0 59.7 408.0 59.8 C403.0 60.0 402.2 60.1 400.0 60.2 C397.8 60.3 396.7 60.5 395.0 60.7 C393.3 60.9 391.7 61.1 390.0 61.3 C388.3 61.5 386.7 61.7 385.0 61.9 C383.3 62.2 381.7 62.4 380.0 62.6 C378.3 62.9 377.0 63.1 375.0 63.4 C373.0 63.7 370.2 64.2 368.0 64.5 C365.8 64.9 364.0 65.3 362.0 65.6 C360.0 65.9 358.8 66.0 356.0 66.3 C353.2 66.5 348.5 66.8 345.0 67.0 C341.5 67.2 337.3 67.5 335.0 67.5 C332.7 67.6 331.8 67.7 331.4 67.4Z" fill="none" stroke="#ff0000" stroke-width="1.00" stroke-linejoin="round" stroke-linecap="round" stroke-opacity="0.34"/>
<path d="M331.4 68.1 C330.9 67.8 331.7 66.6 332.3 65.9 C332.9 65.2 332.7 64.6 334.8 63.9 C336.9 63.2 339.8 62.7 345.0 61.9 C350.2 61.1 358.5 60.1 366.0 59.1 C373.5 58.0 383.0 56.4 390.0 55.7 C397.0 55.0 401.3 55.1 408.0 54.9 C414.7 54.7 423.0 54.8 430.0 54.6 C437.0 54.4 443.3 54.1 450.0 53.8 C456.7 53.5 461.7 53.4 470.0 52.7 C478.3 51.9 490.0 50.6 500.0 49.3 C510.0 48.0 522.5 46.0 530.0 44.7 C537.5 43.5 540.0 42.8 545.0 41.8 C550.0 40.9 555.5 39.9 560.0 39.0 C564.5 38.2 568.0 37.4 572.0 36.5 C576.0 35.7 582.6 33.4 584.0 34.1 C585.4 34.8 582.5 39.4 580.5 40.8 C578.5 42.2 575.4 42.0 572.0 42.6 C568.6 43.2 564.5 43.8 560.0 44.5 C555.5 45.1 550.0 45.7 545.0 46.4 C540.0 47.1 537.5 47.5 530.0 48.4 C522.5 49.2 510.0 50.2 500.0 51.6 C490.0 52.9 479.2 55.1 470.0 56.4 C460.8 57.7 451.7 58.6 445.0 59.1 C438.3 59.7 436.2 59.4 430.0 59.6 C423.8 59.7 413.0 59.8 408.0 60.0 C403.0 60.1 402.2 60.2 400.0 60.4 C397.8 60.6 396.7 60.8 395.0 61.0 C393.3 61.2 391.7 61.5 390.0 61.7 C388.3 62.0 386.7 62.2 385.0 62.5 C383.3 62.7 381.7 63.0 380.0 63.2 C378.3 63.5 377.0 63.7 375.0 64.0 C373.0 64.4 370.2 64.8 368.0 65.2 C365.8 65.6 364.0 66.1 362.0 66.4 C360.0 66.6 358.8 66.8 356.0 67.0 C353.2 67.2 348.5 67.5 345.0 67.7 C341.5 67.9 337.3 68.2 335.0 68.2 C332.7 68.3 331.8 68.5 331.4 68.1Z" fill="none" stroke="#ff0000" stroke-width="1.00" stroke-linejoin="round" stroke-linecap="round" stroke-opacity="0.34"/>
<path d="M331.4 69.0 C330.9 68.5 331.7 67.1 332.3 66.2 C332.9 65.4 332.7 64.6 334.8 63.9 C336.9 63.2 339.8 62.8 345.0 62.0 C350.2 61.3 358.5 60.3 366.0 59.2 C373.5 58.2 383.0 56.5 390.0 55.8 C397.0 55.1 401.3 55.2 408.0 55.0 C414.7 54.8 423.0 54.9 430.0 54.7 C437.0 54.5 443.3 54.2 450.0 53.9 C456.7 53.6 461.7 53.5 470.0 52.8 C478.3 52.1 490.0 50.8 500.0 49.5 C510.0 48.2 522.5 46.2 530.0 45.0 C537.5 43.7 540.0 43.0 545.0 42.1 C550.0 41.1 555.5 40.2 560.0 39.3 C564.5 38.4 568.0 37.6 572.0 36.8 C576.0 36.0 582.6 33.8 584.0 34.5 C585.4 35.2 582.5 39.6 580.5 40.9 C578.5 42.3 575.4 42.1 572.0 42.7 C568.6 43.4 564.5 44.0 560.0 44.6 C555.5 45.3 550.0 45.9 545.0 46.6 C540.0 47.3 537.5 47.7 530.0 48.5 C522.5 49.4 510.0 50.4 500.0 51.7 C490.0 53.0 479.2 55.2 470.0 56.5 C460.8 57.7 451.7 58.7 445.0 59.2 C438.3 59.8 436.2 59.5 430.0 59.6 C423.8 59.8 413.0 60.0 408.0 60.1 C403.0 60.3 402.2 60.4 400.0 60.6 C397.8 60.8 396.7 61.1 395.0 61.3 C393.3 61.6 391.7 61.9 390.0 62.2 C388.3 62.5 386.7 62.8 385.0 63.1 C383.3 63.4 381.7 63.6 380.0 63.9 C378.3 64.2 377.0 64.4 375.0 64.8 C373.0 65.1 370.2 65.6 368.0 66.0 C365.8 66.4 364.0 66.9 362.0 67.2 C360.0 67.5 358.8 67.6 356.0 67.9 C353.2 68.1 348.5 68.3 345.0 68.5 C341.5 68.7 337.3 69.0 335.0 69.0 C332.7 69.1 331.8 69.5 331.4 69.0Z" fill="none" stroke="#ff0000" stroke-width="1.00" stroke-linejoin="round" stroke-linecap="round" stroke-opacity="0.34"/>
<path d="M331.4 70.0 C330.9 69.4 331.7 67.6 332.3 66.6 C332.9 65.6 332.7 64.7 334.8 64.0 C336.9 63.2 339.8 62.9 345.0 62.1 C350.2 61.4 358.5 60.4 366.0 59.3 C373.5 58.3 383.0 56.6 390.0 55.9 C397.0 55.2 401.3 55.3 408.0 55.1 C414.7 54.9 423.0 54.9 430.0 54.8 C437.0 54.6 443.3 54.3 450.0 54.0 C456.7 53.7 461.7 53.7 470.0 52.9 C478.3 52.2 490.0 50.9 500.0 49.6 C510.0 48.3 522.5 46.4 530.0 45.2 C537.5 44.0 540.0 43.2 545.0 42.3 C550.0 41.3 555.5 40.4 560.0 39.6 C564.5 38.7 568.0 37.9 572.0 37.1 C576.0 36.4 582.6 34.2 584.0 34.9 C585.4 35.5 582.5 39.8 580.5 41.1 C578.5 42.5 575.4 42.3 572.0 42.9 C568.6 43.5 564.5 44.2 560.0 44.8 C555.5 45.5 550.0 46.1 545.0 46.8 C540.0 47.5 537.5 47.9 530.0 48.7 C522.5 49.6 510.0 50.5 500.0 51.8 C490.0 53.1 479.2 55.3 470.0 56.6 C460.8 57.8 451.7 58.8 445.0 59.3 C438.3 59.9 436.2 59.6 430.0 59.7 C423.8 59.9 413.0 60.1 408.0 60.3 C403.0 60.5 402.2 60.7 400.0 60.9 C397.8 61.2 396.7 61.4 395.0 61.8 C393.3 62.1 391.7 62.4 390.0 62.8 C388.3 63.1 386.7 63.4 385.0 63.8 C383.3 64.1 381.7 64.4 380.0 64.7 C378.3 65.0 377.0 65.2 375.0 65.6 C373.0 66.0 370.2 66.5 368.0 67.0 C365.8 67.4 364.0 67.9 362.0 68.2 C360.0 68.5 358.8 68.6 356.0 68.8 C353.2 69.0 348.5 69.3 345.0 69.4 C341.5 69.6 337.3 69.9 335.0 70.0 C332.7 70.0 331.8 70.5 331.4 70.0Z" fill="none" stroke="#ff0000" stroke-width="1.00" stroke-linejoin="round" stroke-linecap="round" stroke-opacity="0.34"/>
<path d="M331.4 71.0 C330.9 70.3 331.7 68.2 332.3 67.0 C332.9 65.9 332.7 64.8 334.8 64.0 C336.9 63.2 339.8 63.0 345.0 62.3 C350.2 61.5 358.5 60.5 366.0 59.5 C373.5 58.4 383.0 56.7 390.0 56.0 C397.0 55.3 401.3 55.4 408.0 55.2 C414.7 55.0 423.0 55.0 430.0 54.8 C437.0 54.7 443.3 54.3 450.0 54.0 C456.7 53.7 461.7 53.8 470.0 53.1 C478.3 52.4 490.0 51.1 500.0 49.8 C510.0 48.5 522.5 46.6 530.0 45.4 C537.5 44.2 540.0 43.4 545.0 42.5 C550.0 41.6 555.5 40.7 560.0 39.8 C564.5 39.0 568.0 38.2 572.0 37.5 C576.0 36.7 582.6 34.6 584.0 35.2 C585.4 35.9 582.5 40.0 580.5 41.3 C578.5 42.6 575.4 42.5 572.0 43.1 C568.6 43.7 564.5 44.3 560.0 45.0 C555.5 45.6 550.0 46.4 545.0 47.0 C540.0 47.6 537.5 48.1 530.0 48.9 C522.5 49.7 510.0 50.7 500.0 52.0 C490.0 53.3 479.2 55.4 470.0 56.6 C460.8 57.9 451.7 58.9 445.0 59.5 C438.3 60.0 436.2 59.7 430.0 59.8 C423.8 60.0 413.0 60.2 408.0 60.5 C403.0 60.7 402.2 60.9 400.0 61.2 C397.8 61.5 396.7 61.8 395.0 62.2 C393.3 62.6 391.7 63.0 390.0 63.4 C388.3 63.8 386.7 64.2 385.0 64.5 C383.3 64.9 381.7 65.2 380.0 65.6 C378.3 65.9 377.0 66.2 375.0 66.6 C373.0 67.0 370.2 67.5 368.0 68.0 C365.8 68.4 364.0 69.0 362.0 69.3 C360.0 69.6 358.8 69.7 356.0 69.9 C353.2 70.1 348.5 70.3 345.0 70.5 C341.5 70.7 337.3 70.9 335.0 71.0 C332.7 71.1 331.8 71.6 331.4 71.0Z" fill="none" stroke="#ff0000" stroke-width="1.00" stroke-linejoin="round" stroke-linecap="round" stroke-opacity="0.34"/>
<path d="M331.4 72.1 C330.9 71.3 331.7 68.8 332.3 67.5 C332.9 66.1 332.7 64.9 334.8 64.1 C336.9 63.2 339.8 63.1 345.0 62.4 C350.2 61.6 358.5 60.6 366.0 59.6 C373.5 58.5 383.0 56.8 390.0 56.1 C397.0 55.4 401.3 55.5 408.0 55.3 C414.7 55.1 423.0 55.1 430.0 54.9 C437.0 54.7 443.3 54.4 450.0 54.1 C456.7 53.8 461.7 53.9 470.0 53.2 C478.3 52.5 490.0 51.2 500.0 49.9 C510.0 48.7 522.5 46.8 530.0 45.6 C537.5 44.4 540.0 43.7 545.0 42.7 C550.0 41.8 555.5 40.9 560.0 40.1 C564.5 39.3 568.0 38.5 572.0 37.8 C576.0 37.0 582.6 35.0 584.0 35.6 C585.4 36.2 582.5 40.2 580.5 41.5 C578.5 42.7 575.4 42.6 572.0 43.3 C568.6 43.9 564.5 44.5 560.0 45.2 C555.5 45.8 550.0 46.6 545.0 47.2 C540.0 47.8 537.5 48.2 530.0 49.1 C522.5 49.9 510.0 50.8 500.0 52.1 C490.0 53.4 479.2 55.5 470.0 56.7 C460.8 58.0 451.7 59.0 445.0 59.6 C438.3 60.1 436.2 59.8 430.0 59.9 C423.8 60.1 413.0 60.4 408.0 60.7 C403.0 60.9 402.2 61.2 400.0 61.6 C397.8 61.9 396.7 62.3 395.0 62.7 C393.3 63.1 391.7 63.6 390.0 64.1 C388.3 64.5 386.7 65.0 385.0 65.4 C383.3 65.8 381.7 66.2 380.0 66.5 C378.3 66.9 377.0 67.2 375.0 67.6 C373.0 68.0 370.2 68.6 368.0 69.1 C365.8 69.6 364.0 70.2 362.0 70.5 C360.0 70.9 358.8 70.9 356.0 71.1 C353.2 71.3 348.5 71.5 345.0 71.6 C341.5 71.8 337.3 72.0 335.0 72.1 C332.7 72.2 331.8 72.9 331.4 72.1Z" fill="none" stroke="#ff0000" stroke-width="1.00" stroke-linejoin="round" stroke-linecap="round" stroke-opacity="0.34"/>
<path d="M331.4 73.3 C330.9 72.4 331.7 69.5 332.3 68.0 C332.9 66.4 332.7 65.0 334.8 64.1 C336.9 63.2 339.8 63.2 345.0 62.5 C350.2 61.7 358.5 60.8 366.0 59.7 C373.5 58.7 383.0 56.9 390.0 56.2 C397.0 55.5 401.3 55.6 408.0 55.4 C414.7 55.2 423.0 55.2 430.0 55.0 C437.0 54.8 443.3 54.5 450.0 54.2 C456.7 53.9 461.7 54.0 470.0 53.3 C478.3 52.6 490.0 51.3 500.0 50.1 C510.0 48.9 522.5 47.0 530.0 45.9 C537.5 44.7 540.0 43.9 545.0 43.0 C550.0 42.1 555.5 41.2 560.0 40.4 C564.5 39.5 568.0 38.8 572.0 38.1 C576.0 37.3 582.6 35.4 584.0 36.0 C585.4 36.6 582.5 40.4 580.5 41.6 C578.5 42.9 575.4 42.8 572.0 43.4 C568.6 44.0 564.5 44.7 560.0 45.3 C555.5 46.0 550.0 46.8 545.0 47.4 C540.0 48.0 537.5 48.4 530.0 49.2 C522.5 50.0 510.0 51.0 500.0 52.2 C490.0 53.5 479.2 55.6 470.0 56.8 C460.8 58.0 451.7 59.1 445.0 59.7 C438.3 60.2 436.2 59.9 430.0 60.1 C423.8 60.3 413.0 60.6 408.0 60.9 C403.0 61.2 402.2 61.6 400.0 62.0 C397.8 62.3 396.7 62.8 395.0 63.3 C393.3 63.8 391.7 64.3 390.0 64.8 C388.3 65.3 386.7 65.8 385.0 66.3 C383.3 66.7 381.7 67.2 380.0 67.6 C378.3 68.0 377.0 68.3 375.0 68.7 C373.0 69.2 370.2 69.8 368.0 70.3 C365.8 70.9 364.0 71.5 362.0 71.9 C360.0 72.2 358.8 72.2 356.0 72.4 C353.2 72.6 348.5 72.7 345.0 72.9 C341.5 73.1 337.3 73.3 335.0 73.3 C332.7 73.4 331.8 74.2 331.4 73.3Z" fill="none" stroke="#ff0000" stroke-width="1.00" stroke-linejoin="round" stroke-linecap="round" stroke-opacity="0.34"/>
<path d="M331.4 74.6 C330.9 73.6 331.7 70.2 332.3 68.5 C332.9 66.7 332.7 65.1 334.8 64.1 C336.9 63.2 339.8 63.3 345.0 62.6 C350.2 61.9 358.5 60.9 366.0 59.8 C373.5 58.8 383.0 57.1 390.0 56.3 C397.0 55.6 401.3 55.7 408.0 55.5 C414.7 55.3 423.0 55.3 430.0 55.1 C437.0 54.9 443.3 54.6 450.0 54.3 C456.7 54.0 461.7 54.1 470.0 53.4 C478.3 52.8 490.0 51.5 500.0 50.3 C510.0 49.0 522.5 47.2 530.0 46.1 C537.5 44.9 540.0 44.1 545.0 43.2 C550.0 42.3 555.5 41.4 560.0 40.6 C564.5 39.8 568.0 39.1 572.0 38.4 C576.0 37.7 582.6 35.8 584.0 36.4 C585.4 36.9 582.5 40.6 580.5 41.8 C578.5 43.0 575.4 43.0 572.0 43.6 C568.6 44.2 564.5 44.9 560.0 45.5 C555.5 46.2 550.0 47.0 545.0 47.6 C540.0 48.2 537.5 48.6 530.0 49.4 C522.5 50.2 510.0 51.1 500.0 52.4 C490.0 53.6 479.2 55.7 470.0 56.9 C460.8 58.1 451.7 59.2 445.0 59.8 C438.3 60.3 436.2 60.0 430.0 60.2 C423.8 60.4 413.0 60.8 408.0 61.1 C403.0 61.5 402.2 61.9 400.0 62.4 C397.8 62.8 396.7 63.3 395.0 63.9 C393.3 64.4 391.7 65.1 390.0 65.7 C388.3 66.2 386.7 66.8 385.0 67.3 C383.3 67.8 381.7 68.3 380.0 68.7 C378.3 69.2 377.0 69.5 375.0 70.0 C373.0 70.5 370.2 71.1 368.0 71.7 C365.8 72.2 364.0 73.0 362.0 73.3 C360.0 73.7 358.8 73.7 356.0 73.8 C353.2 74.0 348.5 74.1 345.0 74.3 C341.5 74.4 337.3 74.6 335.0 74.7 C332.7 74.7 331.8 75.6 331.4 74.6Z" fill="none" stroke="#ff0000" stroke-width="1.00" stroke-linejoin="round" stroke-linecap="round" stroke-opacity="0.34"/>
<path d="M331.4 76.0 C330.9 74.8 331.7 71.0 332.3 69.0 C332.9 67.1 332.7 65.2 334.8 64.2 C336.9 63.1 339.8 63.4 345.0 62.7 C350.2 62.0 358.5 61.0 366.0 60.0 C373.5 58.9 383.0 57.2 390.0 56.4 C397.0 55.7 401.3 55.8 408.0 55.6 C414.7 55.3 423.0 55.4 430.0 55.2 C437.0 55.0 443.3 54.6 450.0 54.4 C456.7 54.1 461.7 54.2 470.0 53.6 C478.3 52.9 490.0 51.6 500.0 50.4 C510.0 49.2 522.5 47.5 530.0 46.3 C537.5 45.1 540.0 44.3 545.0 43.4 C550.0 42.5 555.5 41.7 560.0 40.9 C564.5 40.1 568.0 39.4 572.0 38.7 C576.0 38.0 582.6 36.2 584.0 36.7 C585.4 37.3 582.5 40.8 580.5 42.0 C578.5 43.1 575.4 43.1 572.0 43.8 C568.6 44.4 564.5 45.0 560.0 45.7 C555.5 46.4 550.0 47.2 545.0 47.8 C540.0 48.4 537.5 48.8 530.0 49.6 C522.5 50.3 510.0 51.3 500.0 52.5 C490.0 53.8 479.2 55.8 470.0 57.0 C460.8 58.2 451.7 59.3 445.0 59.9 C438.3 60.4 436.2 60.1 430.0 60.3 C423.8 60.6 413.0 61.0 408.0 61.4 C403.0 61.8 402.2 62.3 400.0 62.8 C397.8 63.3 396.7 63.9 395.0 64.5 C393.3 65.1 391.7 65.9 390.0 66.6 C388.3 67.2 386.7 67.8 385.0 68.4 C383.3 68.9 381.7 69.5 380.0 70.0 C378.3 70.4 377.0 70.8 375.0 71.3 C373.0 71.8 370.2 72.5 368.0 73.1 C365.8 73.7 364.0 74.5 362.0 74.9 C360.0 75.3 358.8 75.2 356.0 75.4 C353.2 75.5 348.5 75.6 345.0 75.8 C341.5 75.9 337.3 76.1 335.0 76.1 C332.7 76.2 331.8 77.1 331.4 76.0Z" fill="none" stroke="#ff0000" stroke-width="1.00" stroke-linejoin="round" stroke-linecap="round" stroke-opacity="0.34"/>
<path d="M331.4 77.4 C330.9 76.1 331.7 71.8 332.3 69.6 C332.9 67.4 332.7 65.4 334.8 64.2 C336.9 63.1 339.8 63.5 345.0 62.8 C350.2 62.1 358.5 61.1 366.0 60.1 C373.5 59.1 383.0 57.3 390.0 56.6 C397.0 55.8 401.3 55.9 408.0 55.6 C414.7 55.4 423.0 55.5 430.0 55.3 C437.0 55.1 443.3 54.7 450.0 54.5 C456.7 54.2 461.7 54.3 470.0 53.7 C478.3 53.0 490.0 51.8 500.0 50.6 C510.0 49.4 522.5 47.7 530.0 46.5 C537.5 45.4 540.0 44.6 545.0 43.7 C550.0 42.8 555.5 41.9 560.0 41.1 C564.5 40.4 568.0 39.7 572.0 39.0 C576.0 38.3 582.6 36.6 584.0 37.1 C585.4 37.6 582.5 41.0 580.5 42.1 C578.5 43.3 575.4 43.3 572.0 43.9 C568.6 44.6 564.5 45.2 560.0 45.9 C555.5 46.6 550.0 47.4 545.0 48.0 C540.0 48.6 537.5 49.0 530.0 49.7 C522.5 50.5 510.0 51.4 500.0 52.7 C490.0 53.9 479.2 55.8 470.0 57.1 C460.8 58.3 451.7 59.4 445.0 60.0 C438.3 60.5 436.2 60.2 430.0 60.5 C423.8 60.8 413.0 61.2 408.0 61.7 C403.0 62.1 402.2 62.7 400.0 63.3 C397.8 63.9 396.7 64.5 395.0 65.2 C393.3 65.9 391.7 66.8 390.0 67.5 C388.3 68.2 386.7 68.9 385.0 69.5 C383.3 70.2 381.7 70.7 380.0 71.3 C378.3 71.8 377.0 72.2 375.0 72.8 C373.0 73.3 370.2 74.1 368.0 74.7 C365.8 75.3 364.0 76.2 362.0 76.6 C360.0 77.0 358.8 76.9 356.0 77.0 C353.2 77.2 348.5 77.2 345.0 77.3 C341.5 77.4 337.3 77.7 335.0 77.7 C332.7 77.7 331.8 78.8 331.4 77.4Z" fill="none" stroke="#ff0000" stroke-width="1.00" stroke-linejoin="round" stroke-linecap="round" stroke-opacity="0.34"/>
<path d="M331.4 78.9 C330.9 77.4 331.7 72.7 332.3 70.2 C332.9 67.8 332.7 65.5 334.8 64.3 C336.9 63.1 339.8 63.6 345.0 62.9 C350.2 62.2 358.5 61.3 366.0 60.2 C373.5 59.2 383.0 57.4 390.0 56.7 C397.0 55.9 401.3 56.0 408.0 55.7 C414.7 55.5 423.0 55.5 430.0 55.3 C437.0 55.2 443.3 54.8 450.0 54.5 C456.7 54.3 461.7 54.5 470.0 53.8 C478.3 53.2 490.0 51.9 500.0 50.7 C510.0 49.5 522.5 47.9 530.0 46.7 C537.5 45.6 540.0 44.8 545.0 43.9 C550.0 43.0 555.5 42.2 560.0 41.4 C564.5 40.6 568.0 39.9 572.0 39.3 C576.0 38.6 582.6 37.0 584.0 37.5 C585.4 38.0 582.5 41.2 580.5 42.3 C578.5 43.4 575.4 43.5 572.0 44.1 C568.6 44.7 564.5 45.4 560.0 46.1 C555.5 46.7 550.0 47.6 545.0 48.2 C540.0 48.8 537.5 49.1 530.0 49.9 C522.5 50.7 510.0 51.6 500.0 52.8 C490.0 54.0 479.2 55.9 470.0 57.1 C460.8 58.4 451.7 59.5 445.0 60.1 C438.3 60.7 436.2 60.3 430.0 60.6 C423.8 61.0 413.0 61.5 408.0 62.0 C403.0 62.5 402.2 63.1 400.0 63.8 C397.8 64.4 396.7 65.2 395.0 66.0 C393.3 66.8 391.7 67.7 390.0 68.5 C388.3 69.3 386.7 70.1 385.0 70.8 C383.3 71.5 381.7 72.1 380.0 72.7 C378.3 73.3 377.0 73.7 375.0 74.3 C373.0 74.9 370.2 75.7 368.0 76.4 C365.8 77.0 364.0 78.0 362.0 78.4 C360.0 78.8 358.8 78.7 356.0 78.8 C353.2 78.9 348.5 78.9 345.0 79.0 C341.5 79.1 337.3 79.4 335.0 79.4 C332.7 79.3 331.8 80.5 331.4 78.9Z" fill="none" stroke="#ff0000" stroke-width="1.00" stroke-linejoin="round" stroke-linecap="round" stroke-opacity="0.34"/>
<path d="M331.4 80.6 C330.9 78.8 331.7 73.6 332.3 70.9 C332.9 68.2 332.7 65.6 334.8 64.3 C336.9 63.0 339.8 63.7 345.0 63.0 C350.2 62.3 358.5 61.4 366.0 60.3 C373.5 59.3 383.0 57.5 390.0 56.8 C397.0 56.0 401.3 56.0 408.0 55.8 C414.7 55.6 423.0 55.6 430.0 55.4 C437.0 55.2 443.3 54.9 450.0 54.6 C456.7 54.4 461.7 54.6 470.0 53.9 C478.3 53.3 490.0 52.0 500.0 50.9 C510.0 49.7 522.5 48.1 530.0 47.0 C537.5 45.8 540.0 45.0 545.0 44.1 C550.0 43.3 555.5 42.4 560.0 41.7 C564.5 40.9 568.0 40.2 572.0 39.6 C576.0 39.0 582.6 37.4 584.0 37.9 C585.4 38.3 582.5 41.4 580.5 42.5 C578.5 43.5 575.4 43.6 572.0 44.3 C568.6 44.9 564.5 45.6 560.0 46.2 C555.5 46.9 550.0 47.8 545.0 48.4 C540.0 49.0 537.5 49.3 530.0 50.1 C522.5 50.8 510.0 51.7 500.0 52.9 C490.0 54.1 479.2 56.0 470.0 57.2 C460.8 58.4 451.7 59.6 445.0 60.2 C438.3 60.8 436.2 60.5 430.0 60.8 C423.8 61.2 413.0 61.7 408.0 62.3 C403.0 62.9 402.2 63.6 400.0 64.3 C397.8 65.1 396.7 65.9 395.0 66.8 C393.3 67.6 391.7 68.7 390.0 69.6 C388.3 70.5 386.7 71.3 385.0 72.1 C383.3 72.9 381.7 73.6 380.0 74.2 C378.3 74.8 377.0 75.3 375.0 75.9 C373.0 76.6 370.2 77.4 368.0 78.1 C365.8 78.9 364.0 79.9 362.0 80.3 C360.0 80.7 358.8 80.6 356.0 80.7 C353.2 80.8 348.5 80.8 345.0 80.9 C341.5 80.9 337.3 81.2 335.0 81.1 C332.7 81.1 331.8 82.3 331.4 80.6Z" fill="none" stroke="#ff0000" stroke-width="1.00" stroke-linejoin="round" stroke-linecap="round" stroke-opacity="0.34"/>
<path d="M331.4 82.2 C330.9 80.3 331.7 74.5 332.3 71.5 C332.9 68.6 332.7 65.8 334.8 64.4 C336.9 63.0 339.8 63.7 345.0 63.1 C350.2 62.4 358.5 61.5 366.0 60.5 C373.5 59.4 383.0 57.7 390.0 56.9 C397.0 56.1 401.3 56.1 408.0 55.9 C414.7 55.7 423.0 55.7 430.0 55.5 C437.0 55.3 443.3 55.0 450.0 54.7 C456.7 54.5 461.7 54.7 470.0 54.1 C478.3 53.5 490.0 52.2 500.0 51.0 C510.0 49.9 522.5 48.3 530.0 47.2 C537.5 46.1 540.0 45.2 545.0 44.4 C550.0 43.5 555.5 42.7 560.0 41.9 C564.5 41.2 568.0 40.5 572.0 39.9 C576.0 39.3 582.6 37.8 584.0 38.2 C585.4 38.7 582.5 41.6 580.5 42.6 C578.5 43.7 575.4 43.8 572.0 44.4 C568.6 45.1 564.5 45.7 560.0 46.4 C555.5 47.1 550.0 48.0 545.0 48.6 C540.0 49.2 537.5 49.5 530.0 50.2 C522.5 51.0 510.0 51.9 500.0 53.1 C490.0 54.2 479.2 56.1 470.0 57.3 C460.8 58.5 451.7 59.7 445.0 60.3 C438.3 60.9 436.2 60.6 430.0 61.0 C423.8 61.4 413.0 62.0 408.0 62.6 C403.0 63.3 402.2 64.1 400.0 64.9 C397.8 65.7 396.7 66.6 395.0 67.6 C393.3 68.6 391.7 69.8 390.0 70.8 C388.3 71.8 386.7 72.7 385.0 73.5 C383.3 74.4 381.7 75.1 380.0 75.8 C378.3 76.5 377.0 77.0 375.0 77.7 C373.0 78.4 370.2 79.2 368.0 80.0 C365.8 80.8 364.0 81.9 362.0 82.3 C360.0 82.8 358.8 82.6 356.0 82.7 C353.2 82.8 348.5 82.7 345.0 82.8 C341.5 82.8 337.3 83.1 335.0 83.0 C332.7 82.9 331.8 84.2 331.4 82.2Z" fill="none" stroke="#ff0000" stroke-width="1.00" stroke-linejoin="round" stroke-linecap="round" stroke-opacity="0.34"/>
<path d="M331.4 84.0 C330.9 81.9 331.7 75.5 332.3 72.2 C332.9 69.0 332.7 65.9 334.8 64.4 C336.9 62.9 339.8 63.8 345.0 63.2 C350.2 62.6 358.5 61.6 366.0 60.6 C373.5 59.6 383.0 57.8 390.0 57.0 C397.0 56.2 401.3 56.2 408.0 56.0 C414.7 55.8 423.0 55.8 430.0 55.6 C437.0 55.4 443.3 55.0 450.0 54.8 C456.7 54.6 461.7 54.8 470.0 54.2 C478.3 53.6 490.0 52.3 500.0 51.2 C510.0 50.1 522.5 48.5 530.0 47.4 C537.5 46.3 540.0 45.5 545.0 44.6 C550.0 43.7 555.5 42.9 560.0 42.2 C564.5 41.5 568.0 40.8 572.0 40.2 C576.0 39.6 582.6 38.2 584.0 38.6 C585.4 39.0 582.5 41.8 580.5 42.8 C578.5 43.8 575.4 44.0 572.0 44.6 C568.6 45.2 564.5 45.9 560.0 46.6 C555.5 47.3 550.0 48.2 545.0 48.8 C540.0 49.4 537.5 49.7 530.0 50.4 C522.5 51.1 510.0 52.0 500.0 53.2 C490.0 54.4 479.2 56.2 470.0 57.4 C460.8 58.6 451.7 59.8 445.0 60.4 C438.3 61.0 436.2 60.8 430.0 61.2 C423.8 61.6 413.0 62.3 408.0 63.0 C403.0 63.7 402.2 64.6 400.0 65.5 C397.8 66.4 396.7 67.4 395.0 68.5 C393.3 69.6 391.7 70.9 390.0 72.0 C388.3 73.1 386.7 74.1 385.0 75.0 C383.3 75.9 381.7 76.8 380.0 77.5 C378.3 78.2 377.0 78.8 375.0 79.5 C373.0 80.2 370.2 81.2 368.0 82.0 C365.8 82.8 364.0 84.0 362.0 84.5 C360.0 85.0 358.8 84.8 356.0 84.8 C353.2 84.8 348.5 84.8 345.0 84.8 C341.5 84.8 337.3 85.1 335.0 85.0 C332.7 84.9 331.8 86.1 331.4 84.0Z" fill="none" stroke="#ff0000" stroke-width="1.00" stroke-linejoin="round" stroke-linecap="round" stroke-opacity="0.34"/>
</g>
<clipPath id="cg"><rect x="400" y="0" width="193" height="162"/></clipPath>
<g clip-path="url(#cg)">
<path d="M331.2 65.0 C331.2 64.5 332.1 62.9 333.1 61.8 C334.1 60.7 335.3 59.4 337.0 58.5 C338.7 57.6 340.7 57.1 343.5 56.6 C346.3 56.1 350.0 55.7 353.9 55.3 C357.8 54.9 362.6 54.6 366.9 54.4 C371.2 54.2 374.7 54.1 379.9 53.9 C385.1 53.7 392.1 53.3 397.9 53.0 C403.7 52.7 409.6 52.5 414.9 52.3 C420.2 52.1 420.7 52.0 429.9 51.9 C439.1 51.8 456.6 51.8 469.9 51.8 C483.2 51.8 496.6 52.0 509.9 52.0 C523.2 52.0 538.0 52.0 549.9 52.0 C561.8 52.0 575.7 52.0 581.4 52.1 C587.1 52.2 584.2 52.6 584.2 52.9 C584.2 53.2 587.1 53.6 581.4 53.8 C575.7 54.0 561.8 53.9 549.9 54.0 C538.0 54.1 521.5 54.3 509.9 54.6 C498.3 54.9 487.2 55.4 480.2 56.0 C473.1 56.6 471.8 57.7 467.6 58.3 C463.4 58.9 459.3 59.7 455.1 59.8 C450.9 59.9 446.7 58.9 442.5 58.9 C438.3 58.9 435.8 59.2 429.9 59.5 C424.0 59.8 415.3 60.2 407.0 60.6 C398.7 61.0 386.6 61.3 379.9 61.6 C373.2 61.9 371.2 62.1 366.9 62.4 C362.6 62.7 358.2 63.1 353.9 63.4 C349.6 63.7 344.4 64.1 340.9 64.4 C337.4 64.7 334.5 65.0 332.9 65.1 C331.3 65.2 331.2 65.5 331.2 65.0Z" fill="none" stroke="#c9c9c9" stroke-width="1.30" stroke-linejoin="round" stroke-linecap="round"/>
</g>
<path d="M61.3 226.8 C61.3 226.3 62.2 224.7 63.2 223.6 C64.2 222.6 65.4 221.2 67.1 220.3 C68.8 219.5 70.8 219.0 73.6 218.4 C76.4 217.9 80.1 217.5 84.0 217.1 C87.9 216.8 92.7 216.5 97.0 216.2 C101.3 216.0 104.8 216.0 110.0 215.8 C115.2 215.5 122.2 215.1 128.0 214.8 C133.8 214.6 139.7 214.3 145.0 214.1 C150.3 214.0 150.8 213.8 160.0 213.8 C169.2 213.7 186.7 213.6 200.0 213.6 C213.3 213.7 226.7 213.8 240.0 213.8 C253.3 213.9 268.1 213.8 280.0 213.8 C291.9 213.9 305.8 213.8 311.5 213.9 C317.2 214.1 314.3 214.5 314.3 214.8 C314.3 215.0 317.2 215.5 311.5 215.6 C305.8 215.8 291.9 215.7 280.0 215.8 C268.1 216.0 251.6 216.1 240.0 216.4 C228.4 216.8 217.4 217.2 210.3 217.8 C203.2 218.5 201.9 219.5 197.7 220.1 C193.5 220.8 189.4 221.5 185.2 221.6 C181.0 221.7 176.8 220.8 172.6 220.8 C168.4 220.7 165.9 221.1 160.0 221.3 C154.1 221.6 145.4 222.1 137.1 222.4 C128.8 222.8 116.7 223.1 110.0 223.4 C103.3 223.8 101.3 223.9 97.0 224.2 C92.7 224.6 88.3 224.9 84.0 225.2 C79.7 225.6 74.5 226.0 71.0 226.2 C67.5 226.5 64.6 226.8 63.0 226.9 C61.4 227.0 61.3 227.4 61.3 226.8Z" fill="none" stroke="#c9c9c9" stroke-width="1.50" stroke-linejoin="round" stroke-linecap="round"/>
<path d="M61.5 220.8 C62.6 218.9 64.9 219.3 68.0 218.8 C71.1 218.3 75.5 218.0 80.0 217.6 C84.5 217.2 90.0 216.9 95.0 216.6 C100.0 216.3 109.2 215.6 110.0 215.8 C110.8 216.0 103.7 217.0 100.0 217.6 C96.3 218.2 91.7 218.7 88.0 219.2 C84.3 219.7 81.0 220.2 78.0 220.8 C75.0 221.4 72.2 222.1 70.0 223.0 C67.8 223.9 65.9 225.2 64.5 226.5 C63.1 227.8 62.0 231.4 61.5 230.5 C61.0 229.6 60.4 222.8 61.5 220.8Z" fill="#ff0000" fill-opacity="0.7" stroke="none"/>
<path d="M61.2 220.8 C60.8 220.5 61.5 220.5 62.0 220.2 C62.5 220.0 63.2 219.6 64.3 219.3 C65.4 219.0 66.2 218.8 68.8 218.4 C71.4 218.1 76.1 217.5 79.7 217.2 C83.3 216.8 86.9 216.6 90.5 216.3 C94.1 216.0 96.7 215.8 101.3 215.3 C105.9 214.9 111.5 214.2 118.0 213.6 C124.5 213.0 133.0 212.3 140.0 211.6 C147.0 210.9 155.0 210.1 160.0 209.6 C165.0 209.1 167.6 209.0 170.0 208.8 C172.4 208.6 173.8 207.7 174.6 208.4 C175.4 209.1 175.0 212.4 174.6 213.2 C174.2 214.0 173.4 213.2 172.0 213.3 C170.6 213.4 168.8 213.4 166.0 213.6 C163.2 213.8 159.3 214.0 155.0 214.4 C150.7 214.8 145.0 215.4 140.0 215.9 C135.0 216.4 130.0 216.8 125.0 217.2 C120.0 217.6 115.0 218.1 110.0 218.4 C105.0 218.7 100.0 219.0 95.0 219.2 C90.0 219.4 83.8 219.6 80.0 219.8 C76.2 220.0 74.0 220.2 72.0 220.4 C70.0 220.6 69.2 220.8 68.0 221.0 C66.8 221.2 65.6 221.8 64.5 221.8 C63.4 221.8 61.6 221.1 61.2 220.8Z" fill="none" stroke="#ff0000" stroke-width="1.10" stroke-linejoin="round" stroke-linecap="round" stroke-opacity="0.42"/>
<path d="M61.2 220.9 C60.8 220.6 61.5 220.5 62.0 220.2 C62.5 220.0 63.2 219.6 64.3 219.3 C65.4 219.0 66.2 218.8 68.8 218.4 C71.4 218.1 76.1 217.6 79.7 217.2 C83.3 216.9 86.9 216.7 90.5 216.3 C94.1 216.0 96.7 215.8 101.3 215.3 C105.9 214.9 111.5 214.3 118.0 213.7 C124.5 213.0 133.0 212.3 140.0 211.7 C147.0 211.0 155.0 210.1 160.0 209.7 C165.0 209.2 167.6 209.1 170.0 208.9 C172.4 208.7 173.8 207.8 174.6 208.5 C175.4 209.2 175.0 212.4 174.6 213.2 C174.2 214.0 173.4 213.2 172.0 213.3 C170.6 213.4 168.8 213.4 166.0 213.6 C163.2 213.8 159.3 214.0 155.0 214.4 C150.7 214.8 145.0 215.4 140.0 215.9 C135.0 216.4 130.0 216.8 125.0 217.2 C120.0 217.6 115.0 218.1 110.0 218.4 C105.0 218.8 100.0 219.0 95.0 219.2 C90.0 219.5 83.8 219.6 80.0 219.8 C76.2 220.0 74.0 220.2 72.0 220.4 C70.0 220.6 69.2 220.8 68.0 221.0 C66.8 221.3 65.6 221.9 64.5 221.8 C63.4 221.8 61.6 221.1 61.2 220.9Z" fill="none" stroke="#ff0000" stroke-width="1.10" stroke-linejoin="round" stroke-linecap="round" stroke-opacity="0.42"/>
<path d="M61.2 221.0 C60.8 220.8 61.5 220.6 62.0 220.3 C62.5 220.0 63.2 219.7 64.3 219.4 C65.4 219.0 66.2 218.8 68.8 218.5 C71.4 218.1 76.1 217.6 79.7 217.3 C83.3 216.9 86.9 216.7 90.5 216.4 C94.1 216.1 96.7 215.8 101.3 215.4 C105.9 214.9 111.5 214.3 118.0 213.7 C124.5 213.1 133.0 212.4 140.0 211.7 C147.0 211.1 155.0 210.2 160.0 209.8 C165.0 209.3 167.6 209.2 170.0 209.0 C172.4 208.8 173.8 208.0 174.6 208.7 C175.4 209.4 175.0 212.4 174.6 213.2 C174.2 214.0 173.4 213.3 172.0 213.3 C170.6 213.4 168.8 213.4 166.0 213.6 C163.2 213.8 159.3 214.0 155.0 214.4 C150.7 214.8 145.0 215.5 140.0 215.9 C135.0 216.4 130.0 216.8 125.0 217.2 C120.0 217.7 115.0 218.1 110.0 218.5 C105.0 218.8 100.0 219.1 95.0 219.3 C90.0 219.5 83.8 219.7 80.0 219.9 C76.2 220.1 74.0 220.3 72.0 220.5 C70.0 220.7 69.2 220.9 68.0 221.1 C66.8 221.4 65.6 221.9 64.5 221.9 C63.4 221.9 61.6 221.3 61.2 221.0Z" fill="none" stroke="#ff0000" stroke-width="1.10" stroke-linejoin="round" stroke-linecap="round" stroke-opacity="0.42"/>
<path d="M61.2 221.3 C60.8 221.0 61.5 220.7 62.0 220.4 C62.5 220.1 63.2 219.7 64.3 219.4 C65.4 219.1 66.2 218.8 68.8 218.5 C71.4 218.2 76.1 217.7 79.7 217.3 C83.3 217.0 86.9 216.8 90.5 216.4 C94.1 216.1 96.7 215.9 101.3 215.4 C105.9 215.0 111.5 214.4 118.0 213.8 C124.5 213.2 133.0 212.5 140.0 211.8 C147.0 211.2 155.0 210.3 160.0 209.9 C165.0 209.4 167.6 209.3 170.0 209.1 C172.4 208.9 173.8 208.1 174.6 208.8 C175.4 209.5 175.0 212.5 174.6 213.2 C174.2 214.0 173.4 213.3 172.0 213.3 C170.6 213.4 168.8 213.5 166.0 213.6 C163.2 213.8 159.3 214.1 155.0 214.5 C150.7 214.8 145.0 215.5 140.0 216.0 C135.0 216.4 130.0 216.9 125.0 217.3 C120.0 217.7 115.0 218.2 110.0 218.5 C105.0 218.9 100.0 219.2 95.0 219.4 C90.0 219.7 83.8 219.8 80.0 220.0 C76.2 220.3 74.0 220.5 72.0 220.7 C70.0 220.9 69.2 221.0 68.0 221.3 C66.8 221.5 65.6 222.1 64.5 222.1 C63.4 222.1 61.6 221.5 61.2 221.3Z" fill="none" stroke="#ff0000" stroke-width="1.10" stroke-linejoin="round" stroke-linecap="round" stroke-opacity="0.42"/>
<path d="M61.2 221.6 C60.8 221.3 61.5 220.9 62.0 220.5 C62.5 220.2 63.2 219.7 64.3 219.4 C65.4 219.1 66.2 218.9 68.8 218.5 C71.4 218.2 76.1 217.7 79.7 217.4 C83.3 217.0 86.9 216.8 90.5 216.5 C94.1 216.2 96.7 215.9 101.3 215.5 C105.9 215.0 111.5 214.4 118.0 213.8 C124.5 213.2 133.0 212.5 140.0 211.9 C147.0 211.2 155.0 210.4 160.0 209.9 C165.0 209.5 167.6 209.4 170.0 209.2 C172.4 209.0 173.8 208.2 174.6 208.9 C175.4 209.6 175.0 212.5 174.6 213.3 C174.2 214.0 173.4 213.3 172.0 213.4 C170.6 213.4 168.8 213.5 166.0 213.7 C163.2 213.9 159.3 214.1 155.0 214.5 C150.7 214.9 145.0 215.5 140.0 216.0 C135.0 216.5 130.0 217.0 125.0 217.4 C120.0 217.8 115.0 218.3 110.0 218.7 C105.0 219.0 100.0 219.3 95.0 219.6 C90.0 219.8 83.8 220.0 80.0 220.2 C76.2 220.5 74.0 220.7 72.0 220.9 C70.0 221.1 69.2 221.2 68.0 221.5 C66.8 221.7 65.6 222.3 64.5 222.3 C63.4 222.3 61.6 221.9 61.2 221.6Z" fill="none" stroke="#ff0000" stroke-width="1.10" stroke-linejoin="round" stroke-linecap="round" stroke-opacity="0.42"/>
<path d="M61.2 222.0 C60.8 221.7 61.5 221.1 62.0 220.7 C62.5 220.2 63.2 219.8 64.3 219.4 C65.4 219.1 66.2 218.9 68.8 218.6 C71.4 218.2 76.1 217.7 79.7 217.4 C83.3 217.1 86.9 216.8 90.5 216.5 C94.1 216.2 96.7 216.0 101.3 215.5 C105.9 215.1 111.5 214.5 118.0 213.9 C124.5 213.3 133.0 212.6 140.0 212.0 C147.0 211.3 155.0 210.5 160.0 210.0 C165.0 209.6 167.6 209.5 170.0 209.3 C172.4 209.2 173.8 208.4 174.6 209.0 C175.4 209.7 175.0 212.6 174.6 213.3 C174.2 214.1 173.4 213.4 172.0 213.4 C170.6 213.5 168.8 213.5 166.0 213.7 C163.2 213.9 159.3 214.2 155.0 214.6 C150.7 214.9 145.0 215.6 140.0 216.1 C135.0 216.6 130.0 217.0 125.0 217.5 C120.0 218.0 115.0 218.4 110.0 218.8 C105.0 219.2 100.0 219.5 95.0 219.8 C90.0 220.0 83.8 220.3 80.0 220.5 C76.2 220.7 74.0 220.9 72.0 221.1 C70.0 221.3 69.2 221.5 68.0 221.7 C66.8 222.0 65.6 222.5 64.5 222.5 C63.4 222.6 61.6 222.3 61.2 222.0Z" fill="none" stroke="#ff0000" stroke-width="1.10" stroke-linejoin="round" stroke-linecap="round" stroke-opacity="0.42"/>
<path d="M61.2 222.4 C60.8 222.1 61.5 221.3 62.0 220.9 C62.5 220.4 63.2 219.8 64.3 219.5 C65.4 219.1 66.2 218.9 68.8 218.6 C71.4 218.3 76.1 217.8 79.7 217.5 C83.3 217.1 86.9 216.9 90.5 216.6 C94.1 216.3 96.7 216.0 101.3 215.6 C105.9 215.1 111.5 214.5 118.0 213.9 C124.5 213.3 133.0 212.7 140.0 212.0 C147.0 211.4 155.0 210.5 160.0 210.1 C165.0 209.7 167.6 209.6 170.0 209.4 C172.4 209.3 173.8 208.5 174.6 209.2 C175.4 209.8 175.0 212.7 174.6 213.4 C174.2 214.1 173.4 213.4 172.0 213.5 C170.6 213.5 168.8 213.6 166.0 213.8 C163.2 214.0 159.3 214.2 155.0 214.6 C150.7 215.0 145.0 215.7 140.0 216.2 C135.0 216.7 130.0 217.2 125.0 217.6 C120.0 218.1 115.0 218.6 110.0 219.0 C105.0 219.4 100.0 219.7 95.0 220.0 C90.0 220.3 83.8 220.6 80.0 220.8 C76.2 221.0 74.0 221.2 72.0 221.5 C70.0 221.7 69.2 221.8 68.0 222.1 C66.8 222.3 65.6 222.8 64.5 222.9 C63.4 222.9 61.6 222.8 61.2 222.4Z" fill="none" stroke="#ff0000" stroke-width="1.10" stroke-linejoin="round" stroke-linecap="round" stroke-opacity="0.42"/>
<path d="M61.2 223.0 C60.8 222.6 61.5 221.6 62.0 221.1 C62.5 220.5 63.2 219.9 64.3 219.5 C65.4 219.1 66.2 219.0 68.8 218.6 C71.4 218.3 76.1 217.8 79.7 217.5 C83.3 217.2 86.9 216.9 90.5 216.6 C94.1 216.3 96.7 216.1 101.3 215.6 C105.9 215.2 111.5 214.6 118.0 214.0 C124.5 213.4 133.0 212.7 140.0 212.1 C147.0 211.5 155.0 210.6 160.0 210.2 C165.0 209.8 167.6 209.7 170.0 209.5 C172.4 209.4 173.8 208.6 174.6 209.3 C175.4 209.9 175.0 212.7 174.6 213.4 C174.2 214.2 173.4 213.5 172.0 213.5 C170.6 213.6 168.8 213.6 166.0 213.8 C163.2 214.0 159.3 214.3 155.0 214.7 C150.7 215.1 145.0 215.8 140.0 216.3 C135.0 216.8 130.0 217.3 125.0 217.8 C120.0 218.3 115.0 218.8 110.0 219.2 C105.0 219.6 100.0 220.0 95.0 220.3 C90.0 220.6 83.8 220.9 80.0 221.2 C76.2 221.4 74.0 221.6 72.0 221.8 C70.0 222.1 69.2 222.2 68.0 222.4 C66.8 222.7 65.6 223.2 64.5 223.2 C63.4 223.3 61.6 223.3 61.2 223.0Z" fill="none" stroke="#ff0000" stroke-width="1.10" stroke-linejoin="round" stroke-linecap="round" stroke-opacity="0.42"/>
<path d="M61.2 223.5 C60.8 223.1 61.5 222.0 62.0 221.3 C62.5 220.6 63.2 220.0 64.3 219.5 C65.4 219.1 66.2 219.0 68.8 218.7 C71.4 218.3 76.1 217.9 79.7 217.5 C83.3 217.2 86.9 217.0 90.5 216.7 C94.1 216.4 96.7 216.1 101.3 215.7 C105.9 215.2 111.5 214.6 118.0 214.0 C124.5 213.4 133.0 212.8 140.0 212.2 C147.0 211.6 155.0 210.7 160.0 210.3 C165.0 209.8 167.6 209.8 170.0 209.6 C172.4 209.5 173.8 208.8 174.6 209.4 C175.4 210.1 175.0 212.8 174.6 213.5 C174.2 214.2 173.4 213.5 172.0 213.6 C170.6 213.7 168.8 213.7 166.0 213.9 C163.2 214.1 159.3 214.4 155.0 214.8 C150.7 215.2 145.0 215.8 140.0 216.4 C135.0 216.9 130.0 217.5 125.0 218.0 C120.0 218.5 115.0 219.0 110.0 219.5 C105.0 219.9 100.0 220.3 95.0 220.7 C90.0 221.0 83.8 221.3 80.0 221.6 C76.2 221.8 74.0 222.1 72.0 222.3 C70.0 222.5 69.2 222.6 68.0 222.9 C66.8 223.1 65.6 223.6 64.5 223.7 C63.4 223.8 61.6 223.9 61.2 223.5Z" fill="none" stroke="#ff0000" stroke-width="1.10" stroke-linejoin="round" stroke-linecap="round" stroke-opacity="0.42"/>
<path d="M61.2 224.2 C60.8 223.7 61.5 222.3 62.0 221.6 C62.5 220.8 63.2 220.0 64.3 219.5 C65.4 219.1 66.2 219.0 68.8 218.7 C71.4 218.4 76.1 217.9 79.7 217.6 C83.3 217.3 86.9 217.0 90.5 216.7 C94.1 216.4 96.7 216.2 101.3 215.7 C105.9 215.3 111.5 214.7 118.0 214.1 C124.5 213.5 133.0 212.9 140.0 212.3 C147.0 211.6 155.0 210.8 160.0 210.4 C165.0 209.9 167.6 209.9 170.0 209.7 C172.4 209.6 173.8 208.9 174.6 209.5 C175.4 210.2 175.0 212.9 174.6 213.6 C174.2 214.3 173.4 213.6 172.0 213.7 C170.6 213.7 168.8 213.8 166.0 214.0 C163.2 214.2 159.3 214.5 155.0 214.9 C150.7 215.3 145.0 216.0 140.0 216.5 C135.0 217.1 130.0 217.6 125.0 218.2 C120.0 218.7 115.0 219.3 110.0 219.7 C105.0 220.2 100.0 220.7 95.0 221.0 C90.0 221.4 83.8 221.8 80.0 222.0 C76.2 222.3 74.0 222.6 72.0 222.8 C70.0 223.0 69.2 223.1 68.0 223.4 C66.8 223.6 65.6 224.0 64.5 224.2 C63.4 224.3 61.6 224.6 61.2 224.2Z" fill="none" stroke="#ff0000" stroke-width="1.10" stroke-linejoin="round" stroke-linecap="round" stroke-opacity="0.42"/>
<path d="M61.2 224.9 C60.8 224.4 61.5 222.7 62.0 221.8 C62.5 220.9 63.2 220.1 64.3 219.6 C65.4 219.0 66.2 219.0 68.8 218.7 C71.4 218.4 76.1 217.9 79.7 217.6 C83.3 217.3 86.9 217.1 90.5 216.8 C94.1 216.5 96.7 216.2 101.3 215.8 C105.9 215.3 111.5 214.7 118.0 214.1 C124.5 213.6 133.0 213.0 140.0 212.3 C147.0 211.7 155.0 210.9 160.0 210.4 C165.0 210.0 167.6 210.0 170.0 209.9 C172.4 209.7 173.8 209.0 174.6 209.7 C175.4 210.3 175.0 213.0 174.6 213.7 C174.2 214.4 173.4 213.7 172.0 213.8 C170.6 213.8 168.8 213.9 166.0 214.1 C163.2 214.3 159.3 214.6 155.0 215.0 C150.7 215.4 145.0 216.1 140.0 216.6 C135.0 217.2 130.0 217.8 125.0 218.4 C120.0 219.0 115.0 219.6 110.0 220.1 C105.0 220.6 100.0 221.1 95.0 221.5 C90.0 221.9 83.8 222.3 80.0 222.6 C76.2 222.9 74.0 223.1 72.0 223.3 C70.0 223.6 69.2 223.7 68.0 223.9 C66.8 224.2 65.6 224.6 64.5 224.7 C63.4 224.9 61.6 225.4 61.2 224.9Z" fill="none" stroke="#ff0000" stroke-width="1.10" stroke-linejoin="round" stroke-linecap="round" stroke-opacity="0.42"/>
<path d="M61.2 225.7 C60.8 225.1 61.5 223.2 62.0 222.1 C62.5 221.1 63.2 220.2 64.3 219.6 C65.4 219.0 66.2 219.1 68.8 218.7 C71.4 218.4 76.1 218.0 79.7 217.7 C83.3 217.3 86.9 217.1 90.5 216.8 C94.1 216.5 96.7 216.3 101.3 215.8 C105.9 215.4 111.5 214.7 118.0 214.2 C124.5 213.6 133.0 213.0 140.0 212.4 C147.0 211.8 155.0 210.9 160.0 210.5 C165.0 210.1 167.6 210.1 170.0 210.0 C172.4 209.8 173.8 209.1 174.6 209.8 C175.4 210.4 175.0 213.1 174.6 213.8 C174.2 214.5 173.4 213.8 172.0 213.9 C170.6 213.9 168.8 214.0 166.0 214.2 C163.2 214.4 159.3 214.7 155.0 215.1 C150.7 215.6 145.0 216.2 140.0 216.8 C135.0 217.4 130.0 218.1 125.0 218.7 C120.0 219.3 115.0 219.9 110.0 220.4 C105.0 221.0 100.0 221.5 95.0 221.9 C90.0 222.4 83.8 222.8 80.0 223.2 C76.2 223.5 74.0 223.7 72.0 224.0 C70.0 224.2 69.2 224.3 68.0 224.6 C66.8 224.8 65.6 225.2 64.5 225.4 C63.4 225.5 61.6 226.2 61.2 225.7Z" fill="none" stroke="#ff0000" stroke-width="1.10" stroke-linejoin="round" stroke-linecap="round" stroke-opacity="0.42"/>
<path d="M61.2 226.5 C60.8 225.9 61.5 223.6 62.0 222.5 C62.5 221.3 63.2 220.2 64.3 219.6 C65.4 219.0 66.2 219.1 68.8 218.8 C71.4 218.5 76.1 218.0 79.7 217.7 C83.3 217.4 86.9 217.2 90.5 216.9 C94.1 216.6 96.7 216.3 101.3 215.9 C105.9 215.4 111.5 214.8 118.0 214.2 C124.5 213.7 133.0 213.1 140.0 212.5 C147.0 211.9 155.0 211.0 160.0 210.6 C165.0 210.2 167.6 210.2 170.0 210.1 C172.4 209.9 173.8 209.3 174.6 209.9 C175.4 210.6 175.0 213.2 174.6 213.9 C174.2 214.6 173.4 213.9 172.0 214.0 C170.6 214.0 168.8 214.1 166.0 214.3 C163.2 214.5 159.3 214.8 155.0 215.3 C150.7 215.7 145.0 216.4 140.0 217.0 C135.0 217.6 130.0 218.3 125.0 219.0 C120.0 219.6 115.0 220.2 110.0 220.8 C105.0 221.4 100.0 222.0 95.0 222.5 C90.0 223.0 83.8 223.4 80.0 223.8 C76.2 224.1 74.0 224.4 72.0 224.6 C70.0 224.9 69.2 225.0 68.0 225.2 C66.8 225.5 65.6 225.8 64.5 226.0 C63.4 226.2 61.6 227.1 61.2 226.5Z" fill="none" stroke="#ff0000" stroke-width="1.10" stroke-linejoin="round" stroke-linecap="round" stroke-opacity="0.42"/>
<path d="M61.2 227.4 C60.8 226.7 61.5 224.1 62.0 222.8 C62.5 221.5 63.2 220.3 64.3 219.6 C65.4 219.0 66.2 219.1 68.8 218.8 C71.4 218.5 76.1 218.1 79.7 217.7 C83.3 217.4 86.9 217.2 90.5 216.9 C94.1 216.6 96.7 216.4 101.3 215.9 C105.9 215.5 111.5 214.8 118.0 214.3 C124.5 213.7 133.0 213.2 140.0 212.6 C147.0 212.0 155.0 211.1 160.0 210.7 C165.0 210.3 167.6 210.3 170.0 210.2 C172.4 210.1 173.8 209.4 174.6 210.0 C175.4 210.7 175.0 213.4 174.6 214.0 C174.2 214.7 173.4 214.0 172.0 214.1 C170.6 214.2 168.8 214.2 166.0 214.4 C163.2 214.7 159.3 215.0 155.0 215.4 C150.7 215.9 145.0 216.5 140.0 217.2 C135.0 217.8 130.0 218.6 125.0 219.3 C120.0 219.9 115.0 220.6 110.0 221.2 C105.0 221.8 100.0 222.5 95.0 223.0 C90.0 223.6 83.8 224.1 80.0 224.5 C76.2 224.9 74.0 225.1 72.0 225.4 C70.0 225.6 69.2 225.7 68.0 226.0 C66.8 226.2 65.6 226.5 64.5 226.8 C63.4 227.0 61.6 228.0 61.2 227.4Z" fill="none" stroke="#ff0000" stroke-width="1.10" stroke-linejoin="round" stroke-linecap="round" stroke-opacity="0.42"/>
<path d="M61.2 228.3 C60.8 227.6 61.5 224.6 62.0 223.2 C62.5 221.8 63.2 220.4 64.3 219.7 C65.4 218.9 66.2 219.2 68.8 218.8 C71.4 218.5 76.1 218.1 79.7 217.8 C83.3 217.5 86.9 217.3 90.5 217.0 C94.1 216.7 96.7 216.4 101.3 216.0 C105.9 215.5 111.5 214.9 118.0 214.3 C124.5 213.8 133.0 213.2 140.0 212.6 C147.0 212.0 155.0 211.2 160.0 210.8 C165.0 210.4 167.6 210.4 170.0 210.3 C172.4 210.2 173.8 209.5 174.6 210.2 C175.4 210.8 175.0 213.5 174.6 214.2 C174.2 214.9 173.4 214.2 172.0 214.2 C170.6 214.3 168.8 214.3 166.0 214.6 C163.2 214.8 159.3 215.1 155.0 215.6 C150.7 216.1 145.0 216.7 140.0 217.4 C135.0 218.0 130.0 218.9 125.0 219.6 C120.0 220.3 115.0 221.0 110.0 221.7 C105.0 222.3 100.0 223.1 95.0 223.7 C90.0 224.2 83.8 224.8 80.0 225.2 C76.2 225.6 74.0 225.9 72.0 226.2 C70.0 226.4 69.2 226.5 68.0 226.8 C66.8 227.0 65.6 227.3 64.5 227.6 C63.4 227.8 61.6 229.0 61.2 228.3Z" fill="none" stroke="#ff0000" stroke-width="1.10" stroke-linejoin="round" stroke-linecap="round" stroke-opacity="0.42"/>
<path d="M61.2 229.3 C60.8 228.5 61.5 225.2 62.0 223.6 C62.5 222.0 63.2 220.5 64.3 219.7 C65.4 218.9 66.2 219.2 68.8 218.9 C71.4 218.6 76.1 218.1 79.7 217.8 C83.3 217.5 86.9 217.3 90.5 217.0 C94.1 216.7 96.7 216.4 101.3 216.0 C105.9 215.6 111.5 214.9 118.0 214.4 C124.5 213.8 133.0 213.3 140.0 212.7 C147.0 212.1 155.0 211.3 160.0 210.9 C165.0 210.5 167.6 210.5 170.0 210.4 C172.4 210.3 173.8 209.6 174.6 210.3 C175.4 211.0 175.0 213.6 174.6 214.3 C174.2 215.0 173.4 214.3 172.0 214.4 C170.6 214.4 168.8 214.5 166.0 214.7 C163.2 215.0 159.3 215.3 155.0 215.8 C150.7 216.2 145.0 216.9 140.0 217.6 C135.0 218.3 130.0 219.2 125.0 219.9 C120.0 220.7 115.0 221.4 110.0 222.1 C105.0 222.9 100.0 223.7 95.0 224.3 C90.0 225.0 83.8 225.6 80.0 226.0 C76.2 226.5 74.0 226.7 72.0 227.0 C70.0 227.3 69.2 227.4 68.0 227.6 C66.8 227.8 65.6 228.1 64.5 228.4 C63.4 228.7 61.6 230.1 61.2 229.3Z" fill="none" stroke="#ff0000" stroke-width="1.10" stroke-linejoin="round" stroke-linecap="round" stroke-opacity="0.42"/>
<path d="M61.2 230.3 C60.8 229.5 61.5 225.8 62.0 224.0 C62.5 222.2 63.2 220.6 64.3 219.7 C65.4 218.9 66.2 219.2 68.8 218.9 C71.4 218.6 76.1 218.2 79.7 217.9 C83.3 217.6 86.9 217.4 90.5 217.1 C94.1 216.8 96.7 216.5 101.3 216.1 C105.9 215.6 111.5 215.0 118.0 214.4 C124.5 213.9 133.0 213.4 140.0 212.8 C147.0 212.2 155.0 211.3 160.0 210.9 C165.0 210.6 167.6 210.6 170.0 210.5 C172.4 210.4 173.8 209.8 174.6 210.4 C175.4 211.1 175.0 213.8 174.6 214.5 C174.2 215.2 173.4 214.4 172.0 214.5 C170.6 214.6 168.8 214.6 166.0 214.9 C163.2 215.1 159.3 215.5 155.0 216.0 C150.7 216.4 145.0 217.1 140.0 217.8 C135.0 218.5 130.0 219.5 125.0 220.3 C120.0 221.1 115.0 221.9 110.0 222.7 C105.0 223.4 100.0 224.3 95.0 225.0 C90.0 225.7 83.8 226.4 80.0 226.9 C76.2 227.4 74.0 227.6 72.0 227.9 C70.0 228.2 69.2 228.3 68.0 228.5 C66.8 228.8 65.6 229.0 64.5 229.3 C63.4 229.6 61.6 231.2 61.2 230.3Z" fill="none" stroke="#ff0000" stroke-width="1.10" stroke-linejoin="round" stroke-linecap="round" stroke-opacity="0.42"/>
<path d="M61.2 231.4 C60.8 230.5 61.5 226.4 62.0 224.5 C62.5 222.5 63.2 220.7 64.3 219.7 C65.4 218.8 66.2 219.2 68.8 218.9 C71.4 218.6 76.1 218.2 79.7 217.9 C83.3 217.6 86.9 217.4 90.5 217.1 C94.1 216.8 96.7 216.5 101.3 216.1 C105.9 215.7 111.5 215.0 118.0 214.5 C124.5 214.0 133.0 213.4 140.0 212.9 C147.0 212.3 155.0 211.4 160.0 211.0 C165.0 210.7 167.6 210.7 170.0 210.6 C172.4 210.5 173.8 209.9 174.6 210.5 C175.4 211.2 175.0 214.0 174.6 214.6 C174.2 215.3 173.4 214.6 172.0 214.7 C170.6 214.7 168.8 214.8 166.0 215.0 C163.2 215.3 159.3 215.7 155.0 216.2 C150.7 216.7 145.0 217.3 140.0 218.1 C135.0 218.8 130.0 219.9 125.0 220.7 C120.0 221.6 115.0 222.4 110.0 223.2 C105.0 224.0 100.0 225.0 95.0 225.8 C90.0 226.5 83.8 227.3 80.0 227.8 C76.2 228.3 74.0 228.6 72.0 228.9 C70.0 229.2 69.2 229.3 68.0 229.5 C66.8 229.7 65.6 230.0 64.5 230.3 C63.4 230.6 61.6 232.4 61.2 231.4Z" fill="none" stroke="#ff0000" stroke-width="1.10" stroke-linejoin="round" stroke-linecap="round" stroke-opacity="0.42"/>
<path d="M61.2 232.6 C60.8 231.5 61.5 227.1 62.0 224.9 C62.5 222.8 63.2 220.8 64.3 219.8 C65.4 218.8 66.2 219.3 68.8 219.0 C71.4 218.7 76.1 218.3 79.7 218.0 C83.3 217.7 86.9 217.5 90.5 217.2 C94.1 216.9 96.7 216.6 101.3 216.2 C105.9 215.7 111.5 215.1 118.0 214.5 C124.5 214.0 133.0 213.5 140.0 212.9 C147.0 212.4 155.0 211.5 160.0 211.1 C165.0 210.7 167.6 210.8 170.0 210.7 C172.4 210.6 173.8 210.0 174.6 210.7 C175.4 211.4 175.0 214.1 174.6 214.8 C174.2 215.5 173.4 214.8 172.0 214.8 C170.6 214.9 168.8 215.0 166.0 215.2 C163.2 215.5 159.3 215.9 155.0 216.4 C150.7 216.9 145.0 217.5 140.0 218.3 C135.0 219.1 130.0 220.2 125.0 221.1 C120.0 222.1 115.0 222.9 110.0 223.8 C105.0 224.7 100.0 225.7 95.0 226.6 C90.0 227.4 83.8 228.2 80.0 228.8 C76.2 229.3 74.0 229.6 72.0 229.9 C70.0 230.2 69.2 230.3 68.0 230.5 C66.8 230.7 65.6 231.0 64.5 231.3 C63.4 231.7 61.6 233.7 61.2 232.6Z" fill="none" stroke="#ff0000" stroke-width="1.10" stroke-linejoin="round" stroke-linecap="round" stroke-opacity="0.42"/>
<path d="M61.2 233.8 C60.8 232.6 61.5 227.7 62.0 225.4 C62.5 223.1 63.2 220.9 64.3 219.8 C65.4 218.7 66.2 219.3 68.8 219.0 C71.4 218.7 76.1 218.3 79.7 218.0 C83.3 217.7 86.9 217.5 90.5 217.2 C94.1 216.9 96.7 216.6 101.3 216.2 C105.9 215.8 111.5 215.1 118.0 214.6 C124.5 214.1 133.0 213.6 140.0 213.0 C147.0 212.4 155.0 211.6 160.0 211.2 C165.0 210.8 167.6 210.9 170.0 210.8 C172.4 210.7 173.8 210.1 174.6 210.8 C175.4 211.5 175.0 214.3 174.6 215.0 C174.2 215.7 173.4 214.9 172.0 215.0 C170.6 215.1 168.8 215.1 166.0 215.4 C163.2 215.7 159.3 216.1 155.0 216.6 C150.7 217.1 145.0 217.8 140.0 218.6 C135.0 219.4 130.0 220.6 125.0 221.6 C120.0 222.6 115.0 223.4 110.0 224.4 C105.0 225.4 100.0 226.5 95.0 227.4 C90.0 228.3 83.8 229.2 80.0 229.8 C76.2 230.4 74.0 230.7 72.0 231.0 C70.0 231.3 69.2 231.4 68.0 231.6 C66.8 231.8 65.6 232.0 64.5 232.4 C63.4 232.8 61.6 235.0 61.2 233.8Z" fill="none" stroke="#ff0000" stroke-width="1.10" stroke-linejoin="round" stroke-linecap="round" stroke-opacity="0.42"/>
<path d="M61.0 234.2 C60.9 233.8 62.2 231.7 63.2 230.5 C64.2 229.3 65.6 228.0 66.8 227.1 C68.0 226.2 68.9 225.7 70.5 225.0 C72.1 224.3 73.7 223.7 76.3 223.1 C78.9 222.5 82.6 221.8 86.0 221.2 C89.4 220.6 91.7 220.4 96.7 219.7 C101.7 219.0 109.5 217.8 116.0 216.8 C122.5 215.8 130.7 214.5 136.0 213.6 C141.3 212.7 144.7 212.1 148.0 211.4 C151.3 210.7 153.7 209.9 156.0 209.6 C158.3 209.3 160.2 209.3 162.0 209.4 C163.8 209.5 165.5 210.4 167.0 210.4 C168.5 210.4 169.7 209.9 171.0 209.6 C172.3 209.3 174.0 208.0 174.6 208.6 C175.2 209.2 175.8 212.3 174.7 213.2 C173.6 214.1 170.8 213.9 168.0 214.2 C165.2 214.5 161.7 214.4 158.0 214.8 C154.3 215.2 149.7 215.7 146.0 216.4 C142.3 217.1 139.8 218.0 136.0 219.0 C132.2 220.0 127.3 221.3 123.0 222.3 C118.7 223.3 114.7 224.2 110.2 225.1 C105.7 226.0 100.5 227.1 96.0 228.0 C91.5 228.9 87.4 229.8 83.1 230.5 C78.8 231.2 73.2 231.8 70.0 232.2 C66.8 232.6 65.5 232.9 64.0 233.2 C62.5 233.5 61.1 234.6 61.0 234.2Z" fill="none" stroke="#850000" stroke-width="1.30" stroke-linejoin="round" stroke-linecap="round"/>
<path d="M61.2 238.6 C60.5 238.2 61.8 236.6 62.3 235.5 C62.8 234.4 63.1 233.2 64.1 232.3 C65.0 231.4 66.0 230.7 68.0 229.8 C70.0 228.9 73.3 227.9 76.3 227.1 C79.3 226.3 82.6 225.8 86.0 225.2 C89.4 224.6 91.5 224.5 96.7 223.7 C101.9 222.9 110.5 221.5 117.0 220.3 C123.5 219.1 131.2 217.5 136.0 216.3 C140.8 215.2 143.0 214.3 146.0 213.4 C149.0 212.5 151.7 211.4 154.0 210.8 C156.3 210.2 158.0 209.8 160.0 209.8 C162.0 209.8 164.2 210.5 166.0 210.6 C167.8 210.7 169.6 210.3 171.0 210.2 C172.4 210.1 174.0 209.1 174.6 209.8 C175.2 210.5 175.5 213.6 174.7 214.5 C173.9 215.4 172.4 214.8 170.0 215.0 C167.6 215.2 163.3 215.1 160.0 215.4 C156.7 215.7 153.1 216.0 150.0 216.8 C146.9 217.6 144.3 219.1 141.6 220.4 C138.9 221.7 136.6 223.2 134.0 224.6 C131.4 226.0 128.8 227.6 126.0 229.0 C123.2 230.4 120.3 232.1 117.0 233.2 C113.7 234.3 109.4 234.9 106.0 235.5 C102.6 236.1 99.7 236.3 96.7 236.6 C93.7 236.8 90.8 236.9 88.0 237.0 C85.2 237.1 83.2 237.1 79.7 237.2 C76.2 237.3 69.8 237.5 66.7 237.7 C63.6 237.9 61.9 239.0 61.2 238.6Z" fill="none" stroke="#850000" stroke-width="1.30" stroke-linejoin="round" stroke-linecap="round"/>
<path d="M61.3 286.3 C60.8 285.4 61.9 283.6 62.5 281.8 C63.1 280.1 63.8 277.8 64.7 275.8 C65.6 273.8 66.6 271.9 67.7 269.9 C68.8 267.9 70.0 265.9 71.4 263.9 C72.8 261.9 74.4 259.8 75.9 257.9 C77.4 256.0 78.9 254.4 80.4 252.7 C81.9 251.0 83.5 249.3 84.9 247.5 C86.3 245.7 87.7 243.4 89.0 241.6 C90.3 239.8 91.6 238.1 93.0 236.7 C94.4 235.3 95.8 234.3 97.2 233.2 C98.6 232.1 99.8 231.3 101.3 230.3 C102.8 229.3 104.0 228.4 106.4 227.2 C108.8 226.0 112.0 224.4 115.6 223.1 C119.2 221.8 123.9 220.4 128.0 219.2 C132.1 217.9 136.7 216.6 140.0 215.6 C143.3 214.6 145.7 213.8 148.0 213.0 C150.3 212.2 152.2 211.2 154.0 210.5 C155.8 209.8 157.3 209.0 159.0 208.8 C160.7 208.6 162.5 208.9 164.0 209.2 C165.5 209.5 166.7 210.5 168.0 210.6 C169.3 210.7 170.9 209.9 172.0 209.6 C173.1 209.3 174.2 208.3 174.6 209.0 C175.0 209.7 175.1 212.5 174.7 213.5 C174.3 214.5 173.6 214.6 172.0 214.8 C170.4 215.0 167.8 214.7 165.0 214.8 C162.2 214.9 157.8 215.2 155.0 215.6 C152.2 216.0 149.9 216.8 148.0 217.4 C146.1 218.1 145.2 218.2 143.5 219.5 C141.8 220.8 139.7 223.1 137.8 225.2 C135.9 227.2 134.0 229.3 132.1 231.8 C130.2 234.3 128.3 237.2 126.4 240.3 C124.5 243.5 122.6 247.2 120.7 250.7 C118.8 254.2 116.9 257.8 115.0 261.1 C113.1 264.4 110.9 268.0 109.4 270.6 C107.9 273.2 107.2 274.5 105.8 276.6 C104.4 278.7 103.0 281.5 101.3 283.3 C99.5 285.1 97.5 286.4 95.3 287.5 C93.1 288.6 90.4 289.1 87.9 289.6 C85.4 290.1 82.9 290.4 80.4 290.3 C77.9 290.2 75.4 289.8 72.9 289.3 C70.4 288.8 67.4 288.0 65.5 287.5 C63.6 287.0 61.8 287.2 61.3 286.3Z" fill="none" stroke="#850000" stroke-width="1.30" stroke-linejoin="round" stroke-linecap="round"/>
<path d="M331.2 210.6 C331.2 210.2 332.1 209.1 333.1 208.2 C334.1 207.4 335.3 206.4 337.0 205.8 C338.7 205.1 340.7 204.7 343.5 204.3 C346.3 203.9 350.0 203.6 353.9 203.4 C357.8 203.1 362.6 202.9 366.9 202.7 C371.2 202.5 374.7 202.5 379.9 202.3 C385.1 202.2 392.1 201.9 397.9 201.7 C403.7 201.5 409.6 201.3 414.9 201.1 C420.2 201.0 420.7 200.9 429.9 200.8 C439.1 200.8 456.6 200.7 469.9 200.8 C483.2 200.8 496.6 200.9 509.9 200.9 C523.2 200.9 538.0 200.9 549.9 200.9 C561.8 200.9 575.7 200.9 581.4 201.0 C587.1 201.1 584.2 201.4 584.2 201.6 C584.2 201.8 587.1 202.1 581.4 202.3 C575.7 202.4 561.8 202.3 549.9 202.4 C538.0 202.5 521.5 202.6 509.9 202.8 C498.3 203.1 487.2 203.4 480.2 203.9 C473.1 204.4 471.8 205.1 467.6 205.6 C463.4 206.1 459.3 206.7 455.1 206.7 C450.9 206.8 446.7 206.1 442.5 206.1 C438.3 206.0 435.8 206.3 429.9 206.5 C424.0 206.7 415.3 207.1 407.0 207.3 C398.7 207.6 386.6 207.9 379.9 208.1 C373.2 208.3 371.2 208.5 366.9 208.7 C362.6 208.9 358.2 209.2 353.9 209.4 C349.6 209.7 344.4 210.0 340.9 210.2 C337.4 210.4 334.5 210.6 332.9 210.7 C331.3 210.8 331.2 211.1 331.2 210.6Z" fill="none" stroke="#c9c9c9" stroke-width="1.50" stroke-linejoin="round" stroke-linecap="round"/>
<path d="M331.1 264.3 C329.7 263.5 331.6 262.4 332.5 260.8 C333.4 259.2 334.8 257.4 336.5 255.0 C338.2 252.6 340.5 249.5 343.0 246.4 C345.5 243.3 348.4 239.8 351.7 236.6 C354.9 233.3 358.9 229.8 362.5 226.9 C366.1 224.0 369.8 221.7 373.4 219.3 C377.0 217.0 380.6 214.8 384.2 212.8 C387.8 210.8 391.5 208.9 395.0 207.3 C398.5 205.7 401.9 204.6 405.0 203.4 C408.1 202.2 411.2 201.1 413.5 200.2 C415.8 199.3 417.5 198.8 419.0 198.2 C420.5 197.6 421.3 197.2 422.7 196.8 C424.1 196.5 425.8 196.1 427.3 196.1 C428.8 196.1 430.4 196.6 431.9 197.0 C433.4 197.4 434.1 198.3 436.5 198.8 C438.9 199.3 442.4 199.9 446.0 200.0 C449.6 200.1 454.0 199.8 458.0 199.4 C462.0 199.1 464.7 198.7 470.0 197.9 C475.3 197.1 483.1 195.7 489.7 194.6 C496.2 193.5 502.8 192.4 509.3 191.2 C515.9 190.0 522.5 188.8 529.0 187.6 C535.5 186.4 543.3 185.1 548.6 184.0 C553.9 182.9 557.4 182.2 561.0 181.2 C564.6 180.2 567.2 179.0 570.0 178.0 C572.8 177.0 575.2 176.2 577.5 175.2 C579.8 174.2 583.4 172.2 584.0 172.2 C584.6 172.2 582.0 174.1 581.0 175.0 C580.0 175.9 579.6 175.9 578.1 177.7 C576.6 179.5 574.5 183.3 572.2 185.6 C569.9 187.9 567.2 189.8 564.3 191.5 C561.3 193.2 558.8 194.6 554.5 195.8 C550.2 197.1 544.7 198.2 538.8 199.0 C532.9 199.8 525.6 200.5 519.1 200.9 C512.6 201.3 507.7 201.2 499.5 201.5 C491.3 201.8 478.9 202.3 470.0 202.8 C461.1 203.3 451.6 204.2 446.0 204.6 C440.4 205.0 439.6 205.0 436.5 205.3 C433.4 205.6 430.4 205.8 427.3 206.2 C424.2 206.6 421.0 207.1 418.1 207.8 C415.2 208.5 412.8 209.4 410.0 210.6 C407.2 211.8 404.0 212.9 401.5 214.9 C399.0 216.9 397.2 219.6 395.0 222.5 C392.8 225.4 390.7 228.9 388.5 232.3 C386.3 235.7 384.2 239.7 382.0 243.1 C379.8 246.5 377.7 250.2 375.5 252.9 C373.3 255.6 371.2 257.6 369.0 259.4 C366.8 261.2 365.4 262.6 362.5 263.7 C359.6 264.8 355.3 265.6 351.7 265.9 C348.1 266.2 344.2 265.7 340.8 265.4 C337.4 265.1 332.5 265.1 331.1 264.3Z" fill="none" stroke="#850000" stroke-width="1.50" stroke-linejoin="round" stroke-linecap="round"/>
<path d="M397.8 310.3 C397.7 309.2 398.4 307.4 399.0 305.0 C399.6 302.6 400.2 300.2 401.7 296.2 C403.2 292.2 405.7 286.1 408.0 281.0 C410.3 275.9 413.4 270.8 415.7 265.7 C418.0 260.6 420.3 255.1 422.0 250.4 C423.7 245.7 424.8 241.1 425.9 237.6 C427.0 234.1 427.5 232.7 428.6 229.5 C429.7 226.3 431.0 222.9 432.7 218.7 C434.4 214.4 437.0 208.5 438.8 204.0 C440.6 199.5 442.4 195.2 443.7 191.8 C445.0 188.4 445.9 185.8 446.8 183.5 C447.7 181.2 448.4 179.4 449.3 178.0 C450.2 176.6 451.3 175.8 452.2 175.3 C453.1 174.8 453.6 174.7 454.6 174.8 C455.6 174.9 456.9 175.1 458.3 176.1 C459.7 177.1 461.6 179.2 463.2 180.6 C464.8 182.0 466.1 183.1 468.0 184.7 C469.9 186.3 472.4 188.6 474.7 190.1 C476.9 191.6 478.8 192.6 481.5 193.5 C484.2 194.4 487.8 194.8 491.0 195.5 C494.2 196.2 497.3 196.9 500.5 197.5 C503.7 198.1 505.1 198.7 510.0 199.2 C514.9 199.7 523.3 200.2 530.0 200.4 C536.7 200.6 545.5 200.7 550.0 200.4 C554.5 200.1 554.7 199.5 557.0 198.8 C559.3 198.1 561.8 196.8 564.0 196.0 C566.2 195.2 569.9 194.0 570.2 194.2 C570.5 194.4 567.9 196.2 566.0 197.2 C564.1 198.2 562.5 199.5 559.0 200.2 C555.5 200.9 550.7 201.0 545.0 201.2 C539.3 201.4 531.7 201.2 525.0 201.2 C518.3 201.1 511.8 200.8 505.0 200.9 C498.2 201.0 491.1 201.2 484.2 201.8 C477.3 202.4 469.5 203.4 463.9 204.3 C458.2 205.2 453.7 206.1 450.3 207.0 C446.9 207.9 445.4 208.5 443.6 209.8 C441.8 211.1 440.7 212.3 439.3 215.0 C437.9 217.7 436.5 222.3 435.3 226.0 C434.1 229.7 432.9 234.0 432.0 237.0 C431.1 240.0 430.7 240.1 429.7 244.0 C428.7 247.9 427.4 254.4 425.9 260.6 C424.4 266.8 422.5 274.2 420.8 281.0 C419.1 287.8 416.9 296.4 415.7 301.3 C414.5 306.2 414.0 308.0 413.4 310.5 C412.8 313.0 412.5 315.2 411.8 316.4 C411.1 317.6 410.6 318.2 409.3 317.8 C408.0 317.4 405.8 315.2 404.2 314.2 C402.6 313.2 400.6 312.2 399.5 311.6 C398.4 311.0 397.9 311.4 397.8 310.3Z" fill="none" stroke="#6a6a6a" stroke-width="1.40" stroke-linejoin="round" stroke-linecap="round"/>
<path d="M397.5 242.3 C397.4 241.5 398.8 240.1 400.0 238.6 C401.2 237.1 402.2 235.4 404.6 233.3 C407.0 231.2 411.1 228.7 414.4 226.0 C417.6 223.3 421.2 220.7 424.1 217.4 C427.0 214.2 429.5 209.9 431.5 206.5 C433.5 203.1 434.7 199.8 436.3 197.0 C437.9 194.2 439.6 191.6 441.2 189.6 C442.8 187.6 444.6 186.0 446.1 185.0 C447.6 184.0 449.0 183.6 450.3 183.7 C451.6 183.8 452.6 184.7 453.7 185.6 C454.8 186.5 455.6 188.0 457.1 189.2 C458.6 190.4 460.2 191.8 462.5 192.8 C464.8 193.9 467.1 194.6 470.7 195.5 C474.3 196.4 479.7 197.4 484.2 198.2 C488.7 198.9 493.5 199.6 497.8 200.0 C502.1 200.4 504.8 200.6 510.0 200.8 C515.2 201.0 522.6 200.9 529.0 201.0 C535.4 201.1 542.6 201.2 548.6 201.4 C554.6 201.6 561.1 201.9 565.0 202.1 C568.9 202.3 571.8 202.5 571.8 202.7 C571.8 202.9 568.9 203.2 565.0 203.2 C561.1 203.2 554.6 203.0 548.6 202.9 C542.6 202.8 535.5 202.7 529.0 202.6 C522.5 202.5 515.9 202.3 509.3 202.5 C502.8 202.7 496.2 203.4 489.7 204.0 C483.1 204.6 474.3 205.8 470.0 206.2 C465.7 206.6 467.2 206.3 463.9 206.6 C460.6 206.9 453.9 207.6 450.3 208.1 C446.7 208.6 444.4 209.0 442.2 209.8 C439.9 210.6 438.6 211.5 436.8 212.8 C435.0 214.1 433.2 215.6 431.5 217.8 C429.8 220.0 428.1 223.2 426.6 226.0 C425.1 228.8 423.7 232.1 422.5 234.5 C421.3 236.9 420.5 238.7 419.5 240.5 C418.5 242.3 417.5 244.3 416.5 245.5 C415.5 246.7 414.6 247.2 413.5 247.5 C412.4 247.8 411.3 247.7 410.0 247.4 C408.7 247.1 407.1 246.3 405.5 245.6 C403.9 244.9 401.8 243.9 400.5 243.4 C399.2 242.9 397.6 243.1 397.5 242.3Z" fill="none" stroke="#000" stroke-width="1.60" stroke-linejoin="round" stroke-linecap="round"/>
<g font-family="Liberation Sans, sans-serif" fill="#111" stroke="#111" stroke-width="0.28" font-size="10.4">
<text x="73.2" y="27.3">(a)</text>
<text x="343.3" y="27.3">(b)</text>
<text x="73.0" y="184.2">(c)</text>
<text x="343.0" y="185.2">(d)</text>
</g>
<line x1="82.8" y1="45" x2="102" y2="45" stroke="#222" stroke-width="1.5"/>
<path d="M101 40.8 L110.4 45 L101 49.2 Z" fill="#000"/>
<g font-family="Liberation Sans, sans-serif" font-weight="bold" fill="#ff0000" stroke="#ff0000" stroke-width="0.15">
<text x="154.6" y="37.9" font-size="13.4">III</text>
<text x="424.6" y="32.1" font-size="13.4">III</text>
<text x="153.5" y="201.3" font-size="13.4">III</text>
<text x="160.4" y="104.4" font-size="12.4">III</text>
<text x="268.3" y="22.7" font-size="13.4">II</text>
<text x="526.4" y="24.9" font-size="13.4">II</text>
<text x="188.2" y="26.8" font-size="10.8">Oxidation</text>
</g>
<g font-family="Liberation Sans, sans-serif" font-weight="bold" fill="#2ac02a" stroke="#2ac02a" stroke-width="0.15">
<text x="81.9" y="130" font-size="12.8">I</text>
<text x="352.4" y="130.5" font-size="12.8">I</text>
<text x="85.4" y="279.1" font-size="12.8">I</text>
<text x="85.5" y="151.0" font-size="10.5">Reduction</text>
</g>
<g font-family="Liberation Sans, sans-serif" font-size="10.30" fill="#111" stroke="#111" stroke-width="0.28">
<line x1="221.9" y1="87.9" x2="228.4" y2="87.9" stroke="#c9c9c9" stroke-width="2" stroke-opacity="1.00"/>
<text x="233.2" y="91.5">Diglyme</text>
<line x1="221.9" y1="102.2" x2="228.4" y2="102.2" stroke="#ff4400" stroke-width="2" stroke-opacity="1.00"/>
<text x="233.2" y="105.8">Dyglime+05DMT</text>
<line x1="221.9" y1="116.6" x2="228.4" y2="116.6" stroke="#cc1000" stroke-width="2" stroke-opacity="1.00"/>
<text x="233.2" y="120.2">Dyglime+1DMT</text>
<line x1="221.9" y1="131.1" x2="228.4" y2="131.1" stroke="#850000" stroke-width="2" stroke-opacity="1.00"/>
<text x="233.2" y="134.7">Dyglime+2DMT</text>
</g>
<g font-family="Liberation Sans, sans-serif" font-size="10.55" fill="#111" stroke="#111" stroke-width="0.28">
<line x1="433.0" y1="83.1" x2="440.0" y2="83.1" stroke="#c9c9c9" stroke-width="2" stroke-opacity="1.00"/>
<text x="444.5" y="86.7">Diglyme</text>
<line x1="433.0" y1="97.5" x2="440.0" y2="97.5" stroke="#850000" stroke-width="2" stroke-opacity="1.00"/>
<text x="444.5" y="101.1">Dyglime+2DMT early cycles</text>
<line x1="433.0" y1="111.8" x2="440.0" y2="111.8" stroke="#ff0000" stroke-width="2" stroke-opacity="0.18"/>
<text x="444.5" y="115.4">Diglyme+2DMT late cycles</text>
</g>
<g font-family="Liberation Sans, sans-serif" font-size="10.55" fill="#111" stroke="#111" stroke-width="0.28">
<line x1="158.7" y1="258.5" x2="165.0" y2="258.5" stroke="#c9c9c9" stroke-width="2" stroke-opacity="1.00"/>
<text x="169.2" y="262.1">Diglyme</text>
<line x1="158.7" y1="272.9" x2="165.0" y2="272.9" stroke="#850000" stroke-width="2" stroke-opacity="1.00"/>
<text x="169.2" y="276.5">Dyglime+2DMT early cycles</text>
<line x1="158.7" y1="287.4" x2="165.0" y2="287.4" stroke="#ff0000" stroke-width="2" stroke-opacity="0.18"/>
<text x="169.2" y="291.0">Diglyme+2DMT late cycles</text>
</g>
<g font-family="Liberation Sans, sans-serif" font-size="10.30" fill="#111" stroke="#111" stroke-width="0.28">
<line x1="476.6" y1="244.9" x2="483.6" y2="244.9" stroke="#c9c9c9" stroke-width="2" stroke-opacity="1.00"/>
<text x="488.0" y="248.5">Diglyme</text>
<line x1="476.6" y1="259.3" x2="483.6" y2="259.3" stroke="#850000" stroke-width="2" stroke-opacity="1.00"/>
<text x="488.0" y="262.9">Dyglime+2DMT</text>
<line x1="476.6" y1="273.8" x2="483.6" y2="273.8" stroke="#000" stroke-width="2" stroke-opacity="1.00"/>
<text x="488.0" y="277.4">Tanaka et al.</text>
<line x1="476.6" y1="287.6" x2="483.6" y2="287.6" stroke="#6a6a6a" stroke-width="2" stroke-opacity="1.00"/>
<text x="488.0" y="291.2">Urano et al.</text>
</g>
<g stroke="#111" stroke-width="1.1" fill="none">
<rect x="52.60" y="0.50" width="539.80" height="323.30"/>
<line x1="322.50" y1="0.50" x2="322.50" y2="323.80"/>
<line x1="52.60" y1="162.35" x2="592.40" y2="162.35"/>
<line x1="61.40" y1="0.50" x2="61.40" y2="6.30"/>
<line x1="61.40" y1="156.55" x2="61.40" y2="168.15"/>
<line x1="61.40" y1="323.80" x2="61.40" y2="318.00"/>
<line x1="83.15" y1="0.50" x2="83.15" y2="3.90"/>
<line x1="83.15" y1="158.95" x2="83.15" y2="165.75"/>
<line x1="83.15" y1="323.80" x2="83.15" y2="320.40"/>
<line x1="104.90" y1="0.50" x2="104.90" y2="6.30"/>
<line x1="104.90" y1="156.55" x2="104.90" y2="168.15"/>
<line x1="104.90" y1="323.80" x2="104.90" y2="318.00"/>
<line x1="126.65" y1="0.50" x2="126.65" y2="3.90"/>
<line x1="126.65" y1="158.95" x2="126.65" y2="165.75"/>
<line x1="126.65" y1="323.80" x2="126.65" y2="320.40"/>
<line x1="148.40" y1="0.50" x2="148.40" y2="6.30"/>
<line x1="148.40" y1="156.55" x2="148.40" y2="168.15"/>
<line x1="148.40" y1="323.80" x2="148.40" y2="318.00"/>
<line x1="170.15" y1="0.50" x2="170.15" y2="3.90"/>
<line x1="170.15" y1="158.95" x2="170.15" y2="165.75"/>
<line x1="170.15" y1="323.80" x2="170.15" y2="320.40"/>
<line x1="191.90" y1="0.50" x2="191.90" y2="6.30"/>
<line x1="191.90" y1="156.55" x2="191.90" y2="168.15"/>
<line x1="191.90" y1="323.80" x2="191.90" y2="318.00"/>
<line x1="213.65" y1="0.50" x2="213.65" y2="3.90"/>
<line x1="213.65" y1="158.95" x2="213.65" y2="165.75"/>
<line x1="213.65" y1="323.80" x2="213.65" y2="320.40"/>
<line x1="235.40" y1="0.50" x2="235.40" y2="6.30"/>
<line x1="235.40" y1="156.55" x2="235.40" y2="168.15"/>
<line x1="235.40" y1="323.80" x2="235.40" y2="318.00"/>
<line x1="257.15" y1="0.50" x2="257.15" y2="3.90"/>
<line x1="257.15" y1="158.95" x2="257.15" y2="165.75"/>
<line x1="257.15" y1="323.80" x2="257.15" y2="320.40"/>
<line x1="278.90" y1="0.50" x2="278.90" y2="6.30"/>
<line x1="278.90" y1="156.55" x2="278.90" y2="168.15"/>
<line x1="278.90" y1="323.80" x2="278.90" y2="318.00"/>
<line x1="300.65" y1="0.50" x2="300.65" y2="3.90"/>
<line x1="300.65" y1="158.95" x2="300.65" y2="165.75"/>
<line x1="300.65" y1="323.80" x2="300.65" y2="320.40"/>
<line x1="331.20" y1="0.50" x2="331.20" y2="6.30"/>
<line x1="331.20" y1="156.55" x2="331.20" y2="168.15"/>
<line x1="331.20" y1="323.80" x2="331.20" y2="318.00"/>
<line x1="352.95" y1="0.50" x2="352.95" y2="3.90"/>
<line x1="352.95" y1="158.95" x2="352.95" y2="165.75"/>
<line x1="352.95" y1="323.80" x2="352.95" y2="320.40"/>
<line x1="374.70" y1="0.50" x2="374.70" y2="6.30"/>
<line x1="374.70" y1="156.55" x2="374.70" y2="168.15"/>
<line x1="374.70" y1="323.80" x2="374.70" y2="318.00"/>
<line x1="396.45" y1="0.50" x2="396.45" y2="3.90"/>
<line x1="396.45" y1="158.95" x2="396.45" y2="165.75"/>
<line x1="396.45" y1="323.80" x2="396.45" y2="320.40"/>
<line x1="418.20" y1="0.50" x2="418.20" y2="6.30"/>
<line x1="418.20" y1="156.55" x2="418.20" y2="168.15"/>
<line x1="418.20" y1="323.80" x2="418.20" y2="318.00"/>
<line x1="439.95" y1="0.50" x2="439.95" y2="3.90"/>
<line x1="439.95" y1="158.95" x2="439.95" y2="165.75"/>
<line x1="439.95" y1="323.80" x2="439.95" y2="320.40"/>
<line x1="461.70" y1="0.50" x2="461.70" y2="6.30"/>
<line x1="461.70" y1="156.55" x2="461.70" y2="168.15"/>
<line x1="461.70" y1="323.80" x2="461.70" y2="318.00"/>
<line x1="483.45" y1="0.50" x2="483.45" y2="3.90"/>
<line x1="483.45" y1="158.95" x2="483.45" y2="165.75"/>
<line x1="483.45" y1="323.80" x2="483.45" y2="320.40"/>
<line x1="505.20" y1="0.50" x2="505.20" y2="6.30"/>
<line x1="505.20" y1="156.55" x2="505.20" y2="168.15"/>
<line x1="505.20" y1="323.80" x2="505.20" y2="318.00"/>
<line x1="526.95" y1="0.50" x2="526.95" y2="3.90"/>
<line x1="526.95" y1="158.95" x2="526.95" y2="165.75"/>
<line x1="526.95" y1="323.80" x2="526.95" y2="320.40"/>
<line x1="548.70" y1="0.50" x2="548.70" y2="6.30"/>
<line x1="548.70" y1="156.55" x2="548.70" y2="168.15"/>
<line x1="548.70" y1="323.80" x2="548.70" y2="318.00"/>
<line x1="570.45" y1="0.50" x2="570.45" y2="3.90"/>
<line x1="570.45" y1="158.95" x2="570.45" y2="165.75"/>
<line x1="570.45" y1="323.80" x2="570.45" y2="320.40"/>
<line x1="52.60" y1="11.26" x2="58.40" y2="11.26"/>
<line x1="316.70" y1="11.26" x2="328.30" y2="11.26"/>
<line x1="586.60" y1="11.26" x2="592.40" y2="11.26"/>
<line x1="52.60" y1="173.11" x2="58.40" y2="173.11"/>
<line x1="52.60" y1="32.78" x2="56.00" y2="32.78"/>
<line x1="319.10" y1="32.78" x2="325.90" y2="32.78"/>
<line x1="589.00" y1="32.78" x2="592.40" y2="32.78"/>
<line x1="52.60" y1="194.63" x2="56.00" y2="194.63"/>
<line x1="52.60" y1="54.30" x2="58.40" y2="54.30"/>
<line x1="316.70" y1="54.30" x2="328.30" y2="54.30"/>
<line x1="586.60" y1="54.30" x2="592.40" y2="54.30"/>
<line x1="52.60" y1="216.15" x2="58.40" y2="216.15"/>
<line x1="52.60" y1="75.82" x2="56.00" y2="75.82"/>
<line x1="319.10" y1="75.82" x2="325.90" y2="75.82"/>
<line x1="589.00" y1="75.82" x2="592.40" y2="75.82"/>
<line x1="52.60" y1="237.67" x2="56.00" y2="237.67"/>
<line x1="52.60" y1="97.34" x2="58.40" y2="97.34"/>
<line x1="316.70" y1="97.34" x2="328.30" y2="97.34"/>
<line x1="586.60" y1="97.34" x2="592.40" y2="97.34"/>
<line x1="52.60" y1="259.19" x2="58.40" y2="259.19"/>
<line x1="52.60" y1="118.86" x2="56.00" y2="118.86"/>
<line x1="319.10" y1="118.86" x2="325.90" y2="118.86"/>
<line x1="589.00" y1="118.86" x2="592.40" y2="118.86"/>
<line x1="52.60" y1="280.71" x2="56.00" y2="280.71"/>
<line x1="52.60" y1="140.38" x2="58.40" y2="140.38"/>
<line x1="316.70" y1="140.38" x2="328.30" y2="140.38"/>
<line x1="586.60" y1="140.38" x2="592.40" y2="140.38"/>
<line x1="52.60" y1="302.23" x2="58.40" y2="302.23"/>
<line x1="586.60" y1="170.38" x2="592.40" y2="170.38"/>
<line x1="589.00" y1="186.54" x2="592.40" y2="186.54"/>
<line x1="586.60" y1="202.70" x2="592.40" y2="202.70"/>
<line x1="589.00" y1="218.86" x2="592.40" y2="218.86"/>
<line x1="586.60" y1="235.02" x2="592.40" y2="235.02"/>
<line x1="589.00" y1="251.18" x2="592.40" y2="251.18"/>
<line x1="586.60" y1="267.34" x2="592.40" y2="267.34"/>
<line x1="589.00" y1="283.50" x2="592.40" y2="283.50"/>
<line x1="586.60" y1="299.66" x2="592.40" y2="299.66"/>
<line x1="589.00" y1="315.82" x2="592.40" y2="315.82"/>
</g>
<g font-family="Liberation Sans, sans-serif" font-size="10.6" fill="#111" stroke="#111" stroke-width="0.28">
<text x="61.40" y="339.0" text-anchor="middle">0.5</text>
<text x="104.90" y="339.0" text-anchor="middle">1</text>
<text x="148.40" y="339.0" text-anchor="middle">1.5</text>
<text x="191.90" y="339.0" text-anchor="middle">2</text>
<text x="235.40" y="339.0" text-anchor="middle">2.5</text>
<text x="278.90" y="339.0" text-anchor="middle">3</text>
<text x="331.20" y="339.0" text-anchor="middle">0.5</text>
<text x="374.70" y="339.0" text-anchor="middle">1</text>
<text x="418.20" y="339.0" text-anchor="middle">1.5</text>
<text x="461.70" y="339.0" text-anchor="middle">2</text>
<text x="505.20" y="339.0" text-anchor="middle">2.5</text>
<text x="548.70" y="339.0" text-anchor="middle">3</text>
<text x="592.20" y="339.0" text-anchor="middle">3.5</text>
<text x="47" y="15.06" text-anchor="end">400</text>
<text x="47" y="176.91" text-anchor="end">400</text>
<text x="47" y="58.10" text-anchor="end">0</text>
<text x="47" y="219.95" text-anchor="end">0</text>
<text x="47" y="101.14" text-anchor="end">-400</text>
<text x="47" y="262.99" text-anchor="end">-400</text>
<text x="47" y="144.18" text-anchor="end">-800</text>
<text x="47" y="306.03" text-anchor="end">-800</text>
<text x="597.6" y="174.18">400</text>
<text x="597.6" y="206.50">0</text>
<text x="597.6" y="238.82">-400</text>
<text x="597.6" y="271.14">-800</text>
<text x="597.6" y="303.46">-1200</text>
</g>
<text x="278.8" y="366.4" font-family="Liberation Sans, sans-serif" font-size="13.4" fill="#111" stroke="#111" stroke-width="0.28">E (V vs. Li<tspan font-size="11.5" dy="-2.6">+</tspan><tspan dy="2.6">/Li)</tspan></text>
<text transform="translate(9.4,161.9) rotate(-90)" text-anchor="middle" font-family="Liberation Sans, sans-serif" font-size="14" fill="#111" stroke="#111" stroke-width="0.28">I (μA)</text>
<text transform="translate(626.6,243.5) rotate(90)" text-anchor="middle" font-family="Liberation Sans, sans-serif" font-size="14" fill="#111" stroke="#111" stroke-width="0.28">I (μA)</text>
</svg>
</body></html>
